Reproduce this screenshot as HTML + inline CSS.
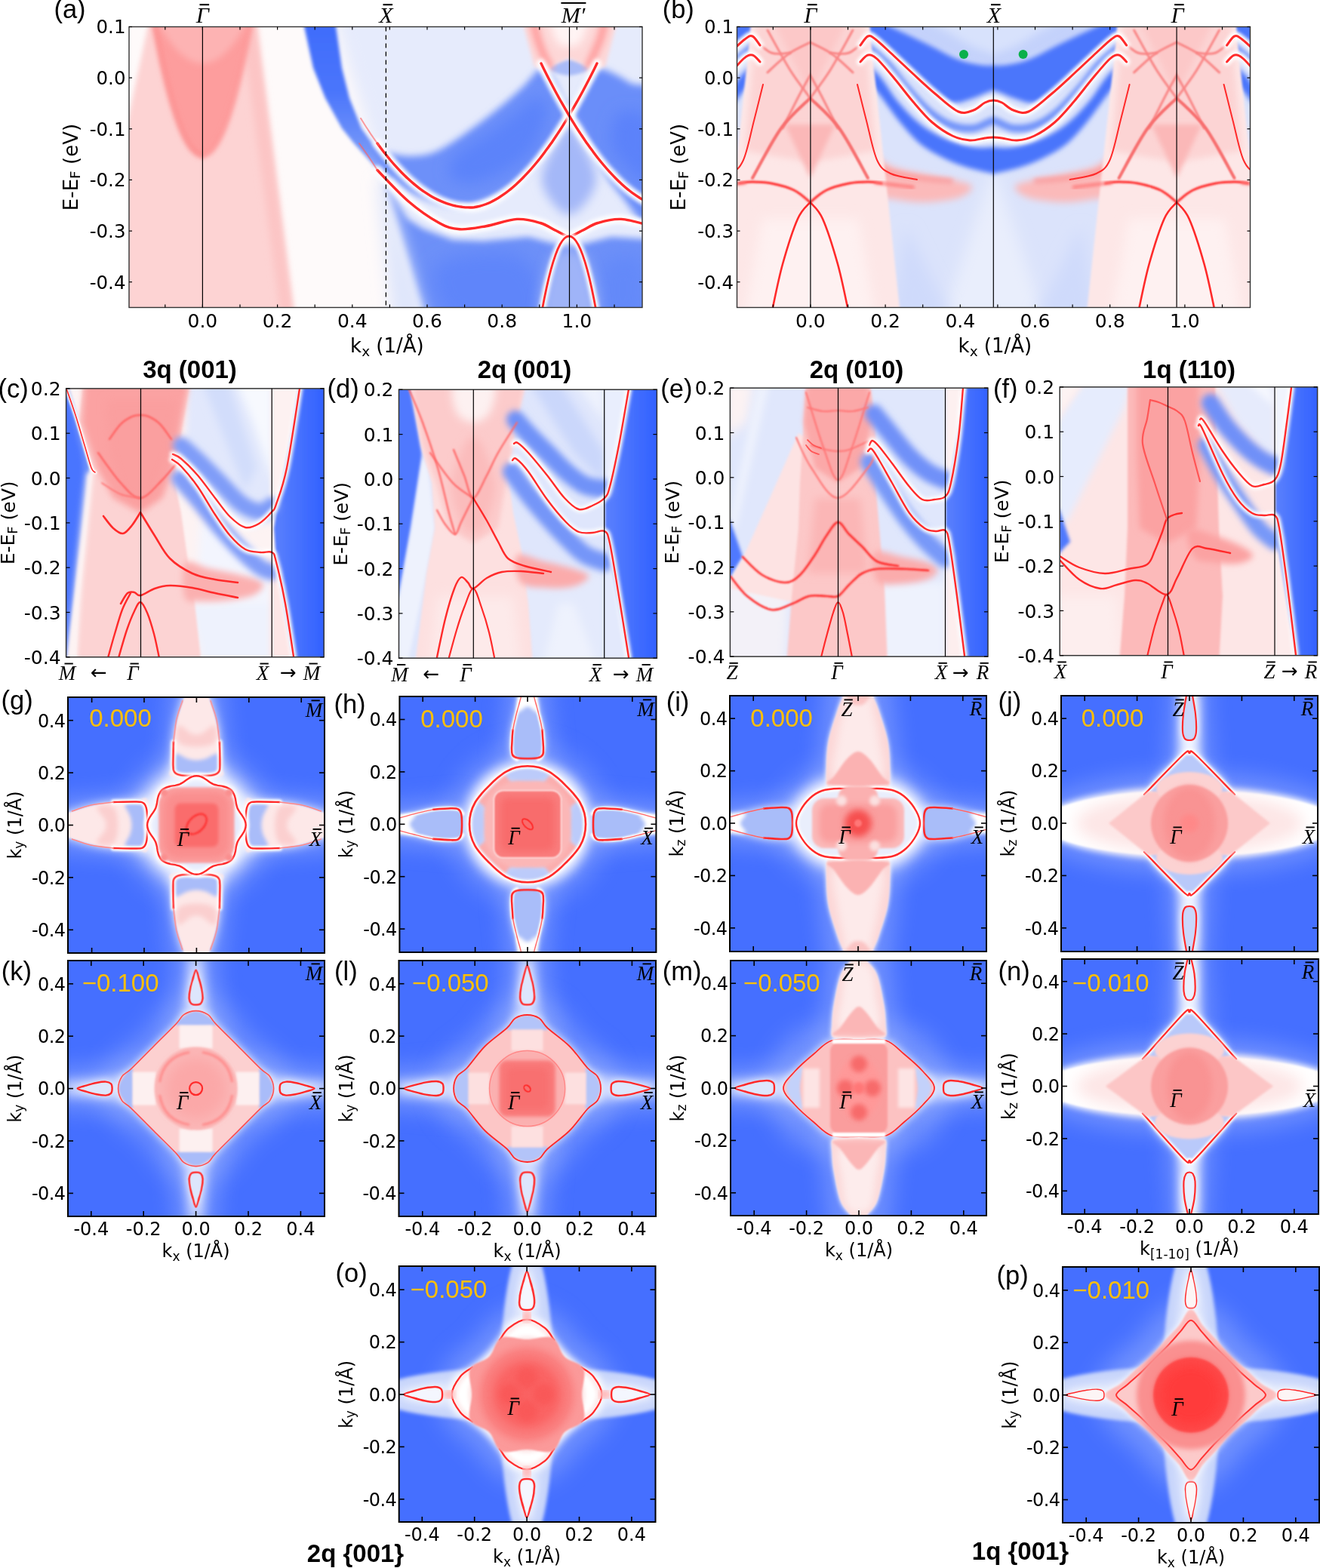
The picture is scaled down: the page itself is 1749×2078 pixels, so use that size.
<!DOCTYPE html>
<html><head><meta charset="utf-8"><title>Figure</title>
<style>html,body{margin:0;padding:0;background:#fff;}body{width:1749px;height:2078px;overflow:hidden;}svg{display:block;}</style>
</head><body>
<svg width="1749" height="2078" viewBox="0 0 1749 2078"><defs><clipPath id="c1"><rect x="171" y="35.5" width="680" height="372"/></clipPath><filter id="b0" x="-50%" y="-50%" width="200%" height="200%"><feGaussianBlur stdDeviation="10"/></filter><filter id="b1" x="-50%" y="-50%" width="200%" height="200%"><feGaussianBlur stdDeviation="3"/></filter><filter id="b2" x="-50%" y="-50%" width="200%" height="200%"><feGaussianBlur stdDeviation="5"/></filter><filter id="b3" x="-50%" y="-50%" width="200%" height="200%"><feGaussianBlur stdDeviation="2"/></filter><filter id="b4" x="-50%" y="-50%" width="200%" height="200%"><feGaussianBlur stdDeviation="4"/></filter><linearGradient id="gband" x1="0" y1="0" x2="0" y2="1" gradientUnits="objectBoundingBox"><stop offset="0" stop-color="#3e6bfb"/><stop offset="0.45" stop-color="#4a75fb"/><stop offset="0.8" stop-color="#7496f8"/><stop offset="1" stop-color="#a9bdf8"/></linearGradient><filter id="b5" x="-50%" y="-50%" width="200%" height="200%"><feGaussianBlur stdDeviation="7"/></filter><filter id="b6" x="-50%" y="-50%" width="200%" height="200%"><feGaussianBlur stdDeviation="12"/></filter><filter id="b7" x="-50%" y="-50%" width="200%" height="200%"><feGaussianBlur stdDeviation="8"/></filter><filter id="b8" x="-50%" y="-50%" width="200%" height="200%"><feGaussianBlur stdDeviation="2.5"/></filter><filter id="b9" x="-50%" y="-50%" width="200%" height="200%"><feGaussianBlur stdDeviation="6"/></filter><filter id="b10" x="-50%" y="-50%" width="200%" height="200%"><feGaussianBlur stdDeviation="0.6"/></filter><filter id="b11" x="-50%" y="-50%" width="200%" height="200%"><feGaussianBlur stdDeviation="0.5"/></filter><clipPath id="c2"><rect x="1073.5" y="35.5" width="242.8" height="372"/></clipPath><filter id="b12" x="-50%" y="-50%" width="200%" height="200%"><feGaussianBlur stdDeviation="1.5"/></filter><filter id="b13" x="-50%" y="-50%" width="200%" height="200%"><feGaussianBlur stdDeviation="1.2"/></filter><filter id="b14" x="-50%" y="-50%" width="200%" height="200%"><feGaussianBlur stdDeviation="0.8"/></filter><filter id="b15" x="-50%" y="-50%" width="200%" height="200%"><feGaussianBlur stdDeviation="2.2"/></filter><clipPath id="c3"><rect x="1316.3" y="35.5" width="242.8" height="372"/></clipPath><clipPath id="c4"><rect x="976.5" y="35.5" width="97" height="372"/></clipPath><clipPath id="c5"><rect x="1559.1" y="35.5" width="97.4" height="372"/></clipPath><clipPath id="c6"><rect x="87.6" y="514.9" width="341.6" height="355.9"/></clipPath><linearGradient id="gcr" x1="0" y1="0" x2="1" y2="0"><stop offset="0" stop-color="#5a80fd"/><stop offset="1" stop-color="#2b5cff"/></linearGradient><filter id="b16" x="-50%" y="-50%" width="200%" height="200%"><feGaussianBlur stdDeviation="0.4"/></filter><filter id="b17" x="-50%" y="-50%" width="200%" height="200%"><feGaussianBlur stdDeviation="1"/></filter><filter id="b18" x="-50%" y="-50%" width="200%" height="200%"><feGaussianBlur stdDeviation="0.7"/></filter><clipPath id="c7"><rect x="528.5" y="516.3" width="341.9" height="355.9"/></clipPath><linearGradient id="gdr" x1="0" y1="0" x2="1" y2="0"><stop offset="0" stop-color="#5a80fd"/><stop offset="1" stop-color="#2b5cff"/></linearGradient><clipPath id="c8"><rect x="967.4" y="514.2" width="341.6" height="355.9"/></clipPath><linearGradient id="ger" x1="0" y1="0" x2="1" y2="0"><stop offset="0" stop-color="#5a80fd"/><stop offset="1" stop-color="#2b5cff"/></linearGradient><clipPath id="c9"><rect x="1404.2" y="512.9" width="341.4" height="355.8"/></clipPath><linearGradient id="gfr" x1="0" y1="0" x2="1" y2="0"><stop offset="0" stop-color="#5a80fd"/><stop offset="1" stop-color="#2b5cff"/></linearGradient><clipPath id="c10"><rect x="90" y="924" width="340" height="339"/></clipPath><filter id="b19" x="-50%" y="-50%" width="200%" height="200%"><feGaussianBlur stdDeviation="16"/></filter><filter id="b20" x="-50%" y="-50%" width="200%" height="200%"><feGaussianBlur stdDeviation="14"/></filter><clipPath id="c11"><rect x="529.4" y="923" width="340" height="339"/></clipPath><filter id="b21" x="-50%" y="-50%" width="200%" height="200%"><feGaussianBlur stdDeviation="1.8"/></filter><clipPath id="c12"><rect x="967" y="922" width="340" height="339"/></clipPath><filter id="b22" x="-50%" y="-50%" width="200%" height="200%"><feGaussianBlur stdDeviation="9"/></filter><clipPath id="c13"><rect x="1406" y="922" width="340" height="339"/></clipPath><clipPath id="c14"><rect x="90" y="1273" width="340" height="339"/></clipPath><clipPath id="c15"><rect x="528.5" y="1273" width="340.5" height="339"/></clipPath><clipPath id="c16"><rect x="968" y="1273" width="339" height="338"/></clipPath><clipPath id="c17"><rect x="1407" y="1271" width="340" height="338"/></clipPath><clipPath id="c18"><rect x="528.7" y="1678" width="339.8" height="339"/></clipPath><clipPath id="c19"><rect x="1408" y="1679" width="340" height="339"/></clipPath></defs><rect width="1749" height="2078" fill="#fff"/><g clip-path="url(#c1)"><rect x="171" y="35.5" width="680" height="372" fill="#fefafa" /><path d="M470,10 C543.3,10 811.7,-60 880,10 C948.3,80 930.8,360 880,430 C829.2,500 633.3,451.7 575,430 C516.7,408.3 542.5,336.7 530,300 C517.5,263.3 515,258.3 500,210 C485,161.7 445,43.3 440,10 C435,-23.3 396.7,10 470,10 Z" fill="#e6ebfc" filter="url(#b0)" /><path d="M199,20 L337,20 L389,420 L150,420 L150,250 Z" fill="#fdd3d3" filter="url(#b1)" /><path d="M318,20 L338,20 L389,420 L372,420 Z" fill="#fcc5c5" filter="url(#b2)" /><path d="M200,7.6 L203.4,27 L206.8,45.4 L210.3,62.8 L213.7,79.1 L217.1,94.5 L220.6,108.9 L224,122.3 L227.4,134.7 L230.8,146.1 L234.2,156.6 L237.7,166 L241.1,174.4 L244.5,181.8 L247.9,188.3 L251.4,193.7 L254.8,198.2 L258.2,201.6 L261.6,204.1 L265.1,205.5 L268.5,206 L271.9,205.5 L275.4,204 L278.8,201.4 L282.2,197.9 L285.6,193.4 L289.1,187.9 L292.5,181.4 L295.9,173.9 L299.3,165.5 L302.8,156 L306.2,145.5 L309.6,134 L313,121.6 L316.4,108.1 L319.9,93.7 L323.3,78.2 L326.7,61.8 L330.1,44.3 L333.6,25.9 L337,6.5 Z" fill="#fd9d9d" filter="url(#b3)" /><path d="M203,24.6 L205.2,36.5 L207.3,47.9 L209.5,58.9 L211.7,69.5 L213.8,79.8 L216,89.6 L218.2,99 L220.3,108 L222.5,116.7 L224.7,124.9 L226.8,132.7 L229,140.2 L231.2,147.2 L233.3,153.9 L235.5,160.1 L237.7,166 L239.8,171.4 L242,176.4 L244.2,181.1 L246.3,185.4 L248.5,189.2 L250.7,192.7 L252.8,195.7 L255,198.4 L257.2,200.6 L259.3,202.5 L261.5,204 L263.7,205.1 L265.8,205.7 L268,206" fill="none" stroke="#fc8c8c" stroke-width="6" stroke-linecap="round" stroke-linejoin="round" filter="url(#b1)" /><path d="M268,206 L270.2,205.9 L272.3,205.3 L274.5,204.4 L276.7,203.1 L278.8,201.4 L281,199.3 L283.2,196.8 L285.3,193.8 L287.5,190.5 L289.7,186.8 L291.8,182.7 L294,178.2 L296.2,173.3 L298.3,168 L300.5,162.3 L302.7,156.2 L304.8,149.7 L307,142.8 L309.2,135.5 L311.3,127.8 L313.5,119.8 L315.7,111.3 L317.8,102.4 L320,93.1 L322.2,83.4 L324.3,73.3 L326.5,62.9 L328.7,52 L330.8,40.7 L333,29.1" fill="none" stroke="#fd9595" stroke-width="5" stroke-linecap="round" stroke-linejoin="round" filter="url(#b1)" /><path d="M205,21.7 L208.2,27.8 L211.3,33.6 L214.5,39 L217.7,44.2 L220.9,49 L224.1,53.5 L227.2,57.7 L230.4,61.6 L233.6,65.2 L236.8,68.5 L239.9,71.4 L243.1,74.1 L246.3,76.4 L249.4,78.4 L252.6,80.1 L255.8,81.5 L259,82.6 L262.1,83.4 L265.3,83.9 L268.5,84 L271.7,83.8 L274.9,83.4 L278,82.6 L281.2,81.5 L284.4,80 L287.6,78.3 L290.7,76.3 L293.9,73.9 L297.1,71.3 L300.2,68.3 L303.4,65 L306.6,61.4 L309.8,57.5 L312.9,53.2 L316.1,48.7 L319.3,43.8 L322.5,38.7 L325.6,33.2 L328.8,27.4 L332,21.3 Z" fill="#fdb3b3" filter="url(#b4)" /><path d="M400,20 L403,35 L415,90 L431,130 L453,170 L469,190 L487,210 L505,230 L516,242 L522,232 L515,220 L509,210 L493,190 L479,170 L463,130 L453,90 L445,35 L444,20 Z" fill="url(#gband)" filter="url(#b3)" /><path d="M490,190 C489.2,185.3 499.2,197.5 505,200 C510.8,202.5 517.8,203.8 525,205 C532.2,206.2 539.7,207.5 548,207 C556.3,206.5 565.5,205.7 575,202 C584.5,198.3 592.5,193.3 605,185 C617.5,176.7 635.8,163.2 650,152 C664.2,140.8 680.3,127 690,118 C699.7,109 703.7,102.3 708,98 C712.3,93.7 712.3,91.7 716,92 C719.7,92.3 725.2,93.7 730,100 C734.8,106.3 741,121.2 745,130 C749,138.8 761.5,136.3 754,153 C746.5,169.7 721.8,210.2 700,230 C678.2,249.8 646.3,266.7 623,272 C599.7,277.3 578.8,269.3 560,262 C541.2,254.7 521.7,240 510,228 C498.3,216 490.8,194.7 490,190 Z" fill="#6d90f9" filter="url(#b2)" /><path d="M600,210 C608.3,199.5 635,185.8 650,175 C665,164.2 679.7,152.8 690,145 C700.3,137.2 706.2,127.2 712,128 C717.8,128.8 727,137.2 725,150 C723,162.8 714.2,190 700,205 C685.8,220 656.7,234.5 640,240 C623.3,245.5 606.7,243 600,238 C593.3,233 591.7,220.5 600,210 Z" fill="#5c83fa" filter="url(#b0)" /><path d="M793,92 C798.3,89.7 803,93 810,96 C817,99 825,103.5 835,110 C845,116.5 864.2,103.3 870,135 C875.8,166.7 878.3,280 870,300 C861.7,320 833.3,270 820,255 C806.7,240 798.3,224.2 790,210 C781.7,195.8 775,180 770,170 C765,160 758.7,160 760,150 C761.3,140 772.5,119.7 778,110 C783.5,100.3 787.7,94.3 793,92 Z" fill="#6a8ef9" filter="url(#b2)" /><path d="M820,150 C828.3,145 853.3,145 860,160 C866.7,175 865,230 860,240 C855,250 838.3,228.3 830,220 C821.7,211.7 811.7,201.7 810,190 C808.3,178.3 811.7,155 820,150 Z" fill="#5b82fa" filter="url(#b0)" /><path d="M742,180 C748,167.5 750,165 754,165 C758,165 760,167.5 766,180 C772,192.5 792,222.5 790,240 C788,257.5 766,285 754,285 C742,285 720,257.5 718,240 C716,222.5 736,192.5 742,180 Z" fill="#a4b8f8" filter="url(#b5)" /><path d="M508,238 L540,290 L560,303 L600,318 L640,320 L700,314 L754,328 L810,314 L870,318 L870,430 L566,430 Z" fill="#6d90f8" filter="url(#b4)" /><path d="M500,240 L512,242 L566,430 L520,430 Z" fill="#dfe6fb" filter="url(#b0)" /><path d="M580,350 C595,336.7 667.5,328.3 690,340 C712.5,351.7 730,406.7 715,420 C700,433.3 622.5,431.7 600,420 C577.5,408.3 565,363.3 580,350 Z" fill="#5e85fa" filter="url(#b6)" /><path d="M800,350 C808.3,337.5 841.7,333.3 850,345 C858.3,356.7 858.3,407.5 850,420 C841.7,432.5 808.3,431.7 800,420 C791.7,408.3 791.7,362.5 800,350 Z" fill="#6489f9" filter="url(#b6)" /><path d="M730,345 C736,330 746,330 754,330 C762,330 772,330 778,345 C784,360 800,407.5 790,420 C780,432.5 728,432.5 718,420 C708,407.5 724,360 730,345 Z" fill="#9fb4f8" filter="url(#b7)" /><path d="M728,92 C725.3,89.2 733.7,85.2 738,83 C742.3,80.8 748.7,79 754,79 C759.3,79 765.7,80.8 770,83 C774.3,85.2 782.7,89.2 780,92 C777.3,94.8 762.7,100 754,100 C745.3,100 730.7,94.8 728,92 Z" fill="#a9bbf8" filter="url(#b3)" /><path d="M690,20 L820,20 L802,88 L786,92 L754,77 L722,92 L708,88 Z" fill="#fdd7d7" filter="url(#b8)" /><path d="M730,25 C732.7,20 746,25 754,25 C762,25 775.3,20 778,25 C780.7,30 774,48.8 770,55 C766,61.2 759.3,62 754,62 C748.7,62 742,61.2 738,55 C734,48.8 727.3,30 730,25 Z" fill="#fff4f4" filter="url(#b9)" /><path d="M706,25 C707,29.2 709.5,41.8 712,50 C714.5,58.2 718.3,67.7 721,74 C723.7,80.3 726.8,85.7 728,88" fill="none" stroke="#ff9d9d" stroke-width="10" stroke-linecap="round" stroke-linejoin="round" filter="url(#b4)" /><path d="M802,25 C801,29.2 798.7,41.8 796,50 C793.3,58.2 788.7,67.7 786,74 C783.3,80.3 781,85.7 780,88" fill="none" stroke="#ff9d9d" stroke-width="10" stroke-linecap="round" stroke-linejoin="round" filter="url(#b4)" /><path d="M500,190 C501.3,191.8 505.3,197.3 508,200.7 C510.7,204.1 513.3,207.5 516,210.7 C518.7,213.9 521.3,217 524,219.9 C526.7,222.9 529.3,225.7 532,228.5 C534.7,231.2 537.3,233.8 540,236.3 C542.7,238.8 545.3,241.1 548,243.4 C550.7,245.6 553.3,247.8 556,249.8 C558.7,251.8 561.3,253.7 564,255.4 C566.7,257.2 569.3,258.9 572,260.4 C574.7,261.9 577.3,263.3 580,264.6 C582.7,265.9 585.3,267.1 588,268.1 C590.7,269.2 593.3,270.1 596,270.9 C598.7,271.7 601.3,272.4 604,273 C606.7,273.5 609.3,274 612,274.3 C614.7,274.6 617.3,274.9 620,274.9 C622.7,275 625.3,275 628,274.7 C630.7,274.3 633.3,273.8 636,273.1 C638.7,272.4 641.3,271.5 644,270.5 C646.7,269.4 649.3,268.3 652,266.9 C654.7,265.6 657.3,264.1 660,262.5 C662.7,260.8 665.3,259.1 668,257.2 C670.7,255.3 673.3,253.2 676,251.1 C678.7,248.9 681.3,246.6 684,244.2 C686.7,241.8 689.3,239.2 692,236.5 C694.7,233.8 697.3,231 700,228.1 C702.7,225.2 705.3,222.2 708,219 C710.7,215.8 713.3,212.6 716,209.2 C718.7,205.8 721.3,202.2 724,198.6 C726.7,195 729.3,191.2 732,187.4 C734.7,183.5 737.3,179.5 740,175.5 C742.7,171.4 745.3,167.2 748,162.9 C750.7,158.6 753.3,154.2 756,149.6 C758.7,145.1 761.3,140.5 764,135.7 C766.7,131 769.3,126.1 772,121.2 C774.7,116.2 777.3,111.2 780,106 C782.7,100.8 786.2,93.8 788,90.2 C789.8,86.5 790.5,85.1 791,84.1" fill="none" stroke="#ffffff" stroke-width="12" stroke-linecap="round" stroke-linejoin="round" filter="url(#b8)" /><path d="M500,190 C501.3,191.8 505.3,197.3 508,200.7 C510.7,204.1 513.3,207.5 516,210.7 C518.7,213.9 521.3,217 524,219.9 C526.7,222.9 529.3,225.7 532,228.5 C534.7,231.2 537.3,233.8 540,236.3 C542.7,238.8 545.3,241.1 548,243.4 C550.7,245.6 553.3,247.8 556,249.8 C558.7,251.8 561.3,253.7 564,255.4 C566.7,257.2 569.3,258.9 572,260.4 C574.7,261.9 577.3,263.3 580,264.6 C582.7,265.9 585.3,267.1 588,268.1 C590.7,269.2 593.3,270.1 596,270.9 C598.7,271.7 601.3,272.4 604,273 C606.7,273.5 609.3,274 612,274.3 C614.7,274.6 617.3,274.9 620,274.9 C622.7,275 625.3,275 628,274.7 C630.7,274.3 633.3,273.8 636,273.1 C638.7,272.4 641.3,271.5 644,270.5 C646.7,269.4 649.3,268.3 652,266.9 C654.7,265.6 657.3,264.1 660,262.5 C662.7,260.8 665.3,259.1 668,257.2 C670.7,255.3 673.3,253.2 676,251.1 C678.7,248.9 681.3,246.6 684,244.2 C686.7,241.8 689.3,239.2 692,236.5 C694.7,233.8 697.3,231 700,228.1 C702.7,225.2 705.3,222.2 708,219 C710.7,215.8 713.3,212.6 716,209.2 C718.7,205.8 721.3,202.2 724,198.6 C726.7,195 729.3,191.2 732,187.4 C734.7,183.5 737.3,179.5 740,175.5 C742.7,171.4 745.3,167.2 748,162.9 C750.7,158.6 753.3,154.2 756,149.6 C758.7,145.1 761.3,140.5 764,135.7 C766.7,131 769.3,126.1 772,121.2 C774.7,116.2 777.3,111.2 780,106 C782.7,100.8 786.2,93.8 788,90.2 C789.8,86.5 790.5,85.1 791,84.1" fill="none" stroke="#ff2a2a" stroke-width="3.4" stroke-linecap="round" stroke-linejoin="round" filter="url(#b10)" /><path d="M1008,190 C1006.7,191.8 1002.7,197.3 1000,200.7 C997.3,204.1 994.7,207.5 992,210.7 C989.3,213.9 986.7,217 984,219.9 C981.3,222.9 978.7,225.7 976,228.5 C973.3,231.2 970.7,233.8 968,236.3 C965.3,238.8 962.7,241.1 960,243.4 C957.3,245.6 954.7,247.8 952,249.8 C949.3,251.8 946.7,253.7 944,255.4 C941.3,257.2 938.7,258.9 936,260.4 C933.3,261.9 930.7,263.3 928,264.6 C925.3,265.9 922.7,267.1 920,268.1 C917.3,269.2 914.7,270.1 912,270.9 C909.3,271.7 906.7,272.4 904,273 C901.3,273.5 898.7,274 896,274.3 C893.3,274.6 890.7,274.9 888,274.9 C885.3,275 882.7,275 880,274.7 C877.3,274.3 874.7,273.8 872,273.1 C869.3,272.4 866.7,271.5 864,270.5 C861.3,269.4 858.7,268.3 856,266.9 C853.3,265.6 850.7,264.1 848,262.5 C845.3,260.8 842.7,259.1 840,257.2 C837.3,255.3 834.7,253.2 832,251.1 C829.3,248.9 826.7,246.6 824,244.2 C821.3,241.8 818.7,239.2 816,236.5 C813.3,233.8 810.7,231 808,228.1 C805.3,225.2 802.7,222.2 800,219 C797.3,215.8 794.7,212.6 792,209.2 C789.3,205.8 786.7,202.2 784,198.6 C781.3,195 778.7,191.2 776,187.4 C773.3,183.5 770.7,179.5 768,175.5 C765.3,171.4 762.7,167.2 760,162.9 C757.3,158.6 754.7,154.2 752,149.6 C749.3,145.1 746.7,140.5 744,135.7 C741.3,131 738.7,126.1 736,121.2 C733.3,116.2 730.7,111.2 728,106 C725.3,100.8 721.8,93.8 720,90.2 C718.2,86.5 717.5,85.1 717,84.1" fill="none" stroke="#ffffff" stroke-width="12" stroke-linecap="round" stroke-linejoin="round" filter="url(#b8)" /><path d="M1008,190 C1006.7,191.8 1002.7,197.3 1000,200.7 C997.3,204.1 994.7,207.5 992,210.7 C989.3,213.9 986.7,217 984,219.9 C981.3,222.9 978.7,225.7 976,228.5 C973.3,231.2 970.7,233.8 968,236.3 C965.3,238.8 962.7,241.1 960,243.4 C957.3,245.6 954.7,247.8 952,249.8 C949.3,251.8 946.7,253.7 944,255.4 C941.3,257.2 938.7,258.9 936,260.4 C933.3,261.9 930.7,263.3 928,264.6 C925.3,265.9 922.7,267.1 920,268.1 C917.3,269.2 914.7,270.1 912,270.9 C909.3,271.7 906.7,272.4 904,273 C901.3,273.5 898.7,274 896,274.3 C893.3,274.6 890.7,274.9 888,274.9 C885.3,275 882.7,275 880,274.7 C877.3,274.3 874.7,273.8 872,273.1 C869.3,272.4 866.7,271.5 864,270.5 C861.3,269.4 858.7,268.3 856,266.9 C853.3,265.6 850.7,264.1 848,262.5 C845.3,260.8 842.7,259.1 840,257.2 C837.3,255.3 834.7,253.2 832,251.1 C829.3,248.9 826.7,246.6 824,244.2 C821.3,241.8 818.7,239.2 816,236.5 C813.3,233.8 810.7,231 808,228.1 C805.3,225.2 802.7,222.2 800,219 C797.3,215.8 794.7,212.6 792,209.2 C789.3,205.8 786.7,202.2 784,198.6 C781.3,195 778.7,191.2 776,187.4 C773.3,183.5 770.7,179.5 768,175.5 C765.3,171.4 762.7,167.2 760,162.9 C757.3,158.6 754.7,154.2 752,149.6 C749.3,145.1 746.7,140.5 744,135.7 C741.3,131 738.7,126.1 736,121.2 C733.3,116.2 730.7,111.2 728,106 C725.3,100.8 721.8,93.8 720,90.2 C718.2,86.5 717.5,85.1 717,84.1" fill="none" stroke="#ff2a2a" stroke-width="3.4" stroke-linecap="round" stroke-linejoin="round" filter="url(#b10)" /><path d="M478,156.9 C478.7,157.9 480.7,161.2 482,163.3 C483.3,165.4 484.7,167.5 486,169.5 C487.3,171.6 488.7,173.6 490,175.6 C491.3,177.6 492.7,179.6 494,181.5 C495.3,183.4 496.7,185.3 498,187.2 C499.3,189.1 501.3,191.8 502,192.7" fill="none" stroke="#ff6060" stroke-width="2" stroke-linecap="round" stroke-linejoin="round" filter="url(#b11)" opacity="0.6"/><path d="M500,225.5 C506.8,232.4 527.3,255 541,266.7 C554.7,278.4 570.7,289.3 582,295.5 C593.3,301.7 598.7,303.1 609,303.8 C619.3,304.5 631.3,301.9 644,299.7 C656.7,297.5 673,291.1 685,290.4 C697,289.7 707.3,292.9 716,295.5 C724.7,298.1 730.7,302.9 737,305.8 C743.3,308.7 748.3,313 754,313 C759.7,313 764.7,308.7 771,305.8 C777.3,302.9 783.3,298.1 792,295.5 C800.7,292.9 811,289.7 823,290.4 C835,291.1 857.2,298.1 864,299.7" fill="none" stroke="#ffffff" stroke-width="12" stroke-linecap="round" stroke-linejoin="round" filter="url(#b8)" /><path d="M500,225.5 C506.8,232.4 527.3,255 541,266.7 C554.7,278.4 570.7,289.3 582,295.5 C593.3,301.7 598.7,303.1 609,303.8 C619.3,304.5 631.3,301.9 644,299.7 C656.7,297.5 673,291.1 685,290.4 C697,289.7 707.3,292.9 716,295.5 C724.7,298.1 730.7,302.9 737,305.8 C743.3,308.7 748.3,313 754,313 C759.7,313 764.7,308.7 771,305.8 C777.3,302.9 783.3,298.1 792,295.5 C800.7,292.9 811,289.7 823,290.4 C835,291.1 857.2,298.1 864,299.7" fill="none" stroke="#ff2a2a" stroke-width="3.4" stroke-linecap="round" stroke-linejoin="round" filter="url(#b10)" /><path d="M476,190 C478.3,193.3 486,204.1 490,210 C494,215.9 498.3,222.9 500,225.5" fill="none" stroke="#ff6060" stroke-width="2" stroke-linecap="round" stroke-linejoin="round" filter="url(#b11)" opacity="0.6"/><path d="M712,448.4 C713,442.4 716,423.5 718,412.4 C720,401.4 722,391.3 724,382.1 C726,372.9 728,364.6 730,357.2 C732,349.8 734,343.4 736,337.9 C738,332.3 740,327.7 742,324 C744,320.4 746,317.6 748,315.8 C750,313.9 752,313 754,313 C756,313 758,313.9 760,315.8 C762,317.6 764,320.4 766,324 C768,327.7 770,332.3 772,337.9 C774,343.4 776,349.8 778,357.2 C780,364.6 782,372.9 784,382.1 C786,391.3 788,401.4 790,412.4 C792,423.5 795,442.4 796,448.4" fill="none" stroke="#ffffff" stroke-width="9" stroke-linecap="round" stroke-linejoin="round" filter="url(#b3)" /><path d="M712,448.4 C713,442.4 716,423.5 718,412.4 C720,401.4 722,391.3 724,382.1 C726,372.9 728,364.6 730,357.2 C732,349.8 734,343.4 736,337.9 C738,332.3 740,327.7 742,324 C744,320.4 746,317.6 748,315.8 C750,313.9 752,313 754,313 C756,313 758,313.9 760,315.8 C762,317.6 764,320.4 766,324 C768,327.7 770,332.3 772,337.9 C774,343.4 776,349.8 778,357.2 C780,364.6 782,372.9 784,382.1 C786,391.3 788,401.4 790,412.4 C792,423.5 795,442.4 796,448.4" fill="none" stroke="#ff2a2a" stroke-width="2.8" stroke-linecap="round" stroke-linejoin="round" filter="url(#b10)" /></g><line x1="511.4" y1="35.5" x2="511.4" y2="407.5" stroke="#000" stroke-width="1.3" stroke-dasharray="6,5"/><line x1="754.5" y1="35.5" x2="754.5" y2="407.5" stroke="#000" stroke-width="1.2" /><g clip-path="url(#c2)"><g transform=""><rect x="1040" y="20" width="300" height="400" fill="#dbe3fb" /><path d="M1316,225 L1340,240 L1340,420 L1250,420 L1290,300 Z" fill="#e9eefc" filter="url(#b0)" /><path d="M1200,300 L1260,420 L1180,420 Z" fill="#cfdafb" filter="url(#b0)" /><path d="M1150,20 C1175,17 1308.3,8.7 1340,20 C1371.7,31.3 1346.7,77.3 1340,88 C1333.3,98.7 1312.5,86.3 1300,84 C1287.5,81.7 1277.5,78.7 1265,74 C1252.5,69.3 1237.5,62 1225,56 C1212.5,50 1202.5,44 1190,38 C1177.5,32 1125,23 1150,20 Z" fill="#c4d2fb" filter="url(#b4)" /><path d="M1230,20 C1242.5,15.3 1321.7,11.3 1340,20 C1358.3,28.7 1346.7,64.3 1340,72 C1333.3,79.7 1312.5,70 1300,66 C1287.5,62 1276.7,55.7 1265,48 C1253.3,40.3 1217.5,24.7 1230,20 Z" fill="#d8e2fc" filter="url(#b9)" /><path d="M1160,28 C1166.7,28 1178.7,35 1190,40 C1201.3,45 1215,51.7 1228,58 C1241,64.3 1256,73.3 1268,78 C1280,82.7 1288,84 1300,86 C1312,88 1333.3,84.3 1340,90 C1346.7,95.7 1344,115 1340,120 C1336,125 1324.3,118.3 1316,120 C1307.7,121.7 1299,127.3 1290,130 C1281,132.7 1271.7,137.7 1262,136 C1252.3,134.3 1242.8,128 1232,120 C1221.2,112 1207.8,98 1197,88 C1186.2,78 1174.8,68 1167,60 C1159.2,52 1151.2,45.3 1150,40 C1148.8,34.7 1153.3,28 1160,28 Z" fill="#4b76fb" filter="url(#b1)" /><path d="M1150,62 C1154.2,65.7 1166.7,75.2 1175,84 C1183.3,92.8 1190.8,104.5 1200,115 C1209.2,125.5 1220,138.5 1230,147 C1240,155.5 1250,162.2 1260,166 C1270,169.8 1280.7,171 1290,170 C1299.3,169 1307.7,161.7 1316,160 C1324.3,158.3 1336,160 1340,160" fill="none" stroke="#6f92f9" stroke-width="10" stroke-linecap="round" stroke-linejoin="round" filter="url(#b1)" /><path d="M1146,86 C1148.8,85.2 1157.7,91.8 1165,100 C1172.3,108.2 1180.8,124.2 1190,135 C1199.2,145.8 1209.2,156.7 1220,165 C1230.8,173.3 1243.3,180 1255,185 C1266.7,190 1279.8,193.3 1290,195 C1300.2,196.7 1307.7,195 1316,195 C1324.3,195 1336,188.8 1340,195 C1344,201.2 1344,226.2 1340,232 C1336,237.8 1327.7,232.3 1316,230 C1304.3,227.7 1285.2,223.8 1270,218 C1254.8,212.2 1237.5,203.8 1225,195 C1212.5,186.2 1205,176.7 1195,165 C1185,153.3 1172.8,135 1165,125 C1157.2,115 1151.2,111.5 1148,105 C1144.8,98.5 1143.2,86.8 1146,86 Z" fill="#4a75fb" filter="url(#b1)" /><path d="M1150,205 C1155.8,199.3 1171.7,217.5 1185,222 C1198.3,226.5 1215.8,229 1230,232 C1244.2,235 1260.3,237.3 1270,240 C1279.7,242.7 1288,244.3 1288,248 C1288,251.7 1280.5,258.7 1270,262 C1259.5,265.3 1239.2,267.7 1225,268 C1210.8,268.3 1197.5,266 1185,264 C1172.5,262 1155.8,265.8 1150,256 C1144.2,246.2 1144.2,210.7 1150,205 Z" fill="#fbbaba" filter="url(#b2)" /><path d="M1155,215 C1159.2,217.2 1169.2,224.5 1180,228 C1190.8,231.5 1206.7,234 1220,236 C1233.3,238 1253.3,239.3 1260,240" fill="none" stroke="#fb9c9c" stroke-width="6" stroke-linecap="round" stroke-linejoin="round" filter="url(#b1)" /><path d="M997,20 L1150,20 L1152,35 L1192,408 L1194,420 L953,420 L955,408 L995,35 Z" fill="#fde7e7" filter="url(#b12)" /><path d="M1003,20 L1144,20 L1160,200 L1073.5,215 L987,200 Z" fill="#fcd4d4" filter="url(#b4)" /><path d="M1040,165 L1107,165 L1073.5,236 Z" fill="#fbb8b8" filter="url(#b1)" /><path d="M1020,20 L1127,20 L1073.5,125 Z" fill="#fcc8c8" filter="url(#b4)" /><path d="M1010,290 L1137,290 L1160,420 L987,420 Z" fill="#fef1f1" filter="url(#b7)" /><path d="M1073.5,130 C1079.9,136.7 1099.2,152.3 1112,170 C1124.8,187.7 1143.7,225 1150,236" fill="none" stroke="#f98585" stroke-width="3" stroke-linecap="round" stroke-linejoin="round" filter="url(#b13)" /><path d="M1073.5,130 C1077.9,123.8 1090.6,108 1100,93 C1109.4,78 1125,48.8 1130,40" fill="none" stroke="#f98585" stroke-width="3" stroke-linecap="round" stroke-linejoin="round" filter="url(#b13)" /><path d="M1030,40 C1037.2,50 1060.2,78.3 1073.5,100 C1086.8,121.7 1103.9,158.3 1110,170" fill="none" stroke="#f98585" stroke-width="3" stroke-linecap="round" stroke-linejoin="round" filter="url(#b13)" /><path d="M1060,50 C1066.7,53.3 1088.3,62.3 1100,70 C1111.7,77.7 1125,91.7 1130,96" fill="none" stroke="#f98585" stroke-width="3" stroke-linecap="round" stroke-linejoin="round" filter="url(#b13)" /><path d="M1100,70 C1104.2,70 1116.7,73.3 1125,70 C1133.3,66.7 1145.8,53.3 1150,50" fill="none" stroke="#f98585" stroke-width="3" stroke-linecap="round" stroke-linejoin="round" filter="url(#b13)" /><path d="M1073.5,130 C1079.9,136.7 1099.2,152.3 1112,170 C1124.8,187.7 1143.7,225 1150,236" fill="none" stroke="#f76b6b" stroke-width="3" stroke-linecap="round" stroke-linejoin="round" filter="url(#b14)" /><path d="M1073.5,268 C1077.1,265.3 1086.4,256.2 1095,252 C1103.6,247.8 1115.8,244.8 1125,243 C1134.2,241.2 1142.8,241 1150,241 C1157.2,241 1165,242.7 1168,243" fill="none" stroke="#ff2a2a" stroke-width="3" stroke-linecap="round" stroke-linejoin="round" filter="url(#b14)" /><path d="M1160,242 C1164.2,242.5 1176.7,244 1185,245 C1193.3,246 1205.8,247.5 1210,248" fill="none" stroke="#f77" stroke-width="4" stroke-linecap="round" stroke-linejoin="round" filter="url(#b3)" /><path d="M1073.5,268 C1076.2,271.7 1083.9,276.3 1090,290 C1096.1,303.7 1104.3,329.7 1110,350 C1115.7,370.3 1121.7,401.7 1124,412" fill="none" stroke="#ff2a2a" stroke-width="2.6" stroke-linecap="round" stroke-linejoin="round" filter="url(#b10)" /><path d="M1136,112 C1138,120 1143.7,143.3 1148,160 C1152.3,176.7 1156.7,200.3 1162,212 C1167.3,223.7 1171.2,225.7 1180,230 C1188.8,234.3 1209.2,236.7 1215,238" fill="none" stroke="#ff2a2a" stroke-width="2.0" stroke-linecap="round" stroke-linejoin="round" filter="url(#b11)" /><path d="M1140,60 C1141.7,58 1146.7,49.3 1150,48 C1153.3,46.7 1155,48.3 1160,52 C1165,55.7 1171.7,62.3 1180,70 C1188.3,77.7 1200,88.8 1210,98 C1220,107.2 1230,116.7 1240,125 C1250,133.3 1261.7,144.5 1270,148 C1278.3,151.5 1284.2,148 1290,146 C1295.8,144 1300.7,138.2 1305,136 C1309.3,133.8 1312.3,133 1316,133 C1319.7,133 1325.2,135.5 1327,136" fill="none" stroke="#ffffff" stroke-width="10" stroke-linecap="round" stroke-linejoin="round" filter="url(#b15)" /><path d="M1140,60 C1141.7,58 1146.7,49.3 1150,48 C1153.3,46.7 1155,48.3 1160,52 C1165,55.7 1171.7,62.3 1180,70 C1188.3,77.7 1200,88.8 1210,98 C1220,107.2 1230,116.7 1240,125 C1250,133.3 1261.7,144.5 1270,148 C1278.3,151.5 1284.2,148 1290,146 C1295.8,144 1300.7,138.2 1305,136 C1309.3,133.8 1312.3,133 1316,133 C1319.7,133 1325.2,135.5 1327,136" fill="none" stroke="#ff2a2a" stroke-width="3" stroke-linecap="round" stroke-linejoin="round" filter="url(#b10)" /><path d="M1140,82 C1141.7,80.5 1146.3,73.7 1150,73 C1153.7,72.3 1156.2,72.8 1162,78 C1167.8,83.2 1177,94.5 1185,104 C1193,113.5 1201.7,125.3 1210,135 C1218.3,144.7 1226.3,154.5 1235,162 C1243.7,169.5 1253.7,176 1262,180 C1270.3,184 1277.8,185.5 1285,186 C1292.2,186.5 1299.8,183.7 1305,183 C1310.2,182.3 1312.3,182 1316,182 C1319.7,182 1325.2,182.8 1327,183" fill="none" stroke="#ffffff" stroke-width="10" stroke-linecap="round" stroke-linejoin="round" filter="url(#b15)" /><path d="M1140,82 C1141.7,80.5 1146.3,73.7 1150,73 C1153.7,72.3 1156.2,72.8 1162,78 C1167.8,83.2 1177,94.5 1185,104 C1193,113.5 1201.7,125.3 1210,135 C1218.3,144.7 1226.3,154.5 1235,162 C1243.7,169.5 1253.7,176 1262,180 C1270.3,184 1277.8,185.5 1285,186 C1292.2,186.5 1299.8,183.7 1305,183 C1310.2,182.3 1312.3,182 1316,182 C1319.7,182 1325.2,182.8 1327,183" fill="none" stroke="#ff2a2a" stroke-width="3" stroke-linecap="round" stroke-linejoin="round" filter="url(#b10)" /></g></g><g clip-path="url(#c3)"><g transform="translate(2632.6,0) scale(-1,1)"><rect x="1040" y="20" width="300" height="400" fill="#dbe3fb" /><path d="M1316,225 L1340,240 L1340,420 L1250,420 L1290,300 Z" fill="#e9eefc" filter="url(#b0)" /><path d="M1200,300 L1260,420 L1180,420 Z" fill="#cfdafb" filter="url(#b0)" /><path d="M1150,20 C1175,17 1308.3,8.7 1340,20 C1371.7,31.3 1346.7,77.3 1340,88 C1333.3,98.7 1312.5,86.3 1300,84 C1287.5,81.7 1277.5,78.7 1265,74 C1252.5,69.3 1237.5,62 1225,56 C1212.5,50 1202.5,44 1190,38 C1177.5,32 1125,23 1150,20 Z" fill="#c4d2fb" filter="url(#b4)" /><path d="M1230,20 C1242.5,15.3 1321.7,11.3 1340,20 C1358.3,28.7 1346.7,64.3 1340,72 C1333.3,79.7 1312.5,70 1300,66 C1287.5,62 1276.7,55.7 1265,48 C1253.3,40.3 1217.5,24.7 1230,20 Z" fill="#d8e2fc" filter="url(#b9)" /><path d="M1160,28 C1166.7,28 1178.7,35 1190,40 C1201.3,45 1215,51.7 1228,58 C1241,64.3 1256,73.3 1268,78 C1280,82.7 1288,84 1300,86 C1312,88 1333.3,84.3 1340,90 C1346.7,95.7 1344,115 1340,120 C1336,125 1324.3,118.3 1316,120 C1307.7,121.7 1299,127.3 1290,130 C1281,132.7 1271.7,137.7 1262,136 C1252.3,134.3 1242.8,128 1232,120 C1221.2,112 1207.8,98 1197,88 C1186.2,78 1174.8,68 1167,60 C1159.2,52 1151.2,45.3 1150,40 C1148.8,34.7 1153.3,28 1160,28 Z" fill="#4b76fb" filter="url(#b1)" /><path d="M1150,62 C1154.2,65.7 1166.7,75.2 1175,84 C1183.3,92.8 1190.8,104.5 1200,115 C1209.2,125.5 1220,138.5 1230,147 C1240,155.5 1250,162.2 1260,166 C1270,169.8 1280.7,171 1290,170 C1299.3,169 1307.7,161.7 1316,160 C1324.3,158.3 1336,160 1340,160" fill="none" stroke="#6f92f9" stroke-width="10" stroke-linecap="round" stroke-linejoin="round" filter="url(#b1)" /><path d="M1146,86 C1148.8,85.2 1157.7,91.8 1165,100 C1172.3,108.2 1180.8,124.2 1190,135 C1199.2,145.8 1209.2,156.7 1220,165 C1230.8,173.3 1243.3,180 1255,185 C1266.7,190 1279.8,193.3 1290,195 C1300.2,196.7 1307.7,195 1316,195 C1324.3,195 1336,188.8 1340,195 C1344,201.2 1344,226.2 1340,232 C1336,237.8 1327.7,232.3 1316,230 C1304.3,227.7 1285.2,223.8 1270,218 C1254.8,212.2 1237.5,203.8 1225,195 C1212.5,186.2 1205,176.7 1195,165 C1185,153.3 1172.8,135 1165,125 C1157.2,115 1151.2,111.5 1148,105 C1144.8,98.5 1143.2,86.8 1146,86 Z" fill="#4a75fb" filter="url(#b1)" /><path d="M1150,205 C1155.8,199.3 1171.7,217.5 1185,222 C1198.3,226.5 1215.8,229 1230,232 C1244.2,235 1260.3,237.3 1270,240 C1279.7,242.7 1288,244.3 1288,248 C1288,251.7 1280.5,258.7 1270,262 C1259.5,265.3 1239.2,267.7 1225,268 C1210.8,268.3 1197.5,266 1185,264 C1172.5,262 1155.8,265.8 1150,256 C1144.2,246.2 1144.2,210.7 1150,205 Z" fill="#fbbaba" filter="url(#b2)" /><path d="M1155,215 C1159.2,217.2 1169.2,224.5 1180,228 C1190.8,231.5 1206.7,234 1220,236 C1233.3,238 1253.3,239.3 1260,240" fill="none" stroke="#fb9c9c" stroke-width="6" stroke-linecap="round" stroke-linejoin="round" filter="url(#b1)" /><path d="M997,20 L1150,20 L1152,35 L1192,408 L1194,420 L953,420 L955,408 L995,35 Z" fill="#fde7e7" filter="url(#b12)" /><path d="M1003,20 L1144,20 L1160,200 L1073.5,215 L987,200 Z" fill="#fcd4d4" filter="url(#b4)" /><path d="M1040,165 L1107,165 L1073.5,236 Z" fill="#fbb8b8" filter="url(#b1)" /><path d="M1020,20 L1127,20 L1073.5,125 Z" fill="#fcc8c8" filter="url(#b4)" /><path d="M1010,290 L1137,290 L1160,420 L987,420 Z" fill="#fef1f1" filter="url(#b7)" /><path d="M1073.5,130 C1079.9,136.7 1099.2,152.3 1112,170 C1124.8,187.7 1143.7,225 1150,236" fill="none" stroke="#f98585" stroke-width="3" stroke-linecap="round" stroke-linejoin="round" filter="url(#b13)" /><path d="M1073.5,130 C1077.9,123.8 1090.6,108 1100,93 C1109.4,78 1125,48.8 1130,40" fill="none" stroke="#f98585" stroke-width="3" stroke-linecap="round" stroke-linejoin="round" filter="url(#b13)" /><path d="M1030,40 C1037.2,50 1060.2,78.3 1073.5,100 C1086.8,121.7 1103.9,158.3 1110,170" fill="none" stroke="#f98585" stroke-width="3" stroke-linecap="round" stroke-linejoin="round" filter="url(#b13)" /><path d="M1060,50 C1066.7,53.3 1088.3,62.3 1100,70 C1111.7,77.7 1125,91.7 1130,96" fill="none" stroke="#f98585" stroke-width="3" stroke-linecap="round" stroke-linejoin="round" filter="url(#b13)" /><path d="M1100,70 C1104.2,70 1116.7,73.3 1125,70 C1133.3,66.7 1145.8,53.3 1150,50" fill="none" stroke="#f98585" stroke-width="3" stroke-linecap="round" stroke-linejoin="round" filter="url(#b13)" /><path d="M1073.5,130 C1079.9,136.7 1099.2,152.3 1112,170 C1124.8,187.7 1143.7,225 1150,236" fill="none" stroke="#f76b6b" stroke-width="3" stroke-linecap="round" stroke-linejoin="round" filter="url(#b14)" /><path d="M1073.5,268 C1077.1,265.3 1086.4,256.2 1095,252 C1103.6,247.8 1115.8,244.8 1125,243 C1134.2,241.2 1142.8,241 1150,241 C1157.2,241 1165,242.7 1168,243" fill="none" stroke="#ff2a2a" stroke-width="3" stroke-linecap="round" stroke-linejoin="round" filter="url(#b14)" /><path d="M1160,242 C1164.2,242.5 1176.7,244 1185,245 C1193.3,246 1205.8,247.5 1210,248" fill="none" stroke="#f77" stroke-width="4" stroke-linecap="round" stroke-linejoin="round" filter="url(#b3)" /><path d="M1073.5,268 C1076.2,271.7 1083.9,276.3 1090,290 C1096.1,303.7 1104.3,329.7 1110,350 C1115.7,370.3 1121.7,401.7 1124,412" fill="none" stroke="#ff2a2a" stroke-width="2.6" stroke-linecap="round" stroke-linejoin="round" filter="url(#b10)" /><path d="M1136,112 C1138,120 1143.7,143.3 1148,160 C1152.3,176.7 1156.7,200.3 1162,212 C1167.3,223.7 1171.2,225.7 1180,230 C1188.8,234.3 1209.2,236.7 1215,238" fill="none" stroke="#ff2a2a" stroke-width="2.0" stroke-linecap="round" stroke-linejoin="round" filter="url(#b11)" /><path d="M1140,60 C1141.7,58 1146.7,49.3 1150,48 C1153.3,46.7 1155,48.3 1160,52 C1165,55.7 1171.7,62.3 1180,70 C1188.3,77.7 1200,88.8 1210,98 C1220,107.2 1230,116.7 1240,125 C1250,133.3 1261.7,144.5 1270,148 C1278.3,151.5 1284.2,148 1290,146 C1295.8,144 1300.7,138.2 1305,136 C1309.3,133.8 1312.3,133 1316,133 C1319.7,133 1325.2,135.5 1327,136" fill="none" stroke="#ffffff" stroke-width="10" stroke-linecap="round" stroke-linejoin="round" filter="url(#b15)" /><path d="M1140,60 C1141.7,58 1146.7,49.3 1150,48 C1153.3,46.7 1155,48.3 1160,52 C1165,55.7 1171.7,62.3 1180,70 C1188.3,77.7 1200,88.8 1210,98 C1220,107.2 1230,116.7 1240,125 C1250,133.3 1261.7,144.5 1270,148 C1278.3,151.5 1284.2,148 1290,146 C1295.8,144 1300.7,138.2 1305,136 C1309.3,133.8 1312.3,133 1316,133 C1319.7,133 1325.2,135.5 1327,136" fill="none" stroke="#ff2a2a" stroke-width="3" stroke-linecap="round" stroke-linejoin="round" filter="url(#b10)" /><path d="M1140,82 C1141.7,80.5 1146.3,73.7 1150,73 C1153.7,72.3 1156.2,72.8 1162,78 C1167.8,83.2 1177,94.5 1185,104 C1193,113.5 1201.7,125.3 1210,135 C1218.3,144.7 1226.3,154.5 1235,162 C1243.7,169.5 1253.7,176 1262,180 C1270.3,184 1277.8,185.5 1285,186 C1292.2,186.5 1299.8,183.7 1305,183 C1310.2,182.3 1312.3,182 1316,182 C1319.7,182 1325.2,182.8 1327,183" fill="none" stroke="#ffffff" stroke-width="10" stroke-linecap="round" stroke-linejoin="round" filter="url(#b15)" /><path d="M1140,82 C1141.7,80.5 1146.3,73.7 1150,73 C1153.7,72.3 1156.2,72.8 1162,78 C1167.8,83.2 1177,94.5 1185,104 C1193,113.5 1201.7,125.3 1210,135 C1218.3,144.7 1226.3,154.5 1235,162 C1243.7,169.5 1253.7,176 1262,180 C1270.3,184 1277.8,185.5 1285,186 C1292.2,186.5 1299.8,183.7 1305,183 C1310.2,182.3 1312.3,182 1316,182 C1319.7,182 1325.2,182.8 1327,183" fill="none" stroke="#ff2a2a" stroke-width="3" stroke-linecap="round" stroke-linejoin="round" filter="url(#b10)" /></g></g><g clip-path="url(#c4)"><g transform="translate(2147.0,0) scale(-1,1)"><rect x="1040" y="20" width="300" height="400" fill="#dbe3fb" /><path d="M1316,225 L1340,240 L1340,420 L1250,420 L1290,300 Z" fill="#e9eefc" filter="url(#b0)" /><path d="M1200,300 L1260,420 L1180,420 Z" fill="#cfdafb" filter="url(#b0)" /><path d="M1150,20 C1175,17 1308.3,8.7 1340,20 C1371.7,31.3 1346.7,77.3 1340,88 C1333.3,98.7 1312.5,86.3 1300,84 C1287.5,81.7 1277.5,78.7 1265,74 C1252.5,69.3 1237.5,62 1225,56 C1212.5,50 1202.5,44 1190,38 C1177.5,32 1125,23 1150,20 Z" fill="#c4d2fb" filter="url(#b4)" /><path d="M1230,20 C1242.5,15.3 1321.7,11.3 1340,20 C1358.3,28.7 1346.7,64.3 1340,72 C1333.3,79.7 1312.5,70 1300,66 C1287.5,62 1276.7,55.7 1265,48 C1253.3,40.3 1217.5,24.7 1230,20 Z" fill="#d8e2fc" filter="url(#b9)" /><path d="M1160,28 C1166.7,28 1178.7,35 1190,40 C1201.3,45 1215,51.7 1228,58 C1241,64.3 1256,73.3 1268,78 C1280,82.7 1288,84 1300,86 C1312,88 1333.3,84.3 1340,90 C1346.7,95.7 1344,115 1340,120 C1336,125 1324.3,118.3 1316,120 C1307.7,121.7 1299,127.3 1290,130 C1281,132.7 1271.7,137.7 1262,136 C1252.3,134.3 1242.8,128 1232,120 C1221.2,112 1207.8,98 1197,88 C1186.2,78 1174.8,68 1167,60 C1159.2,52 1151.2,45.3 1150,40 C1148.8,34.7 1153.3,28 1160,28 Z" fill="#4b76fb" filter="url(#b1)" /><path d="M1150,62 C1154.2,65.7 1166.7,75.2 1175,84 C1183.3,92.8 1190.8,104.5 1200,115 C1209.2,125.5 1220,138.5 1230,147 C1240,155.5 1250,162.2 1260,166 C1270,169.8 1280.7,171 1290,170 C1299.3,169 1307.7,161.7 1316,160 C1324.3,158.3 1336,160 1340,160" fill="none" stroke="#6f92f9" stroke-width="10" stroke-linecap="round" stroke-linejoin="round" filter="url(#b1)" /><path d="M1146,86 C1148.8,85.2 1157.7,91.8 1165,100 C1172.3,108.2 1180.8,124.2 1190,135 C1199.2,145.8 1209.2,156.7 1220,165 C1230.8,173.3 1243.3,180 1255,185 C1266.7,190 1279.8,193.3 1290,195 C1300.2,196.7 1307.7,195 1316,195 C1324.3,195 1336,188.8 1340,195 C1344,201.2 1344,226.2 1340,232 C1336,237.8 1327.7,232.3 1316,230 C1304.3,227.7 1285.2,223.8 1270,218 C1254.8,212.2 1237.5,203.8 1225,195 C1212.5,186.2 1205,176.7 1195,165 C1185,153.3 1172.8,135 1165,125 C1157.2,115 1151.2,111.5 1148,105 C1144.8,98.5 1143.2,86.8 1146,86 Z" fill="#4a75fb" filter="url(#b1)" /><path d="M1150,205 C1155.8,199.3 1171.7,217.5 1185,222 C1198.3,226.5 1215.8,229 1230,232 C1244.2,235 1260.3,237.3 1270,240 C1279.7,242.7 1288,244.3 1288,248 C1288,251.7 1280.5,258.7 1270,262 C1259.5,265.3 1239.2,267.7 1225,268 C1210.8,268.3 1197.5,266 1185,264 C1172.5,262 1155.8,265.8 1150,256 C1144.2,246.2 1144.2,210.7 1150,205 Z" fill="#fbbaba" filter="url(#b2)" /><path d="M1155,215 C1159.2,217.2 1169.2,224.5 1180,228 C1190.8,231.5 1206.7,234 1220,236 C1233.3,238 1253.3,239.3 1260,240" fill="none" stroke="#fb9c9c" stroke-width="6" stroke-linecap="round" stroke-linejoin="round" filter="url(#b1)" /><path d="M997,20 L1150,20 L1152,35 L1192,408 L1194,420 L953,420 L955,408 L995,35 Z" fill="#fde7e7" filter="url(#b12)" /><path d="M1003,20 L1144,20 L1160,200 L1073.5,215 L987,200 Z" fill="#fcd4d4" filter="url(#b4)" /><path d="M1040,165 L1107,165 L1073.5,236 Z" fill="#fbb8b8" filter="url(#b1)" /><path d="M1020,20 L1127,20 L1073.5,125 Z" fill="#fcc8c8" filter="url(#b4)" /><path d="M1010,290 L1137,290 L1160,420 L987,420 Z" fill="#fef1f1" filter="url(#b7)" /><path d="M1073.5,130 C1079.9,136.7 1099.2,152.3 1112,170 C1124.8,187.7 1143.7,225 1150,236" fill="none" stroke="#f98585" stroke-width="3" stroke-linecap="round" stroke-linejoin="round" filter="url(#b13)" /><path d="M1073.5,130 C1077.9,123.8 1090.6,108 1100,93 C1109.4,78 1125,48.8 1130,40" fill="none" stroke="#f98585" stroke-width="3" stroke-linecap="round" stroke-linejoin="round" filter="url(#b13)" /><path d="M1030,40 C1037.2,50 1060.2,78.3 1073.5,100 C1086.8,121.7 1103.9,158.3 1110,170" fill="none" stroke="#f98585" stroke-width="3" stroke-linecap="round" stroke-linejoin="round" filter="url(#b13)" /><path d="M1060,50 C1066.7,53.3 1088.3,62.3 1100,70 C1111.7,77.7 1125,91.7 1130,96" fill="none" stroke="#f98585" stroke-width="3" stroke-linecap="round" stroke-linejoin="round" filter="url(#b13)" /><path d="M1100,70 C1104.2,70 1116.7,73.3 1125,70 C1133.3,66.7 1145.8,53.3 1150,50" fill="none" stroke="#f98585" stroke-width="3" stroke-linecap="round" stroke-linejoin="round" filter="url(#b13)" /><path d="M1073.5,130 C1079.9,136.7 1099.2,152.3 1112,170 C1124.8,187.7 1143.7,225 1150,236" fill="none" stroke="#f76b6b" stroke-width="3" stroke-linecap="round" stroke-linejoin="round" filter="url(#b14)" /><path d="M1073.5,268 C1077.1,265.3 1086.4,256.2 1095,252 C1103.6,247.8 1115.8,244.8 1125,243 C1134.2,241.2 1142.8,241 1150,241 C1157.2,241 1165,242.7 1168,243" fill="none" stroke="#ff2a2a" stroke-width="3" stroke-linecap="round" stroke-linejoin="round" filter="url(#b14)" /><path d="M1160,242 C1164.2,242.5 1176.7,244 1185,245 C1193.3,246 1205.8,247.5 1210,248" fill="none" stroke="#f77" stroke-width="4" stroke-linecap="round" stroke-linejoin="round" filter="url(#b3)" /><path d="M1073.5,268 C1076.2,271.7 1083.9,276.3 1090,290 C1096.1,303.7 1104.3,329.7 1110,350 C1115.7,370.3 1121.7,401.7 1124,412" fill="none" stroke="#ff2a2a" stroke-width="2.6" stroke-linecap="round" stroke-linejoin="round" filter="url(#b10)" /><path d="M1136,112 C1138,120 1143.7,143.3 1148,160 C1152.3,176.7 1156.7,200.3 1162,212 C1167.3,223.7 1171.2,225.7 1180,230 C1188.8,234.3 1209.2,236.7 1215,238" fill="none" stroke="#ff2a2a" stroke-width="2.0" stroke-linecap="round" stroke-linejoin="round" filter="url(#b11)" /><path d="M1140,60 C1141.7,58 1146.7,49.3 1150,48 C1153.3,46.7 1155,48.3 1160,52 C1165,55.7 1171.7,62.3 1180,70 C1188.3,77.7 1200,88.8 1210,98 C1220,107.2 1230,116.7 1240,125 C1250,133.3 1261.7,144.5 1270,148 C1278.3,151.5 1284.2,148 1290,146 C1295.8,144 1300.7,138.2 1305,136 C1309.3,133.8 1312.3,133 1316,133 C1319.7,133 1325.2,135.5 1327,136" fill="none" stroke="#ffffff" stroke-width="10" stroke-linecap="round" stroke-linejoin="round" filter="url(#b15)" /><path d="M1140,60 C1141.7,58 1146.7,49.3 1150,48 C1153.3,46.7 1155,48.3 1160,52 C1165,55.7 1171.7,62.3 1180,70 C1188.3,77.7 1200,88.8 1210,98 C1220,107.2 1230,116.7 1240,125 C1250,133.3 1261.7,144.5 1270,148 C1278.3,151.5 1284.2,148 1290,146 C1295.8,144 1300.7,138.2 1305,136 C1309.3,133.8 1312.3,133 1316,133 C1319.7,133 1325.2,135.5 1327,136" fill="none" stroke="#ff2a2a" stroke-width="3" stroke-linecap="round" stroke-linejoin="round" filter="url(#b10)" /><path d="M1140,82 C1141.7,80.5 1146.3,73.7 1150,73 C1153.7,72.3 1156.2,72.8 1162,78 C1167.8,83.2 1177,94.5 1185,104 C1193,113.5 1201.7,125.3 1210,135 C1218.3,144.7 1226.3,154.5 1235,162 C1243.7,169.5 1253.7,176 1262,180 C1270.3,184 1277.8,185.5 1285,186 C1292.2,186.5 1299.8,183.7 1305,183 C1310.2,182.3 1312.3,182 1316,182 C1319.7,182 1325.2,182.8 1327,183" fill="none" stroke="#ffffff" stroke-width="10" stroke-linecap="round" stroke-linejoin="round" filter="url(#b15)" /><path d="M1140,82 C1141.7,80.5 1146.3,73.7 1150,73 C1153.7,72.3 1156.2,72.8 1162,78 C1167.8,83.2 1177,94.5 1185,104 C1193,113.5 1201.7,125.3 1210,135 C1218.3,144.7 1226.3,154.5 1235,162 C1243.7,169.5 1253.7,176 1262,180 C1270.3,184 1277.8,185.5 1285,186 C1292.2,186.5 1299.8,183.7 1305,183 C1310.2,182.3 1312.3,182 1316,182 C1319.7,182 1325.2,182.8 1327,183" fill="none" stroke="#ff2a2a" stroke-width="3" stroke-linecap="round" stroke-linejoin="round" filter="url(#b10)" /></g></g><g clip-path="url(#c5)"><g transform="translate(485.5999999999999,0)"><rect x="1040" y="20" width="300" height="400" fill="#dbe3fb" /><path d="M1316,225 L1340,240 L1340,420 L1250,420 L1290,300 Z" fill="#e9eefc" filter="url(#b0)" /><path d="M1200,300 L1260,420 L1180,420 Z" fill="#cfdafb" filter="url(#b0)" /><path d="M1150,20 C1175,17 1308.3,8.7 1340,20 C1371.7,31.3 1346.7,77.3 1340,88 C1333.3,98.7 1312.5,86.3 1300,84 C1287.5,81.7 1277.5,78.7 1265,74 C1252.5,69.3 1237.5,62 1225,56 C1212.5,50 1202.5,44 1190,38 C1177.5,32 1125,23 1150,20 Z" fill="#c4d2fb" filter="url(#b4)" /><path d="M1230,20 C1242.5,15.3 1321.7,11.3 1340,20 C1358.3,28.7 1346.7,64.3 1340,72 C1333.3,79.7 1312.5,70 1300,66 C1287.5,62 1276.7,55.7 1265,48 C1253.3,40.3 1217.5,24.7 1230,20 Z" fill="#d8e2fc" filter="url(#b9)" /><path d="M1160,28 C1166.7,28 1178.7,35 1190,40 C1201.3,45 1215,51.7 1228,58 C1241,64.3 1256,73.3 1268,78 C1280,82.7 1288,84 1300,86 C1312,88 1333.3,84.3 1340,90 C1346.7,95.7 1344,115 1340,120 C1336,125 1324.3,118.3 1316,120 C1307.7,121.7 1299,127.3 1290,130 C1281,132.7 1271.7,137.7 1262,136 C1252.3,134.3 1242.8,128 1232,120 C1221.2,112 1207.8,98 1197,88 C1186.2,78 1174.8,68 1167,60 C1159.2,52 1151.2,45.3 1150,40 C1148.8,34.7 1153.3,28 1160,28 Z" fill="#4b76fb" filter="url(#b1)" /><path d="M1150,62 C1154.2,65.7 1166.7,75.2 1175,84 C1183.3,92.8 1190.8,104.5 1200,115 C1209.2,125.5 1220,138.5 1230,147 C1240,155.5 1250,162.2 1260,166 C1270,169.8 1280.7,171 1290,170 C1299.3,169 1307.7,161.7 1316,160 C1324.3,158.3 1336,160 1340,160" fill="none" stroke="#6f92f9" stroke-width="10" stroke-linecap="round" stroke-linejoin="round" filter="url(#b1)" /><path d="M1146,86 C1148.8,85.2 1157.7,91.8 1165,100 C1172.3,108.2 1180.8,124.2 1190,135 C1199.2,145.8 1209.2,156.7 1220,165 C1230.8,173.3 1243.3,180 1255,185 C1266.7,190 1279.8,193.3 1290,195 C1300.2,196.7 1307.7,195 1316,195 C1324.3,195 1336,188.8 1340,195 C1344,201.2 1344,226.2 1340,232 C1336,237.8 1327.7,232.3 1316,230 C1304.3,227.7 1285.2,223.8 1270,218 C1254.8,212.2 1237.5,203.8 1225,195 C1212.5,186.2 1205,176.7 1195,165 C1185,153.3 1172.8,135 1165,125 C1157.2,115 1151.2,111.5 1148,105 C1144.8,98.5 1143.2,86.8 1146,86 Z" fill="#4a75fb" filter="url(#b1)" /><path d="M1150,205 C1155.8,199.3 1171.7,217.5 1185,222 C1198.3,226.5 1215.8,229 1230,232 C1244.2,235 1260.3,237.3 1270,240 C1279.7,242.7 1288,244.3 1288,248 C1288,251.7 1280.5,258.7 1270,262 C1259.5,265.3 1239.2,267.7 1225,268 C1210.8,268.3 1197.5,266 1185,264 C1172.5,262 1155.8,265.8 1150,256 C1144.2,246.2 1144.2,210.7 1150,205 Z" fill="#fbbaba" filter="url(#b2)" /><path d="M1155,215 C1159.2,217.2 1169.2,224.5 1180,228 C1190.8,231.5 1206.7,234 1220,236 C1233.3,238 1253.3,239.3 1260,240" fill="none" stroke="#fb9c9c" stroke-width="6" stroke-linecap="round" stroke-linejoin="round" filter="url(#b1)" /><path d="M997,20 L1150,20 L1152,35 L1192,408 L1194,420 L953,420 L955,408 L995,35 Z" fill="#fde7e7" filter="url(#b12)" /><path d="M1003,20 L1144,20 L1160,200 L1073.5,215 L987,200 Z" fill="#fcd4d4" filter="url(#b4)" /><path d="M1040,165 L1107,165 L1073.5,236 Z" fill="#fbb8b8" filter="url(#b1)" /><path d="M1020,20 L1127,20 L1073.5,125 Z" fill="#fcc8c8" filter="url(#b4)" /><path d="M1010,290 L1137,290 L1160,420 L987,420 Z" fill="#fef1f1" filter="url(#b7)" /><path d="M1073.5,130 C1079.9,136.7 1099.2,152.3 1112,170 C1124.8,187.7 1143.7,225 1150,236" fill="none" stroke="#f98585" stroke-width="3" stroke-linecap="round" stroke-linejoin="round" filter="url(#b13)" /><path d="M1073.5,130 C1077.9,123.8 1090.6,108 1100,93 C1109.4,78 1125,48.8 1130,40" fill="none" stroke="#f98585" stroke-width="3" stroke-linecap="round" stroke-linejoin="round" filter="url(#b13)" /><path d="M1030,40 C1037.2,50 1060.2,78.3 1073.5,100 C1086.8,121.7 1103.9,158.3 1110,170" fill="none" stroke="#f98585" stroke-width="3" stroke-linecap="round" stroke-linejoin="round" filter="url(#b13)" /><path d="M1060,50 C1066.7,53.3 1088.3,62.3 1100,70 C1111.7,77.7 1125,91.7 1130,96" fill="none" stroke="#f98585" stroke-width="3" stroke-linecap="round" stroke-linejoin="round" filter="url(#b13)" /><path d="M1100,70 C1104.2,70 1116.7,73.3 1125,70 C1133.3,66.7 1145.8,53.3 1150,50" fill="none" stroke="#f98585" stroke-width="3" stroke-linecap="round" stroke-linejoin="round" filter="url(#b13)" /><path d="M1073.5,130 C1079.9,136.7 1099.2,152.3 1112,170 C1124.8,187.7 1143.7,225 1150,236" fill="none" stroke="#f76b6b" stroke-width="3" stroke-linecap="round" stroke-linejoin="round" filter="url(#b14)" /><path d="M1073.5,268 C1077.1,265.3 1086.4,256.2 1095,252 C1103.6,247.8 1115.8,244.8 1125,243 C1134.2,241.2 1142.8,241 1150,241 C1157.2,241 1165,242.7 1168,243" fill="none" stroke="#ff2a2a" stroke-width="3" stroke-linecap="round" stroke-linejoin="round" filter="url(#b14)" /><path d="M1160,242 C1164.2,242.5 1176.7,244 1185,245 C1193.3,246 1205.8,247.5 1210,248" fill="none" stroke="#f77" stroke-width="4" stroke-linecap="round" stroke-linejoin="round" filter="url(#b3)" /><path d="M1073.5,268 C1076.2,271.7 1083.9,276.3 1090,290 C1096.1,303.7 1104.3,329.7 1110,350 C1115.7,370.3 1121.7,401.7 1124,412" fill="none" stroke="#ff2a2a" stroke-width="2.6" stroke-linecap="round" stroke-linejoin="round" filter="url(#b10)" /><path d="M1136,112 C1138,120 1143.7,143.3 1148,160 C1152.3,176.7 1156.7,200.3 1162,212 C1167.3,223.7 1171.2,225.7 1180,230 C1188.8,234.3 1209.2,236.7 1215,238" fill="none" stroke="#ff2a2a" stroke-width="2.0" stroke-linecap="round" stroke-linejoin="round" filter="url(#b11)" /><path d="M1140,60 C1141.7,58 1146.7,49.3 1150,48 C1153.3,46.7 1155,48.3 1160,52 C1165,55.7 1171.7,62.3 1180,70 C1188.3,77.7 1200,88.8 1210,98 C1220,107.2 1230,116.7 1240,125 C1250,133.3 1261.7,144.5 1270,148 C1278.3,151.5 1284.2,148 1290,146 C1295.8,144 1300.7,138.2 1305,136 C1309.3,133.8 1312.3,133 1316,133 C1319.7,133 1325.2,135.5 1327,136" fill="none" stroke="#ffffff" stroke-width="10" stroke-linecap="round" stroke-linejoin="round" filter="url(#b15)" /><path d="M1140,60 C1141.7,58 1146.7,49.3 1150,48 C1153.3,46.7 1155,48.3 1160,52 C1165,55.7 1171.7,62.3 1180,70 C1188.3,77.7 1200,88.8 1210,98 C1220,107.2 1230,116.7 1240,125 C1250,133.3 1261.7,144.5 1270,148 C1278.3,151.5 1284.2,148 1290,146 C1295.8,144 1300.7,138.2 1305,136 C1309.3,133.8 1312.3,133 1316,133 C1319.7,133 1325.2,135.5 1327,136" fill="none" stroke="#ff2a2a" stroke-width="3" stroke-linecap="round" stroke-linejoin="round" filter="url(#b10)" /><path d="M1140,82 C1141.7,80.5 1146.3,73.7 1150,73 C1153.7,72.3 1156.2,72.8 1162,78 C1167.8,83.2 1177,94.5 1185,104 C1193,113.5 1201.7,125.3 1210,135 C1218.3,144.7 1226.3,154.5 1235,162 C1243.7,169.5 1253.7,176 1262,180 C1270.3,184 1277.8,185.5 1285,186 C1292.2,186.5 1299.8,183.7 1305,183 C1310.2,182.3 1312.3,182 1316,182 C1319.7,182 1325.2,182.8 1327,183" fill="none" stroke="#ffffff" stroke-width="10" stroke-linecap="round" stroke-linejoin="round" filter="url(#b15)" /><path d="M1140,82 C1141.7,80.5 1146.3,73.7 1150,73 C1153.7,72.3 1156.2,72.8 1162,78 C1167.8,83.2 1177,94.5 1185,104 C1193,113.5 1201.7,125.3 1210,135 C1218.3,144.7 1226.3,154.5 1235,162 C1243.7,169.5 1253.7,176 1262,180 C1270.3,184 1277.8,185.5 1285,186 C1292.2,186.5 1299.8,183.7 1305,183 C1310.2,182.3 1312.3,182 1316,182 C1319.7,182 1325.2,182.8 1327,183" fill="none" stroke="#ff2a2a" stroke-width="3" stroke-linecap="round" stroke-linejoin="round" filter="url(#b10)" /></g></g><circle cx="1277" cy="72" r="6" fill="#0bb04a"/><circle cx="1355.6" cy="72" r="6" fill="#0bb04a"/><line x1="1316.3" y1="35.5" x2="1316.3" y2="407.5" stroke="#000" stroke-width="1.2" /><line x1="1559.1" y1="35.5" x2="1559.1" y2="407.5" stroke="#000" stroke-width="1.2" /><g clip-path="url(#c6)"><rect x="87.6" y="514.9" width="341.6" height="355.9" fill="#fdf3f3" /><path d="M250,500 L365,500 L365,690 L330,700 L290,670 L245,620 Z" fill="#e2e8fc" filter="url(#b4)" /><path d="M310,500 L362,500 L362,640 L335,560 Z" fill="#f7f9fe" filter="url(#b9)" /><path d="M265,500 L300,500 L340,620 L325,650 Z" fill="#d2ddfb" filter="url(#b9)" /><path d="M250,800 L362,790 L362,880 L268,880 Z" fill="#eef2fd" filter="url(#b9)" /><path d="M265,690 L330,720 L362,760 L362,800 L260,800 Z" fill="#f3f5fe" filter="url(#b9)" /><path d="M358,500 L400,500 L365,680 L358,690 Z" fill="#fdf1f1" filter="url(#b3)" /><path d="M358,735 L368,740 L392,880 L358,880 Z" fill="#fde6e6" filter="url(#b1)" /><path d="M397,500 L440,500 L440,880 L389,880 L366,742 L363,700 L368,668 L385,580 Z" fill="url(#gcr)" filter="url(#b12)" /><path d="M80,505 L90,515 L104,560 L119,618 L116,650 L110,700 L100,780 L92,840 L88,875 L80,880 Z" fill="#6a8efb" filter="url(#b3)" /><path d="M80,505 C81.3,450 84.7,509.2 88,520 C91.3,530.8 96.3,554.2 100,570 C103.7,585.8 109,600 110,615 C111,630 108,639.2 106,660 C104,680.8 100.7,715 98,740 C95.3,765 93,791.7 90,810 C87,828.3 81.7,900.8 80,850 C78.3,799.2 78.7,560 80,505 Z" fill="#4a74ff" filter="url(#b1)" /><path d="M111,505 L252,505 L246,540 L235,600 L232,640 L240,680 L250,750 L258,800 L267,880 L100,880 L104,800 L114,700 L120,640 L123,622 L104,565 Z" fill="#fcd3d3" filter="url(#b12)" /><path d="M112,505 L251,505 L240,560 L230,620 L215,660 L186,680 L150,660 L128,620 L108,560 Z" fill="#fba2a2" filter="url(#b4)" /><path d="M140,530 L235,530 L225,600 L205,650 L186,670 L160,650 L145,600 Z" fill="#fa9f9f" filter="url(#b9)" /><path d="M119,630 C117.8,641.7 114.5,675 112,700 C109.5,725 106.5,750 104,780 C101.5,810 98.2,863.3 97,880" fill="none" stroke="#fdf3f3" stroke-width="9" stroke-linecap="round" stroke-linejoin="round" filter="url(#b1)" /><path d="M245,746 C250,739.5 264.2,750.7 275,753 C285.8,755.3 299.2,757.5 310,760 C320.8,762.5 333.5,765.3 340,768 C346.5,770.7 349.8,772.5 349,776 C348.2,779.5 343.2,785.7 335,789 C326.8,792.3 311.7,794.7 300,796 C288.3,797.3 274.2,797.7 265,797 C255.8,796.3 248.3,800.5 245,792 C241.7,783.5 240,752.5 245,746 Z" fill="#fbb0b0" filter="url(#b4)" /><path d="M240,590 C243.7,593.3 253.7,602 262,610 C270.3,618 280.3,628.3 290,638 C299.7,647.7 310.8,661.3 320,668 C329.2,674.7 338.3,677.7 345,678 C351.7,678.3 357.5,671.3 360,670" fill="none" stroke="#7f9cf8" stroke-width="22" stroke-linecap="round" stroke-linejoin="round" filter="url(#b4)" /><path d="M238,634 C242,638.7 253.3,651.5 262,662 C270.7,672.5 280.3,685.7 290,697 C299.7,708.3 310.8,720.8 320,730 C329.2,739.2 338.3,747.3 345,752 C351.7,756.7 357.5,757 360,758" fill="none" stroke="#819df8" stroke-width="22" stroke-linecap="round" stroke-linejoin="round" filter="url(#b4)" /><path d="M88,515 C90,520.8 96,537.5 100,550 C104,562.5 108.5,578.3 112,590 C115.5,601.7 118.7,614 121,620 C123.3,626 125.2,625 126,626" fill="none" stroke="#ffffff" stroke-width="5" stroke-linecap="round" stroke-linejoin="round" filter="url(#b13)" /><path d="M88,515 C90,520.8 96,537.5 100,550 C104,562.5 108.5,578.3 112,590 C115.5,601.7 118.7,614 121,620 C123.3,626 125.2,625 126,626" fill="none" stroke="#ff2a2a" stroke-width="1.6" stroke-linecap="round" stroke-linejoin="round" filter="url(#b16)" /><path d="M145,582 C147.5,578.7 155,567 160,562 C165,557 170.7,554 175,552 C179.3,550 182.3,550 186,550 C189.7,550 192.7,550 197,552 C201.3,554 207,557 212,562 C217,567 224.5,578.7 227,582" fill="none" stroke="#f66" stroke-width="2.5" stroke-linecap="round" stroke-linejoin="round" filter="url(#b17)" /><path d="M130,600 C135,606.7 150.7,630 160,640 C169.3,650 176.8,660.7 186,660 C195.2,659.3 206,645 215,636 C224,627 235.8,611 240,606" fill="none" stroke="#f66" stroke-width="2.5" stroke-linecap="round" stroke-linejoin="round" filter="url(#b17)" /><path d="M135,640 C139.2,642.5 151.5,651.7 160,655 C168.5,658.3 181.7,659.2 186,660" fill="none" stroke="#f77" stroke-width="2" stroke-linecap="round" stroke-linejoin="round" filter="url(#b17)" /><path d="M137,684 C139.2,686.7 145.7,696.2 150,700 C154.3,703.8 158.8,707.7 163,707 C167.2,706.3 171.2,700.7 175,696 C178.8,691.3 184.2,681.8 186,679" fill="none" stroke="#ff2a2a" stroke-width="2.6" stroke-linecap="round" stroke-linejoin="round" filter="url(#b18)" /><path d="M186,679 C189.2,684.2 198.5,699.8 205,710 C211.5,720.2 216.7,731.7 225,740 C233.3,748.3 245,755.3 255,760 C265,764.7 275,766 285,768 C295,770 310,771.3 315,772" fill="none" stroke="#ff2a2a" stroke-width="2.6" stroke-linecap="round" stroke-linejoin="round" filter="url(#b18)" /><path d="M160,800 C161.5,797.7 166,788.5 169,786 C172,783.5 175.2,784.5 178,785 C180.8,785.5 181.5,789.8 186,789 C190.5,788.2 198.5,782.2 205,780 C211.5,777.8 216.7,776.2 225,776 C233.3,775.8 245,777.3 255,779 C265,780.7 275,783.8 285,786 C295,788.2 310,791 315,792" fill="none" stroke="#ff2a2a" stroke-width="2.6" stroke-linecap="round" stroke-linejoin="round" filter="url(#b18)" /><path d="M143,872 C144.5,866.7 148.8,850.7 152,840 C155.2,829.3 158.5,817 162,808 C165.5,799 171.2,789.7 173,786" fill="none" stroke="#ff2a2a" stroke-width="2.4" stroke-linecap="round" stroke-linejoin="round" filter="url(#b10)" /><path d="M157,872 C158.8,865.8 164.5,845.3 168,835 C171.5,824.7 175,816.2 178,810 C181,803.8 183.2,797.7 186,798 C188.8,798.3 192,805 195,812 C198,819 201.3,830 204,840 C206.7,850 209.8,866.7 211,872" fill="none" stroke="#ff2a2a" stroke-width="2.4" stroke-linecap="round" stroke-linejoin="round" filter="url(#b10)" /><path d="M229,602 C230.8,603 234.5,603.3 240,608 C245.5,612.7 254.5,621.3 262,630 C269.5,638.7 277.8,650.8 285,660 C292.2,669.2 298.3,678.5 305,685 C311.7,691.5 318.7,697.5 325,699 C331.3,700.5 337.1,697.5 343,694 C348.9,690.5 356.6,682.3 360.4,678 C364.2,673.7 362.7,677.7 366,668 C369.3,658.3 374.8,645.5 380,620 C385.2,594.5 394.2,532.5 397,515" fill="none" stroke="#ffffff" stroke-width="8" stroke-linecap="round" stroke-linejoin="round" filter="url(#b3)" /><path d="M229,602 C230.8,603 234.5,603.3 240,608 C245.5,612.7 254.5,621.3 262,630 C269.5,638.7 277.8,650.8 285,660 C292.2,669.2 298.3,678.5 305,685 C311.7,691.5 318.7,697.5 325,699 C331.3,700.5 337.1,697.5 343,694 C348.9,690.5 356.6,682.3 360.4,678 C364.2,673.7 362.7,677.7 366,668 C369.3,658.3 374.8,645.5 380,620 C385.2,594.5 394.2,532.5 397,515" fill="none" stroke="#ff2a2a" stroke-width="2.4" stroke-linecap="round" stroke-linejoin="round" filter="url(#b10)" /><path d="M228,609 C230,610.5 234.3,612 240,618 C245.7,624 254.5,634.3 262,645 C269.5,655.7 277.8,671.2 285,682 C292.2,692.8 298.3,702.3 305,710 C311.7,717.7 318.3,724.3 325,728 C331.7,731.7 339.1,731.3 345,732 C350.9,732.7 356.9,729.8 360.4,732 C363.9,734.2 363.1,733.7 366,745 C368.9,756.3 374.2,779.2 378,800 C381.8,820.8 387.2,858.3 389,870" fill="none" stroke="#ffffff" stroke-width="8" stroke-linecap="round" stroke-linejoin="round" filter="url(#b3)" /><path d="M228,609 C230,610.5 234.3,612 240,618 C245.7,624 254.5,634.3 262,645 C269.5,655.7 277.8,671.2 285,682 C292.2,692.8 298.3,702.3 305,710 C311.7,717.7 318.3,724.3 325,728 C331.7,731.7 339.1,731.3 345,732 C350.9,732.7 356.9,729.8 360.4,732 C363.9,734.2 363.1,733.7 366,745 C368.9,756.3 374.2,779.2 378,800 C381.8,820.8 387.2,858.3 389,870" fill="none" stroke="#ff2a2a" stroke-width="2.4" stroke-linecap="round" stroke-linejoin="round" filter="url(#b10)" /></g><g clip-path="url(#c7)"><rect x="528.5" y="516.3" width="341.9" height="355.9" fill="#dfe6fc" /><path d="M690,760 L801,760 L801,880 L705,880 Z" fill="#e4eafc" filter="url(#b9)" /><path d="M740,800 L760,800 L790,880 L720,880 Z" fill="#eef2fd" filter="url(#b9)" /><path d="M700,505 L740,505 L801,600 L801,640 L760,600 Z" fill="#cad7fb" filter="url(#b9)" /><path d="M760,505 L800,505 L801,560 Z" fill="#eef2fd" filter="url(#b9)" /><path d="M801,505 L837,505 L806,650 L801,660 Z" fill="#e9eefd" filter="url(#b3)" /><path d="M801,710 L806,712 L834,880 L801,880 Z" fill="#e3e9fc" filter="url(#b1)" /><path d="M837,506.3 L880.4,506.3 L880.4,882.2 L834,882.2 L804,718 L802,710 L802,660 L806,650 Z" fill="url(#gdr)" filter="url(#b12)" /><path d="M520,505 L542,505 L552,560 L560,606 L545,700 L529,790 L520,800 Z" fill="#4f78fe" filter="url(#b3)" /><path d="M560,600 L567,620 L576,700 L565,760 L540,880 L529,880 L529,790 L545,700 Z" fill="#eef2fd" filter="url(#b3)" /><path d="M542,505 L697,505 L684,560 L673,626 L680,680 L691,730 L700,800 L706,880 L550,880 L565,760 L576,700 L572,640 L560,600 Z" fill="#fde0e0" filter="url(#b12)" /><path d="M545,505 L696,505 L684,560 L672,630 L660,700 L627,720 L594,700 L578,640 L560,590 Z" fill="#fccbcb" filter="url(#b1)" /><path d="M603,505 C611.2,498.3 645.2,498.3 653,505 C660.8,511.7 654.3,535.8 650,545 C645.7,554.2 634.7,560 627,560 C619.3,560 608,554.2 604,545 C600,535.8 594.8,511.7 603,505 Z" fill="#fdf1f1" filter="url(#b9)" /><path d="M598,640 C600.2,619.7 617.3,578 627,578 C636.7,578 653.8,619.7 656,640 C658.2,660.3 644.8,689.2 640,700 C635.2,710.8 631.3,705 627,705 C622.7,705 618.8,710.8 614,700 C609.2,689.2 595.8,660.3 598,640 Z" fill="#fbbcbc" filter="url(#b9)" /><path d="M580,790 L680,790 L690,880 L570,880 Z" fill="#fdeaea" filter="url(#b7)" /><path d="M685,736 C690,731.3 707.5,741 720,744 C732.5,747 750,750.7 760,754 C770,757.3 780,760.2 780,764 C780,767.8 769.2,774.5 760,777 C750.8,779.5 736.7,779.8 725,779 C713.3,778.2 696.7,779.2 690,772 C683.3,764.8 680,740.7 685,736 Z" fill="#fbabab" filter="url(#b4)" /><path d="M683,556 C685.8,559.2 693,567.7 700,575 C707,582.3 716.7,591.7 725,600 C733.3,608.3 741.7,617.8 750,625 C758.3,632.2 766.5,639.2 775,643 C783.5,646.8 796.7,647.2 801,648" fill="none" stroke="#7092f8" stroke-width="24" stroke-linecap="round" stroke-linejoin="round" filter="url(#b4)" /><path d="M678,625 C681.7,630 692.2,645 700,655 C707.8,665 716.7,675.5 725,685 C733.3,694.5 741.7,703.7 750,712 C758.3,720.3 766.5,729.5 775,735 C783.5,740.5 796.7,743.3 801,745" fill="none" stroke="#7495f8" stroke-width="24" stroke-linecap="round" stroke-linejoin="round" filter="url(#b4)" /><path d="M542,516 C545,523.3 553.7,542.7 560,560 C566.3,577.3 574.2,600 580,620 C585.8,640 591.2,665.3 595,680 C598.8,694.7 601.7,703.3 603,708" fill="none" stroke="#f66" stroke-width="2.2" stroke-linecap="round" stroke-linejoin="round" filter="url(#b14)" /><path d="M579,676 C580.8,679.2 586,689.7 590,695 C594,700.3 599.5,708.5 603,708 C606.5,707.5 607,700 611,692 C615,684 624.3,665.3 627,660" fill="none" stroke="#f66" stroke-width="2.2" stroke-linecap="round" stroke-linejoin="round" filter="url(#b14)" /><path d="M601,596 C603.3,601.7 610.7,619.3 615,630 C619.3,640.7 622,660 627,660 C632,660 639.5,640 645,630 C650.5,620 653.3,611.7 660,600 C666.7,588.3 680.8,566.7 685,560" fill="none" stroke="#f66" stroke-width="2.2" stroke-linecap="round" stroke-linejoin="round" filter="url(#b14)" /><path d="M570,600 C575,606.7 590.5,630 600,640 C609.5,650 622.5,656.7 627,660" fill="none" stroke="#f66" stroke-width="2.2" stroke-linecap="round" stroke-linejoin="round" filter="url(#b14)" /><path d="M627,660 C630,665 639.5,680.3 645,690 C650.5,699.7 655.3,709.7 660,718 C664.7,726.3 667.2,734.7 673,740 C678.8,745.3 685.5,747 695,750 C704.5,753 724.2,756.7 730,758" fill="none" stroke="#ff2a2a" stroke-width="2.4" stroke-linecap="round" stroke-linejoin="round" filter="url(#b18)" /><path d="M579,871 C580.8,862.5 586.2,835.2 590,820 C593.8,804.8 598.5,789.2 602,780 C605.5,770.8 608,766.3 611,765 C614,763.7 617.3,769.5 620,772 C622.7,774.5 622.8,781 627,780 C631.2,779 638.7,769.7 645,766 C651.3,762.3 657.5,759.5 665,758 C672.5,756.5 680.8,756.7 690,757 C699.2,757.3 715,759.5 720,760" fill="none" stroke="#ff2a2a" stroke-width="2.4" stroke-linecap="round" stroke-linejoin="round" filter="url(#b18)" /><path d="M595,871 C596.7,865 601.7,846 605,835 C608.3,824 611.3,814.2 615,805 C618.7,795.8 623.2,780 627,780 C630.8,780 634.5,795.3 638,805 C641.5,814.7 645.2,827 648,838 C650.8,849 653.8,865.5 655,871" fill="none" stroke="#ff2a2a" stroke-width="2.2" stroke-linecap="round" stroke-linejoin="round" filter="url(#b10)" /><path d="M681,588 C681.8,587.8 682.8,585 686,587 C689.2,589 693.5,592.8 700,600 C706.5,607.2 717,620 725,630 C733,640 741,652.5 748,660 C755,667.5 760.8,673.3 767,675 C773.2,676.7 779.3,672.5 785,670 C790.7,667.5 797.2,664.2 801,660 C804.8,655.8 804.8,656.7 808,645 C811.2,633.3 815.8,611.5 820,590 C824.2,568.5 830.8,528.3 833,516" fill="none" stroke="#ffffff" stroke-width="8" stroke-linecap="round" stroke-linejoin="round" filter="url(#b3)" /><path d="M681,588 C681.8,587.8 682.8,585 686,587 C689.2,589 693.5,592.8 700,600 C706.5,607.2 717,620 725,630 C733,640 741,652.5 748,660 C755,667.5 760.8,673.3 767,675 C773.2,676.7 779.3,672.5 785,670 C790.7,667.5 797.2,664.2 801,660 C804.8,655.8 804.8,656.7 808,645 C811.2,633.3 815.8,611.5 820,590 C824.2,568.5 830.8,528.3 833,516" fill="none" stroke="#ff2a2a" stroke-width="2.4" stroke-linecap="round" stroke-linejoin="round" filter="url(#b10)" /><path d="M679,610 C679.8,609.7 680.5,605.5 684,608 C687.5,610.5 693.2,616 700,625 C706.8,634 716.7,650.8 725,662 C733.3,673.2 743,684.8 750,692 C757,699.2 761.2,702.7 767,705 C772.8,707.3 779.3,706.2 785,706 C790.7,705.8 797.2,701.7 801,704 C804.8,706.3 804.8,705.7 808,720 C811.2,734.3 815.8,764.8 820,790 C824.2,815.2 830.8,857.5 833,871" fill="none" stroke="#ffffff" stroke-width="8" stroke-linecap="round" stroke-linejoin="round" filter="url(#b3)" /><path d="M679,610 C679.8,609.7 680.5,605.5 684,608 C687.5,610.5 693.2,616 700,625 C706.8,634 716.7,650.8 725,662 C733.3,673.2 743,684.8 750,692 C757,699.2 761.2,702.7 767,705 C772.8,707.3 779.3,706.2 785,706 C790.7,705.8 797.2,701.7 801,704 C804.8,706.3 804.8,705.7 808,720 C811.2,734.3 815.8,764.8 820,790 C824.2,815.2 830.8,857.5 833,871" fill="none" stroke="#ff2a2a" stroke-width="2.4" stroke-linecap="round" stroke-linejoin="round" filter="url(#b10)" /></g><g clip-path="url(#c8)"><rect x="967.4" y="514.2" width="341.6" height="355.9" fill="#e0e7fc" /><path d="M960,505 L1000,505 L990,560 L960,580 Z" fill="#fdf3f3" filter="url(#b7)" /><path d="M1005,505 L1020,505 L975,700 L965,700 Z" fill="#eef2fd" filter="url(#b2)" /><path d="M1150,770 L1253,770 L1253,880 L1165,880 Z" fill="#eef2fd" filter="url(#b9)" /><path d="M960,770 L1045,770 L1040,880 L960,880 Z" fill="#f3f1f8" filter="url(#b9)" /><path d="M1253,505 L1281,505 L1258,645 L1253,650 Z" fill="#fdf0f0" filter="url(#b3)" /><path d="M1253,708 L1258,712 L1280,880 L1253,880 Z" fill="#fdeeee" filter="url(#b1)" /><path d="M1281,504.2 L1319,504.2 L1319,880.1 L1280,880.1 L1255.4,716 L1253.4,708 L1253.4,652 L1257.4,642 Z" fill="url(#ger)" filter="url(#b12)" /><path d="M960,680 L968,692 L978,720 L984,738 L975,752 L968,764 L960,770 Z" fill="#5079fe" filter="url(#b3)" /><path d="M1058,574 L1068,580 L1075,650 L1070,740 L1060,800 L968,780 L968,768 L985,738 L1020,660 Z" fill="#fde3e3" filter="url(#b12)" /><path d="M1068,505 L1152,505 L1160,560 L1160,640 L1165,700 L1172,780 L1176,880 L1042,880 L1050,780 L1058,700 L1060,640 L1065,560 Z" fill="#fcc8c8" filter="url(#b12)" /><path d="M1070,505 L1150,505 L1155,560 L1140,620 L1110,640 L1080,620 L1065,560 Z" fill="#fba8a8" filter="url(#b1)" /><path d="M1080,660 L1140,660 L1150,760 L1070,760 Z" fill="#fbb6b6" filter="url(#b9)" /><path d="M1158,732 C1163.5,726.7 1183,735.7 1195,738 C1207,740.3 1222.2,743 1230,746 C1237.8,749 1242.3,752.3 1242,756 C1241.7,759.7 1236.7,765 1228,768 C1219.3,771 1201,773.7 1190,774 C1179,774.3 1167.3,777 1162,770 C1156.7,763 1152.5,737.3 1158,732 Z" fill="#fbacac" filter="url(#b4)" /><path d="M1158,548 C1161.7,552.5 1172.2,565.5 1180,575 C1187.8,584.5 1196.7,596.5 1205,605 C1213.3,613.5 1222.2,620.8 1230,626 C1237.8,631.2 1248.3,634.3 1252,636" fill="none" stroke="#6f90f8" stroke-width="24" stroke-linecap="round" stroke-linejoin="round" filter="url(#b4)" /><path d="M1152,612 C1155.8,618 1167,635.8 1175,648 C1183,660.2 1191.7,673.8 1200,685 C1208.3,696.2 1216.3,705.8 1225,715 C1233.7,724.2 1247.5,735.8 1252,740" fill="none" stroke="#7798f8" stroke-width="24" stroke-linecap="round" stroke-linejoin="round" filter="url(#b4)" /><path d="M1070,540 C1073.3,540.8 1083.3,544.3 1090,545 C1096.7,545.7 1103.7,544 1110.4,544 C1117.1,544 1123.4,545.7 1130,545 C1136.6,544.3 1146.7,540.8 1150,540" fill="none" stroke="#f77" stroke-width="2.2" stroke-linecap="round" stroke-linejoin="round" filter="url(#b14)" /><path d="M1075,590 C1078.3,591 1089.1,594.7 1095,596 C1100.9,597.3 1105.4,598 1110.4,598 C1115.4,598 1118.4,598.2 1125,596 C1131.6,593.8 1145.8,586.8 1150,585" fill="none" stroke="#f77" stroke-width="2.2" stroke-linecap="round" stroke-linejoin="round" filter="url(#b14)" /><path d="M1068,520 C1071.7,531.7 1082.9,570.7 1090,590 C1097.1,609.3 1103.7,636 1110.4,636 C1117.1,636 1123.1,609.3 1130,590 C1136.9,570.7 1148.3,531.7 1152,520" fill="none" stroke="#f77" stroke-width="2.2" stroke-linecap="round" stroke-linejoin="round" filter="url(#b14)" /><path d="M1055,580 C1058.3,586.7 1065.8,606.7 1075,620 C1084.2,633.3 1097.5,660 1110,660 C1122.5,660 1141.7,630 1150,620 C1158.3,610 1158.3,603.3 1160,600" fill="none" stroke="#f77" stroke-width="2.2" stroke-linecap="round" stroke-linejoin="round" filter="url(#b14)" /><path d="M1068,590 C1069.2,591.3 1072.2,596 1075,598 C1077.8,600 1083.3,601.3 1085,602" fill="none" stroke="#f55" stroke-width="1.8" stroke-linecap="round" stroke-linejoin="round" filter="url(#b11)" /><path d="M1070,583 C1071.3,584.2 1075,588.2 1078,590 C1081,591.8 1086.3,593.3 1088,594" fill="none" stroke="#f55" stroke-width="1.8" stroke-linecap="round" stroke-linejoin="round" filter="url(#b11)" /><path d="M968,764 C971.7,768.3 981,782.7 990,790 C999,797.3 1012,806.3 1022,808 C1032,809.7 1041.7,803 1050,800 C1058.3,797 1064.5,791.7 1072,790 C1079.5,788.3 1088.6,790 1095,790 C1101.4,790 1105.4,792.5 1110.4,790 C1115.4,787.5 1119.7,780 1125,775 C1130.3,770 1135.8,763.5 1142,760 C1148.2,756.5 1152.3,755 1162,754 C1171.7,753 1188.7,753.7 1200,754 C1211.3,754.3 1225,755.7 1230,756" fill="none" stroke="#ff2a2a" stroke-width="2.6" stroke-linecap="round" stroke-linejoin="round" filter="url(#b14)" /><path d="M984,738 C988.3,742 1000.7,756.3 1010,762 C1019.3,767.7 1031.7,772 1040,772 C1048.3,772 1053.3,768.2 1060,762 C1066.7,755.8 1074.2,743.7 1080,735 C1085.8,726.3 1089.9,717.2 1095,710 C1100.1,702.8 1105.4,692.3 1110.4,692 C1115.4,691.7 1119.7,702.7 1125,708 C1130.3,713.3 1135.8,718 1142,724 C1148.2,730 1154,739.7 1162,744 C1170,748.3 1185.3,749 1190,750" fill="none" stroke="#ff2a2a" stroke-width="2.6" stroke-linecap="round" stroke-linejoin="round" filter="url(#b14)" /><path d="M1088,871 C1089.3,865.8 1093.3,849.8 1096,840 C1098.7,830.2 1101.6,819 1104,812 C1106.4,805 1108.2,798 1110.4,798 C1112.6,798 1114.9,805 1117,812 C1119.1,819 1121,830.2 1123,840 C1125,849.8 1128,865.8 1129,871" fill="none" stroke="#ff2a2a" stroke-width="2.2" stroke-linecap="round" stroke-linejoin="round" filter="url(#b10)" /><path d="M1152,590 C1152.7,589 1153.8,583.7 1156,584 C1158.2,584.3 1160.7,587 1165,592 C1169.3,597 1175.3,605.2 1182,614 C1188.7,622.8 1198.3,637 1205,645 C1211.7,653 1216.5,659.2 1222,662 C1227.5,664.8 1232.9,662.7 1238,662 C1243.1,661.3 1248.7,661.7 1252.4,658 C1256.1,654.3 1257.1,653 1260,640 C1262.9,627 1267.3,601 1270,580 C1272.7,559 1275,525 1276,514" fill="none" stroke="#ffffff" stroke-width="8" stroke-linecap="round" stroke-linejoin="round" filter="url(#b3)" /><path d="M1152,590 C1152.7,589 1153.8,583.7 1156,584 C1158.2,584.3 1160.7,587 1165,592 C1169.3,597 1175.3,605.2 1182,614 C1188.7,622.8 1198.3,637 1205,645 C1211.7,653 1216.5,659.2 1222,662 C1227.5,664.8 1232.9,662.7 1238,662 C1243.1,661.3 1248.7,661.7 1252.4,658 C1256.1,654.3 1257.1,653 1260,640 C1262.9,627 1267.3,601 1270,580 C1272.7,559 1275,525 1276,514" fill="none" stroke="#ff2a2a" stroke-width="2.4" stroke-linecap="round" stroke-linejoin="round" filter="url(#b10)" /><path d="M1150,598 C1150.8,597.5 1152.5,593 1155,595 C1157.5,597 1160.5,602.5 1165,610 C1169.5,617.5 1175.3,628.3 1182,640 C1188.7,651.7 1197.8,670 1205,680 C1212.2,690 1219.2,696 1225,700 C1230.8,704 1235.4,703.5 1240,704 C1244.6,704.5 1249.4,700.3 1252.4,703 C1255.4,705.7 1255.4,705.5 1258,720 C1260.6,734.5 1264.7,765.2 1268,790 C1271.3,814.8 1276.3,855.8 1278,869" fill="none" stroke="#ffffff" stroke-width="8" stroke-linecap="round" stroke-linejoin="round" filter="url(#b3)" /><path d="M1150,598 C1150.8,597.5 1152.5,593 1155,595 C1157.5,597 1160.5,602.5 1165,610 C1169.5,617.5 1175.3,628.3 1182,640 C1188.7,651.7 1197.8,670 1205,680 C1212.2,690 1219.2,696 1225,700 C1230.8,704 1235.4,703.5 1240,704 C1244.6,704.5 1249.4,700.3 1252.4,703 C1255.4,705.7 1255.4,705.5 1258,720 C1260.6,734.5 1264.7,765.2 1268,790 C1271.3,814.8 1276.3,855.8 1278,869" fill="none" stroke="#ff2a2a" stroke-width="2.4" stroke-linecap="round" stroke-linejoin="round" filter="url(#b10)" /></g><g clip-path="url(#c9)"><rect x="1404.2" y="512.9" width="341.4" height="355.8" fill="#fde6e6" /><path d="M1436,505 L1500,505 L1490,540 L1450,620 L1415,690 L1398,700 L1398,560 Z" fill="#e6ecfd" filter="url(#b2)" /><path d="M1398,505 L1436,505 L1398,560 Z" fill="#fdf3f3" filter="url(#b2)" /><path d="M1610,505 L1690,505 L1690,615 L1640,560 Z" fill="#e6ebfc" filter="url(#b2)" /><path d="M1650,505 L1680,505 L1690,540 Z" fill="#f6f8fe" filter="url(#b2)" /><path d="M1689,505 L1714,505 L1692,630 L1689,636 Z" fill="#f1f4fd" filter="url(#b3)" /><path d="M1689,708 L1694,712 L1718,880 L1689,880 Z" fill="#fdecec" filter="url(#b1)" /><path d="M1714,502.9 L1755.6,502.9 L1755.6,878.7 L1718,878.7 L1692,716 L1690,708 L1690,636 L1694,626 Z" fill="url(#gfr)" filter="url(#b12)" /><path d="M1396,668 L1404,676 L1412,700 L1418,718 L1410,726 L1404,733 L1396,740 Z" fill="#5079fe" filter="url(#b3)" /><path d="M1398,790 L1480,790 L1485,880 L1398,880 Z" fill="#fdeeee" filter="url(#b7)" /><path d="M1494,505 L1610,505 L1612,600 L1615,700 L1620,790 L1615,880 L1483,880 L1490,790 L1494,700 Z" fill="#fcbaba" filter="url(#b12)" /><path d="M1506,505 L1588,505 L1590,600 L1585,700 L1546,720 L1510,700 L1506,600 Z" fill="#fba2a2" filter="url(#b4)" /><path d="M1574,702 C1578.7,697.3 1598.2,706.3 1610,710 C1621.8,713.7 1636.7,719.5 1645,724 C1653.3,728.5 1660.8,733.2 1660,737 C1659.2,740.8 1649.2,745.7 1640,747 C1630.8,748.3 1614.7,746.5 1605,745 C1595.3,743.5 1587.2,745.2 1582,738 C1576.8,730.8 1569.3,706.7 1574,702 Z" fill="#fba2a2" filter="url(#b4)" /><path d="M1604,534 C1607.5,539.2 1617.3,555.3 1625,565 C1632.7,574.7 1642.5,584.8 1650,592 C1657.5,599.2 1663.5,603.7 1670,608 C1676.5,612.3 1685.8,616.3 1689,618" fill="none" stroke="#6f90f8" stroke-width="24" stroke-linecap="round" stroke-linejoin="round" filter="url(#b4)" /><path d="M1598,590 C1601.7,596.7 1612.2,617 1620,630 C1627.8,643 1637,656.3 1645,668 C1653,679.7 1660.7,691.7 1668,700 C1675.3,708.3 1685.5,715 1689,718" fill="none" stroke="#7798f8" stroke-width="22" stroke-linecap="round" stroke-linejoin="round" filter="url(#b4)" /><path d="M1404,737 C1408.3,739.5 1420,748.2 1430,752 C1440,755.8 1453.2,759.7 1464,760 C1474.8,760.3 1485.7,756 1495,754 C1504.3,752 1514.2,752 1520,748 C1525.8,744 1526.7,737.2 1530,730 C1533.3,722.8 1537.3,712 1540,705 C1542.7,698 1543.3,691.8 1546,688 C1548.7,684.2 1552.7,683.3 1556,682 C1559.3,680.7 1564.3,680.3 1566,680" fill="none" stroke="#ff2a2a" stroke-width="2.4" stroke-linecap="round" stroke-linejoin="round" filter="url(#b18)" /><path d="M1404,742 C1408.3,746.3 1421,761.7 1430,768 C1439,774.3 1449.7,778.8 1458,780 C1466.3,781.2 1472.3,776.8 1480,775 C1487.7,773.2 1497.3,769.3 1504,769 C1510.7,768.7 1513,769.8 1520,773 C1527,776.2 1539.3,789.3 1546,788 C1552.7,786.7 1554.3,775.2 1560,765 C1565.7,754.8 1573.3,733.3 1580,727 C1586.7,720.7 1591.7,726 1600,727 C1608.3,728 1625,732 1630,733" fill="none" stroke="#ff2a2a" stroke-width="2.4" stroke-linecap="round" stroke-linejoin="round" filter="url(#b18)" /><path d="M1520,870 C1521.7,863.3 1526.7,841.7 1530,830 C1533.3,818.3 1537.3,807 1540,800 C1542.7,793 1543.8,787.2 1546,788 C1548.2,788.8 1550.3,797.2 1553,805 C1555.7,812.8 1559.3,824.2 1562,835 C1564.7,845.8 1567.8,864.2 1569,870" fill="none" stroke="#ff2a2a" stroke-width="2.2" stroke-linecap="round" stroke-linejoin="round" filter="url(#b10)" /><path d="M1546,688 C1543.3,680 1535.3,656.7 1530,640 C1524.7,623.3 1515.7,602.2 1514,588 C1512.3,573.8 1518.3,564.7 1520,555 C1521.7,545.3 1523.3,534.2 1524,530" fill="none" stroke="#f55" stroke-width="2.2" stroke-linecap="round" stroke-linejoin="round" filter="url(#b18)" /><path d="M1524,530 C1525.8,530.5 1531.3,531.7 1535,533 C1538.7,534.3 1541.8,536 1546,538 C1550.2,540 1556,541.7 1560,545 C1564,548.3 1566.7,548.8 1570,558 C1573.3,567.2 1576.7,586.7 1580,600 C1583.3,613.3 1588.3,631.7 1590,638" fill="none" stroke="#f55" stroke-width="2.2" stroke-linecap="round" stroke-linejoin="round" filter="url(#b18)" /><path d="M1590,556 C1590.8,556.3 1590,551 1595,558 C1600,565 1612.5,586.8 1620,598 C1627.5,609.2 1633.5,617.3 1640,625 C1646.5,632.7 1653.2,641.2 1659,644 C1664.8,646.8 1670,643.3 1675,642 C1680,640.7 1685.3,640.5 1689,636 C1692.7,631.5 1694.3,627.7 1697,615 C1699.7,602.3 1702.7,576.8 1705,560 C1707.3,543.2 1710,521.7 1711,514" fill="none" stroke="#ffffff" stroke-width="8" stroke-linecap="round" stroke-linejoin="round" filter="url(#b3)" /><path d="M1590,556 C1590.8,556.3 1590,551 1595,558 C1600,565 1612.5,586.8 1620,598 C1627.5,609.2 1633.5,617.3 1640,625 C1646.5,632.7 1653.2,641.2 1659,644 C1664.8,646.8 1670,643.3 1675,642 C1680,640.7 1685.3,640.5 1689,636 C1692.7,631.5 1694.3,627.7 1697,615 C1699.7,602.3 1702.7,576.8 1705,560 C1707.3,543.2 1710,521.7 1711,514" fill="none" stroke="#ff2a2a" stroke-width="2.4" stroke-linecap="round" stroke-linejoin="round" filter="url(#b10)" /><path d="M1588,564 C1588.8,564.7 1587.7,557.3 1593,568 C1598.3,578.7 1612.2,612.3 1620,628 C1627.8,643.7 1633.5,653.3 1640,662 C1646.5,670.7 1653.2,676.5 1659,680 C1664.8,683.5 1670,682.5 1675,683 C1680,683.5 1685.7,680.2 1689,683 C1692.3,685.8 1692.3,685.5 1695,700 C1697.7,714.5 1701.3,742 1705,770 C1708.7,798 1715,851.7 1717,868" fill="none" stroke="#ffffff" stroke-width="8" stroke-linecap="round" stroke-linejoin="round" filter="url(#b3)" /><path d="M1588,564 C1588.8,564.7 1587.7,557.3 1593,568 C1598.3,578.7 1612.2,612.3 1620,628 C1627.8,643.7 1633.5,653.3 1640,662 C1646.5,670.7 1653.2,676.5 1659,680 C1664.8,683.5 1670,682.5 1675,683 C1680,683.5 1685.7,680.2 1689,683 C1692.3,685.8 1692.3,685.5 1695,700 C1697.7,714.5 1701.3,742 1705,770 C1708.7,798 1715,851.7 1717,868" fill="none" stroke="#ff2a2a" stroke-width="2.4" stroke-linecap="round" stroke-linejoin="round" filter="url(#b10)" /></g><g clip-path="url(#c10)"><rect x="90" y="924" width="340" height="339" fill="#456fff" /><g transform="translate(260.4,1093.5)"><circle cx="0" cy="0" r="100" fill="#94adfd"  filter="url(#b19)" opacity="0.5"/><g transform="rotate(0)"><path d="M60,-48 L200,-33.6 L200,33.6 L60,48 Z" fill="#94adfd" filter="url(#b20)" opacity="0.5"/></g><g transform="rotate(90)"><path d="M60,-48 L200,-33.6 L200,33.6 L60,48 Z" fill="#94adfd" filter="url(#b20)" opacity="0.5"/></g><g transform="rotate(180)"><path d="M60,-48 L200,-33.6 L200,33.6 L60,48 Z" fill="#94adfd" filter="url(#b20)" opacity="0.5"/></g><g transform="rotate(270)"><path d="M60,-48 L200,-33.6 L200,33.6 L60,48 Z" fill="#94adfd" filter="url(#b20)" opacity="0.5"/></g><circle cx="0" cy="0" r="78" fill="#fff"  filter="url(#b6)" /><circle cx="0" cy="0" r="70" fill="#e4eafc"  filter="url(#b4)" /><g transform="rotate(0)"><path d="M64,-31 C66.7,-41.5 74,-32 80,-32 C86,-32 91.7,-31.8 100,-31 C108.3,-30.2 120.8,-29.2 130,-27.5 C139.2,-25.8 147.5,-23.2 155,-21 C162.5,-18.8 168.8,-16.7 175,-14 C181.2,-11.3 188.5,-7.3 192,-5 C195.5,-2.7 195.3,-0.8 196,0 C196.7,0.8 196.7,-0.8 196,0 C195.3,0.8 195.5,2.7 192,5 C188.5,7.3 181.2,11.3 175,14 C168.8,16.7 162.5,18.8 155,21 C147.5,23.2 139.2,25.8 130,27.5 C120.8,29.2 108.3,30.2 100,31 C91.7,31.8 86,32 80,32 C74,32 66.7,41.5 64,31 C61.3,20.5 61.3,-20.5 64,-31 Z" fill="#fff" filter="url(#b5)" /><path d="M64,-31 C66.7,-41.5 74,-32 80,-32 C86,-32 91.7,-31.8 100,-31 C108.3,-30.2 120.8,-29.2 130,-27.5 C139.2,-25.8 147.5,-23.2 155,-21 C162.5,-18.8 168.8,-16.7 175,-14 C181.2,-11.3 188.5,-7.3 192,-5 C195.5,-2.7 195.3,-0.8 196,0 C196.7,0.8 196.7,-0.8 196,0 C195.3,0.8 195.5,2.7 192,5 C188.5,7.3 181.2,11.3 175,14 C168.8,16.7 162.5,18.8 155,21 C147.5,23.2 139.2,25.8 130,27.5 C120.8,29.2 108.3,30.2 100,31 C91.7,31.8 86,32 80,32 C74,32 66.7,41.5 64,31 C61.3,20.5 61.3,-20.5 64,-31 Z" fill="#fde8e8" filter="url(#b17)" /><path d="M69,-29 C73.2,-38.7 90.8,-31.8 94,-29 C97.2,-26.2 89.3,-16.8 88,-12 C86.7,-7.2 86,-4 86,0 C86,4 86.7,7.2 88,12 C89.3,16.8 97.2,26.2 94,29 C90.8,31.8 73.2,38.7 69,29 C64.8,19.3 64.8,-19.3 69,-29 Z" fill="#a9bcf9" filter="url(#b8)" /><path d="M110,-24 C114.7,-28 130,-26.7 132,-24 C134,-21.3 124,-12 122,-8 C120,-4 120,-2.7 120,0 C120,2.7 120,4 122,8 C124,12 134,21.3 132,24 C130,26.7 114.7,28 110,24 C105.3,20 104,8 104,0 C104,-8 105.3,-20 110,-24 Z" fill="#fbcfcf" filter="url(#b1)" /><path d="M110,-30.5 C105,-30.6 86.7,-31.2 80,-31 C73.3,-30.8 72.3,-30.8 70,-29 C67.7,-27.2 66.8,-24.8 66,-20 C65.2,-15.2 65.5,-6.7 65.5,0 C65.5,6.7 65.2,15.2 66,20 C66.8,24.8 67.7,27.2 70,29 C72.3,30.8 73.3,30.8 80,31 C86.7,31.2 105,30.6 110,30.5" fill="none" stroke="#fff" stroke-width="7" stroke-linecap="round" stroke-linejoin="round" filter="url(#b12)" /><path d="M110,-30.5 C105,-30.6 86.7,-31.2 80,-31 C73.3,-30.8 72.3,-30.8 70,-29 C67.7,-27.2 66.8,-24.8 66,-20 C65.2,-15.2 65.5,-6.7 65.5,0 C65.5,6.7 65.2,15.2 66,20 C66.8,24.8 67.7,27.2 70,29 C72.3,30.8 73.3,30.8 80,31 C86.7,31.2 105,30.6 110,30.5" fill="none" stroke="#ff2a2a" stroke-width="2.4" stroke-linecap="round" stroke-linejoin="round" filter="url(#b11)" /><path d="M110,-30.5 C115,-29.8 130.8,-28.5 140,-26.5 C149.2,-24.5 160.8,-19.8 165,-18.5" fill="none" stroke="#f88" stroke-width="1.5" stroke-linecap="round" stroke-linejoin="round" filter="url(#b10)" /><path d="M110,30.5 C115,29.8 130.8,28.5 140,26.5 C149.2,24.5 160.8,19.8 165,18.5" fill="none" stroke="#f88" stroke-width="1.5" stroke-linecap="round" stroke-linejoin="round" filter="url(#b10)" /></g><g transform="rotate(90)"><path d="M64,-31 C66.7,-41.5 74,-32 80,-32 C86,-32 91.7,-31.8 100,-31 C108.3,-30.2 120.8,-29.2 130,-27.5 C139.2,-25.8 147.5,-23.2 155,-21 C162.5,-18.8 168.8,-16.7 175,-14 C181.2,-11.3 188.5,-7.3 192,-5 C195.5,-2.7 195.3,-0.8 196,0 C196.7,0.8 196.7,-0.8 196,0 C195.3,0.8 195.5,2.7 192,5 C188.5,7.3 181.2,11.3 175,14 C168.8,16.7 162.5,18.8 155,21 C147.5,23.2 139.2,25.8 130,27.5 C120.8,29.2 108.3,30.2 100,31 C91.7,31.8 86,32 80,32 C74,32 66.7,41.5 64,31 C61.3,20.5 61.3,-20.5 64,-31 Z" fill="#fff" filter="url(#b5)" /><path d="M64,-31 C66.7,-41.5 74,-32 80,-32 C86,-32 91.7,-31.8 100,-31 C108.3,-30.2 120.8,-29.2 130,-27.5 C139.2,-25.8 147.5,-23.2 155,-21 C162.5,-18.8 168.8,-16.7 175,-14 C181.2,-11.3 188.5,-7.3 192,-5 C195.5,-2.7 195.3,-0.8 196,0 C196.7,0.8 196.7,-0.8 196,0 C195.3,0.8 195.5,2.7 192,5 C188.5,7.3 181.2,11.3 175,14 C168.8,16.7 162.5,18.8 155,21 C147.5,23.2 139.2,25.8 130,27.5 C120.8,29.2 108.3,30.2 100,31 C91.7,31.8 86,32 80,32 C74,32 66.7,41.5 64,31 C61.3,20.5 61.3,-20.5 64,-31 Z" fill="#fde8e8" filter="url(#b17)" /><path d="M69,-29 C73.2,-38.7 90.8,-31.8 94,-29 C97.2,-26.2 89.3,-16.8 88,-12 C86.7,-7.2 86,-4 86,0 C86,4 86.7,7.2 88,12 C89.3,16.8 97.2,26.2 94,29 C90.8,31.8 73.2,38.7 69,29 C64.8,19.3 64.8,-19.3 69,-29 Z" fill="#a9bcf9" filter="url(#b8)" /><path d="M110,-24 C114.7,-28 130,-26.7 132,-24 C134,-21.3 124,-12 122,-8 C120,-4 120,-2.7 120,0 C120,2.7 120,4 122,8 C124,12 134,21.3 132,24 C130,26.7 114.7,28 110,24 C105.3,20 104,8 104,0 C104,-8 105.3,-20 110,-24 Z" fill="#fbcfcf" filter="url(#b1)" /><path d="M110,-30.5 C105,-30.6 86.7,-31.2 80,-31 C73.3,-30.8 72.3,-30.8 70,-29 C67.7,-27.2 66.8,-24.8 66,-20 C65.2,-15.2 65.5,-6.7 65.5,0 C65.5,6.7 65.2,15.2 66,20 C66.8,24.8 67.7,27.2 70,29 C72.3,30.8 73.3,30.8 80,31 C86.7,31.2 105,30.6 110,30.5" fill="none" stroke="#fff" stroke-width="7" stroke-linecap="round" stroke-linejoin="round" filter="url(#b12)" /><path d="M110,-30.5 C105,-30.6 86.7,-31.2 80,-31 C73.3,-30.8 72.3,-30.8 70,-29 C67.7,-27.2 66.8,-24.8 66,-20 C65.2,-15.2 65.5,-6.7 65.5,0 C65.5,6.7 65.2,15.2 66,20 C66.8,24.8 67.7,27.2 70,29 C72.3,30.8 73.3,30.8 80,31 C86.7,31.2 105,30.6 110,30.5" fill="none" stroke="#ff2a2a" stroke-width="2.4" stroke-linecap="round" stroke-linejoin="round" filter="url(#b11)" /><path d="M110,-30.5 C115,-29.8 130.8,-28.5 140,-26.5 C149.2,-24.5 160.8,-19.8 165,-18.5" fill="none" stroke="#f88" stroke-width="1.5" stroke-linecap="round" stroke-linejoin="round" filter="url(#b10)" /><path d="M110,30.5 C115,29.8 130.8,28.5 140,26.5 C149.2,24.5 160.8,19.8 165,18.5" fill="none" stroke="#f88" stroke-width="1.5" stroke-linecap="round" stroke-linejoin="round" filter="url(#b10)" /></g><g transform="rotate(180)"><path d="M64,-31 C66.7,-41.5 74,-32 80,-32 C86,-32 91.7,-31.8 100,-31 C108.3,-30.2 120.8,-29.2 130,-27.5 C139.2,-25.8 147.5,-23.2 155,-21 C162.5,-18.8 168.8,-16.7 175,-14 C181.2,-11.3 188.5,-7.3 192,-5 C195.5,-2.7 195.3,-0.8 196,0 C196.7,0.8 196.7,-0.8 196,0 C195.3,0.8 195.5,2.7 192,5 C188.5,7.3 181.2,11.3 175,14 C168.8,16.7 162.5,18.8 155,21 C147.5,23.2 139.2,25.8 130,27.5 C120.8,29.2 108.3,30.2 100,31 C91.7,31.8 86,32 80,32 C74,32 66.7,41.5 64,31 C61.3,20.5 61.3,-20.5 64,-31 Z" fill="#fff" filter="url(#b5)" /><path d="M64,-31 C66.7,-41.5 74,-32 80,-32 C86,-32 91.7,-31.8 100,-31 C108.3,-30.2 120.8,-29.2 130,-27.5 C139.2,-25.8 147.5,-23.2 155,-21 C162.5,-18.8 168.8,-16.7 175,-14 C181.2,-11.3 188.5,-7.3 192,-5 C195.5,-2.7 195.3,-0.8 196,0 C196.7,0.8 196.7,-0.8 196,0 C195.3,0.8 195.5,2.7 192,5 C188.5,7.3 181.2,11.3 175,14 C168.8,16.7 162.5,18.8 155,21 C147.5,23.2 139.2,25.8 130,27.5 C120.8,29.2 108.3,30.2 100,31 C91.7,31.8 86,32 80,32 C74,32 66.7,41.5 64,31 C61.3,20.5 61.3,-20.5 64,-31 Z" fill="#fde8e8" filter="url(#b17)" /><path d="M69,-29 C73.2,-38.7 90.8,-31.8 94,-29 C97.2,-26.2 89.3,-16.8 88,-12 C86.7,-7.2 86,-4 86,0 C86,4 86.7,7.2 88,12 C89.3,16.8 97.2,26.2 94,29 C90.8,31.8 73.2,38.7 69,29 C64.8,19.3 64.8,-19.3 69,-29 Z" fill="#a9bcf9" filter="url(#b8)" /><path d="M110,-24 C114.7,-28 130,-26.7 132,-24 C134,-21.3 124,-12 122,-8 C120,-4 120,-2.7 120,0 C120,2.7 120,4 122,8 C124,12 134,21.3 132,24 C130,26.7 114.7,28 110,24 C105.3,20 104,8 104,0 C104,-8 105.3,-20 110,-24 Z" fill="#fbcfcf" filter="url(#b1)" /><path d="M110,-30.5 C105,-30.6 86.7,-31.2 80,-31 C73.3,-30.8 72.3,-30.8 70,-29 C67.7,-27.2 66.8,-24.8 66,-20 C65.2,-15.2 65.5,-6.7 65.5,0 C65.5,6.7 65.2,15.2 66,20 C66.8,24.8 67.7,27.2 70,29 C72.3,30.8 73.3,30.8 80,31 C86.7,31.2 105,30.6 110,30.5" fill="none" stroke="#fff" stroke-width="7" stroke-linecap="round" stroke-linejoin="round" filter="url(#b12)" /><path d="M110,-30.5 C105,-30.6 86.7,-31.2 80,-31 C73.3,-30.8 72.3,-30.8 70,-29 C67.7,-27.2 66.8,-24.8 66,-20 C65.2,-15.2 65.5,-6.7 65.5,0 C65.5,6.7 65.2,15.2 66,20 C66.8,24.8 67.7,27.2 70,29 C72.3,30.8 73.3,30.8 80,31 C86.7,31.2 105,30.6 110,30.5" fill="none" stroke="#ff2a2a" stroke-width="2.4" stroke-linecap="round" stroke-linejoin="round" filter="url(#b11)" /><path d="M110,-30.5 C115,-29.8 130.8,-28.5 140,-26.5 C149.2,-24.5 160.8,-19.8 165,-18.5" fill="none" stroke="#f88" stroke-width="1.5" stroke-linecap="round" stroke-linejoin="round" filter="url(#b10)" /><path d="M110,30.5 C115,29.8 130.8,28.5 140,26.5 C149.2,24.5 160.8,19.8 165,18.5" fill="none" stroke="#f88" stroke-width="1.5" stroke-linecap="round" stroke-linejoin="round" filter="url(#b10)" /></g><g transform="rotate(270)"><path d="M64,-31 C66.7,-41.5 74,-32 80,-32 C86,-32 91.7,-31.8 100,-31 C108.3,-30.2 120.8,-29.2 130,-27.5 C139.2,-25.8 147.5,-23.2 155,-21 C162.5,-18.8 168.8,-16.7 175,-14 C181.2,-11.3 188.5,-7.3 192,-5 C195.5,-2.7 195.3,-0.8 196,0 C196.7,0.8 196.7,-0.8 196,0 C195.3,0.8 195.5,2.7 192,5 C188.5,7.3 181.2,11.3 175,14 C168.8,16.7 162.5,18.8 155,21 C147.5,23.2 139.2,25.8 130,27.5 C120.8,29.2 108.3,30.2 100,31 C91.7,31.8 86,32 80,32 C74,32 66.7,41.5 64,31 C61.3,20.5 61.3,-20.5 64,-31 Z" fill="#fff" filter="url(#b5)" /><path d="M64,-31 C66.7,-41.5 74,-32 80,-32 C86,-32 91.7,-31.8 100,-31 C108.3,-30.2 120.8,-29.2 130,-27.5 C139.2,-25.8 147.5,-23.2 155,-21 C162.5,-18.8 168.8,-16.7 175,-14 C181.2,-11.3 188.5,-7.3 192,-5 C195.5,-2.7 195.3,-0.8 196,0 C196.7,0.8 196.7,-0.8 196,0 C195.3,0.8 195.5,2.7 192,5 C188.5,7.3 181.2,11.3 175,14 C168.8,16.7 162.5,18.8 155,21 C147.5,23.2 139.2,25.8 130,27.5 C120.8,29.2 108.3,30.2 100,31 C91.7,31.8 86,32 80,32 C74,32 66.7,41.5 64,31 C61.3,20.5 61.3,-20.5 64,-31 Z" fill="#fde8e8" filter="url(#b17)" /><path d="M69,-29 C73.2,-38.7 90.8,-31.8 94,-29 C97.2,-26.2 89.3,-16.8 88,-12 C86.7,-7.2 86,-4 86,0 C86,4 86.7,7.2 88,12 C89.3,16.8 97.2,26.2 94,29 C90.8,31.8 73.2,38.7 69,29 C64.8,19.3 64.8,-19.3 69,-29 Z" fill="#a9bcf9" filter="url(#b8)" /><path d="M110,-24 C114.7,-28 130,-26.7 132,-24 C134,-21.3 124,-12 122,-8 C120,-4 120,-2.7 120,0 C120,2.7 120,4 122,8 C124,12 134,21.3 132,24 C130,26.7 114.7,28 110,24 C105.3,20 104,8 104,0 C104,-8 105.3,-20 110,-24 Z" fill="#fbcfcf" filter="url(#b1)" /><path d="M110,-30.5 C105,-30.6 86.7,-31.2 80,-31 C73.3,-30.8 72.3,-30.8 70,-29 C67.7,-27.2 66.8,-24.8 66,-20 C65.2,-15.2 65.5,-6.7 65.5,0 C65.5,6.7 65.2,15.2 66,20 C66.8,24.8 67.7,27.2 70,29 C72.3,30.8 73.3,30.8 80,31 C86.7,31.2 105,30.6 110,30.5" fill="none" stroke="#fff" stroke-width="7" stroke-linecap="round" stroke-linejoin="round" filter="url(#b12)" /><path d="M110,-30.5 C105,-30.6 86.7,-31.2 80,-31 C73.3,-30.8 72.3,-30.8 70,-29 C67.7,-27.2 66.8,-24.8 66,-20 C65.2,-15.2 65.5,-6.7 65.5,0 C65.5,6.7 65.2,15.2 66,20 C66.8,24.8 67.7,27.2 70,29 C72.3,30.8 73.3,30.8 80,31 C86.7,31.2 105,30.6 110,30.5" fill="none" stroke="#ff2a2a" stroke-width="2.4" stroke-linecap="round" stroke-linejoin="round" filter="url(#b11)" /><path d="M110,-30.5 C115,-29.8 130.8,-28.5 140,-26.5 C149.2,-24.5 160.8,-19.8 165,-18.5" fill="none" stroke="#f88" stroke-width="1.5" stroke-linecap="round" stroke-linejoin="round" filter="url(#b10)" /><path d="M110,30.5 C115,29.8 130.8,28.5 140,26.5 C149.2,24.5 160.8,19.8 165,18.5" fill="none" stroke="#f88" stroke-width="1.5" stroke-linecap="round" stroke-linejoin="round" filter="url(#b10)" /></g><path d="M65.3,0 C65.3,2.1 64.8,4.3 64,6.3 C63.3,8.3 62,10.3 60.8,12.1 C59.7,13.9 58.2,15.6 57.1,17.3 C56,19 55,20.7 54.2,22.5 C53.5,24.3 53.1,26.1 52.6,28.1 C52.2,30.1 52,32.3 51.6,34.4 C51.1,36.6 50.6,38.9 49.7,40.8 C48.8,42.8 47.7,44.7 46.2,46.2 C44.7,47.7 42.8,48.8 40.8,49.7 C38.9,50.6 36.6,51.1 34.4,51.6 C32.3,52 30.1,52.2 28.1,52.6 C26.1,53.1 24.3,53.5 22.5,54.2 C20.7,55 19,56 17.3,57.1 C15.6,58.2 13.9,59.7 12.1,60.8 C10.3,62 8.3,63.3 6.3,64 C4.3,64.8 2.1,65.3 0,65.3 C-2.1,65.3 -4.3,64.8 -6.3,64 C-8.3,63.3 -10.3,62 -12.1,60.8 C-13.9,59.7 -15.6,58.2 -17.3,57.1 C-19,56 -20.7,55 -22.5,54.2 C-24.3,53.5 -26.1,53.1 -28.1,52.6 C-30.1,52.2 -32.3,52 -34.4,51.6 C-36.6,51.1 -38.9,50.6 -40.8,49.7 C-42.8,48.8 -44.7,47.7 -46.2,46.2 C-47.7,44.7 -48.8,42.8 -49.7,40.8 C-50.6,38.9 -51.1,36.6 -51.6,34.4 C-52,32.3 -52.2,30.1 -52.6,28.1 C-53.1,26.1 -53.5,24.3 -54.2,22.5 C-55,20.7 -56,19 -57.1,17.3 C-58.2,15.6 -59.7,13.9 -60.8,12.1 C-62,10.3 -63.3,8.3 -64,6.3 C-64.8,4.3 -65.3,2.1 -65.3,0 C-65.3,-2.1 -64.8,-4.3 -64,-6.3 C-63.3,-8.3 -62,-10.3 -60.8,-12.1 C-59.7,-13.9 -58.2,-15.6 -57.1,-17.3 C-56,-19 -55,-20.7 -54.2,-22.5 C-53.5,-24.3 -53.1,-26.1 -52.6,-28.1 C-52.2,-30.1 -52,-32.3 -51.6,-34.4 C-51.1,-36.6 -50.6,-38.9 -49.7,-40.8 C-48.8,-42.8 -47.7,-44.7 -46.2,-46.2 C-44.7,-47.7 -42.8,-48.8 -40.8,-49.7 C-38.9,-50.6 -36.6,-51.1 -34.4,-51.6 C-32.3,-52 -30.1,-52.2 -28.1,-52.6 C-26.1,-53.1 -24.3,-53.5 -22.5,-54.2 C-20.7,-55 -19,-56 -17.3,-57.1 C-15.6,-58.2 -13.9,-59.7 -12.1,-60.8 C-10.3,-62 -8.3,-63.3 -6.3,-64 C-4.3,-64.8 -2.1,-65.3 -0,-65.3 C2.1,-65.3 4.3,-64.8 6.3,-64 C8.3,-63.3 10.3,-62 12.1,-60.8 C13.9,-59.7 15.6,-58.2 17.3,-57.1 C19,-56 20.7,-55 22.5,-54.2 C24.3,-53.5 26.1,-53.1 28.1,-52.6 C30.1,-52.2 32.3,-52 34.4,-51.6 C36.6,-51.1 38.9,-50.6 40.8,-49.7 C42.8,-48.8 44.7,-47.7 46.2,-46.2 C47.7,-44.7 48.8,-42.8 49.7,-40.8 C50.6,-38.9 51.1,-36.6 51.6,-34.4 C52,-32.3 52.2,-30.1 52.6,-28.1 C53.1,-26.1 53.5,-24.3 54.2,-22.5 C55,-20.7 56,-19 57.1,-17.3 C58.2,-15.6 59.7,-13.9 60.8,-12.1 C62,-10.3 63.3,-8.3 64,-6.3 C64.8,-4.3 65.3,-2.1 65.3,0 Z" fill="none" stroke="#fff" stroke-width="8" filter="url(#b3)"/><path d="M65.3,0 C65.3,2.1 64.8,4.3 64,6.3 C63.3,8.3 62,10.3 60.8,12.1 C59.7,13.9 58.2,15.6 57.1,17.3 C56,19 55,20.7 54.2,22.5 C53.5,24.3 53.1,26.1 52.6,28.1 C52.2,30.1 52,32.3 51.6,34.4 C51.1,36.6 50.6,38.9 49.7,40.8 C48.8,42.8 47.7,44.7 46.2,46.2 C44.7,47.7 42.8,48.8 40.8,49.7 C38.9,50.6 36.6,51.1 34.4,51.6 C32.3,52 30.1,52.2 28.1,52.6 C26.1,53.1 24.3,53.5 22.5,54.2 C20.7,55 19,56 17.3,57.1 C15.6,58.2 13.9,59.7 12.1,60.8 C10.3,62 8.3,63.3 6.3,64 C4.3,64.8 2.1,65.3 0,65.3 C-2.1,65.3 -4.3,64.8 -6.3,64 C-8.3,63.3 -10.3,62 -12.1,60.8 C-13.9,59.7 -15.6,58.2 -17.3,57.1 C-19,56 -20.7,55 -22.5,54.2 C-24.3,53.5 -26.1,53.1 -28.1,52.6 C-30.1,52.2 -32.3,52 -34.4,51.6 C-36.6,51.1 -38.9,50.6 -40.8,49.7 C-42.8,48.8 -44.7,47.7 -46.2,46.2 C-47.7,44.7 -48.8,42.8 -49.7,40.8 C-50.6,38.9 -51.1,36.6 -51.6,34.4 C-52,32.3 -52.2,30.1 -52.6,28.1 C-53.1,26.1 -53.5,24.3 -54.2,22.5 C-55,20.7 -56,19 -57.1,17.3 C-58.2,15.6 -59.7,13.9 -60.8,12.1 C-62,10.3 -63.3,8.3 -64,6.3 C-64.8,4.3 -65.3,2.1 -65.3,0 C-65.3,-2.1 -64.8,-4.3 -64,-6.3 C-63.3,-8.3 -62,-10.3 -60.8,-12.1 C-59.7,-13.9 -58.2,-15.6 -57.1,-17.3 C-56,-19 -55,-20.7 -54.2,-22.5 C-53.5,-24.3 -53.1,-26.1 -52.6,-28.1 C-52.2,-30.1 -52,-32.3 -51.6,-34.4 C-51.1,-36.6 -50.6,-38.9 -49.7,-40.8 C-48.8,-42.8 -47.7,-44.7 -46.2,-46.2 C-44.7,-47.7 -42.8,-48.8 -40.8,-49.7 C-38.9,-50.6 -36.6,-51.1 -34.4,-51.6 C-32.3,-52 -30.1,-52.2 -28.1,-52.6 C-26.1,-53.1 -24.3,-53.5 -22.5,-54.2 C-20.7,-55 -19,-56 -17.3,-57.1 C-15.6,-58.2 -13.9,-59.7 -12.1,-60.8 C-10.3,-62 -8.3,-63.3 -6.3,-64 C-4.3,-64.8 -2.1,-65.3 -0,-65.3 C2.1,-65.3 4.3,-64.8 6.3,-64 C8.3,-63.3 10.3,-62 12.1,-60.8 C13.9,-59.7 15.6,-58.2 17.3,-57.1 C19,-56 20.7,-55 22.5,-54.2 C24.3,-53.5 26.1,-53.1 28.1,-52.6 C30.1,-52.2 32.3,-52 34.4,-51.6 C36.6,-51.1 38.9,-50.6 40.8,-49.7 C42.8,-48.8 44.7,-47.7 46.2,-46.2 C47.7,-44.7 48.8,-42.8 49.7,-40.8 C50.6,-38.9 51.1,-36.6 51.6,-34.4 C52,-32.3 52.2,-30.1 52.6,-28.1 C53.1,-26.1 53.5,-24.3 54.2,-22.5 C55,-20.7 56,-19 57.1,-17.3 C58.2,-15.6 59.7,-13.9 60.8,-12.1 C62,-10.3 63.3,-8.3 64,-6.3 C64.8,-4.3 65.3,-2.1 65.3,0 Z" fill="none" stroke="#ff2a2a" stroke-width="2.4" filter="url(#b11)"/><rect x="-50" y="-50" width="100" height="100" rx="24" fill="#fb9f9f"  filter="url(#b12)" /><rect x="-44" y="-44" width="88" height="88" rx="20" fill="#fa8e8e"  filter="url(#b4)" /><circle cx="43" cy="43" r="5" fill="#fa8f8f"  filter="url(#b12)" /><circle cx="-43" cy="43" r="5" fill="#fa8f8f"  filter="url(#b12)" /><circle cx="43" cy="-43" r="5" fill="#fa8f8f"  filter="url(#b12)" /><circle cx="-43" cy="-43" r="5" fill="#fa8f8f"  filter="url(#b12)" /><rect x="-29" y="-29" width="58" height="58" rx="8" fill="#fa6c6c"  filter="url(#b3)" /><ellipse cx="1" cy="-1" rx="16" ry="10" transform="rotate(-45)" fill="none" stroke="#ff2a2a" stroke-width="2" filter="url(#b14)"/></g></g><g clip-path="url(#c11)"><rect x="529.4" y="923" width="340" height="339" fill="#456fff" /><g transform="translate(699,1092.3)"><circle cx="0" cy="0" r="105" fill="#94adfd"  filter="url(#b19)" opacity="0.5"/><g transform="rotate(0)"><path d="M80,-38 L200,-26.6 L200,26.6 L80,38 Z" fill="#94adfd" filter="url(#b20)" opacity="0.5"/></g><g transform="rotate(90)"><path d="M80,-38 L200,-26.6 L200,26.6 L80,38 Z" fill="#94adfd" filter="url(#b20)" opacity="0.5"/></g><g transform="rotate(180)"><path d="M80,-38 L200,-26.6 L200,26.6 L80,38 Z" fill="#94adfd" filter="url(#b20)" opacity="0.5"/></g><g transform="rotate(270)"><path d="M80,-38 L200,-26.6 L200,26.6 L80,38 Z" fill="#94adfd" filter="url(#b20)" opacity="0.5"/></g><circle cx="0" cy="0" r="84" fill="#fff"  filter="url(#b7)" /><g transform="rotate(0)"><path d="M86,-14 C86.7,-19.5 87.3,-17.8 90,-19 C92.7,-20.2 96.7,-20.8 102,-21 C107.3,-21.2 115.5,-20.8 122,-20 C128.5,-19.2 134.7,-17.5 141,-16 C147.3,-14.5 154.8,-12.2 160,-11 C165.2,-9.8 167.7,-9.7 172,-8.5 C176.3,-7.3 183,-5.4 186,-4 C189,-2.6 189.3,-0.7 190,0 C190.7,0.7 190.7,-0.7 190,0 C189.3,0.7 189,2.6 186,4 C183,5.4 176.3,7.3 172,8.5 C167.7,9.7 165.2,9.8 160,11 C154.8,12.2 147.3,14.5 141,16 C134.7,17.5 128.5,19.2 122,20 C115.5,20.8 107.3,21.2 102,21 C96.7,20.8 92.7,20.2 90,19 C87.3,17.8 86.7,19.5 86,14 C85.3,8.5 85.3,-8.5 86,-14 Z" fill="#fff" filter="url(#b9)" /><path d="M86,-14 C86.7,-19.5 87.3,-17.8 90,-19 C92.7,-20.2 96.7,-20.8 102,-21 C107.3,-21.2 115.5,-20.8 122,-20 C128.5,-19.2 134.7,-17.5 141,-16 C147.3,-14.5 154.8,-12.2 160,-11 C165.2,-9.8 167.7,-9.7 172,-8.5 C176.3,-7.3 183,-5.4 186,-4 C189,-2.6 189.3,-0.7 190,0 C190.7,0.7 190.7,-0.7 190,0 C189.3,0.7 189,2.6 186,4 C183,5.4 176.3,7.3 172,8.5 C167.7,9.7 165.2,9.8 160,11 C154.8,12.2 147.3,14.5 141,16 C134.7,17.5 128.5,19.2 122,20 C115.5,20.8 107.3,21.2 102,21 C96.7,20.8 92.7,20.2 90,19 C87.3,17.8 86.7,19.5 86,14 C85.3,8.5 85.3,-8.5 86,-14 Z" fill="#a9bdf9" filter="url(#b17)" /><path d="M150,-14 C155.7,-15.3 183.3,-11.7 190,-8 C196.7,-4.3 196.7,4.3 190,8 C183.3,11.7 155.7,15.3 150,14 C144.3,12.7 156,4.7 156,0 C156,-4.7 144.3,-12.7 150,-14 Z" fill="#fff" filter="url(#b8)" /><path d="M86,-14 C86.7,-14.8 87.3,-17.8 90,-19 C92.7,-20.2 96.7,-20.8 102,-21 C107.3,-21.2 115.5,-20.8 122,-20 C128.5,-19.2 134.7,-17.5 141,-16 C147.3,-14.5 154.8,-12.2 160,-11 C165.2,-9.8 167.7,-9.7 172,-8.5 C176.3,-7.3 183,-5.4 186,-4 C189,-2.6 189.3,-0.7 190,0 C190.7,0.7 190.7,-0.7 190,0 C189.3,0.7 189,2.6 186,4 C183,5.4 176.3,7.3 172,8.5 C167.7,9.7 165.2,9.8 160,11 C154.8,12.2 147.3,14.5 141,16 C134.7,17.5 128.5,19.2 122,20 C115.5,20.8 107.3,21.2 102,21 C96.7,20.8 92.7,20.2 90,19 C87.3,17.8 86.7,14.8 86,14" fill="none" stroke="#fff" stroke-width="5" stroke-linecap="round" stroke-linejoin="round" filter="url(#b13)" /><path d="M125,-19.5 C121.2,-19.8 107.5,-20.9 102,-21 C96.5,-21.1 94.3,-21.2 92,-20 C89.7,-18.8 88.8,-17.3 88,-14 C87.2,-10.7 87,-4.7 87,0 C87,4.7 87.2,10.7 88,14 C88.8,17.3 89.7,18.8 92,20 C94.3,21.2 96.5,21.1 102,21 C107.5,20.9 121.2,19.8 125,19.5" fill="none" stroke="#ff2a2a" stroke-width="2.6" stroke-linecap="round" stroke-linejoin="round" filter="url(#b11)" /><path d="M125,-19.5 C127.7,-18.9 135.2,-17.4 141,-16 C146.8,-14.6 152.5,-13 160,-11 C167.5,-9 181.7,-5.2 186,-4" fill="none" stroke="#f66" stroke-width="1.3" stroke-linecap="round" stroke-linejoin="round" filter="url(#b16)" /><path d="M125,19.5 C127.7,18.9 135.2,17.4 141,16 C146.8,14.6 152.5,13 160,11 C167.5,9 181.7,5.2 186,4" fill="none" stroke="#f66" stroke-width="1.3" stroke-linecap="round" stroke-linejoin="round" filter="url(#b16)" /></g><g transform="rotate(90)"><path d="M86,-14 C86.7,-19.5 87.3,-17.8 90,-19 C92.7,-20.2 96.7,-20.8 102,-21 C107.3,-21.2 115.5,-20.8 122,-20 C128.5,-19.2 134.7,-17.5 141,-16 C147.3,-14.5 154.8,-12.2 160,-11 C165.2,-9.8 167.7,-9.7 172,-8.5 C176.3,-7.3 183,-5.4 186,-4 C189,-2.6 189.3,-0.7 190,0 C190.7,0.7 190.7,-0.7 190,0 C189.3,0.7 189,2.6 186,4 C183,5.4 176.3,7.3 172,8.5 C167.7,9.7 165.2,9.8 160,11 C154.8,12.2 147.3,14.5 141,16 C134.7,17.5 128.5,19.2 122,20 C115.5,20.8 107.3,21.2 102,21 C96.7,20.8 92.7,20.2 90,19 C87.3,17.8 86.7,19.5 86,14 C85.3,8.5 85.3,-8.5 86,-14 Z" fill="#fff" filter="url(#b9)" /><path d="M86,-14 C86.7,-19.5 87.3,-17.8 90,-19 C92.7,-20.2 96.7,-20.8 102,-21 C107.3,-21.2 115.5,-20.8 122,-20 C128.5,-19.2 134.7,-17.5 141,-16 C147.3,-14.5 154.8,-12.2 160,-11 C165.2,-9.8 167.7,-9.7 172,-8.5 C176.3,-7.3 183,-5.4 186,-4 C189,-2.6 189.3,-0.7 190,0 C190.7,0.7 190.7,-0.7 190,0 C189.3,0.7 189,2.6 186,4 C183,5.4 176.3,7.3 172,8.5 C167.7,9.7 165.2,9.8 160,11 C154.8,12.2 147.3,14.5 141,16 C134.7,17.5 128.5,19.2 122,20 C115.5,20.8 107.3,21.2 102,21 C96.7,20.8 92.7,20.2 90,19 C87.3,17.8 86.7,19.5 86,14 C85.3,8.5 85.3,-8.5 86,-14 Z" fill="#a9bdf9" filter="url(#b17)" /><path d="M150,-14 C155.7,-15.3 183.3,-11.7 190,-8 C196.7,-4.3 196.7,4.3 190,8 C183.3,11.7 155.7,15.3 150,14 C144.3,12.7 156,4.7 156,0 C156,-4.7 144.3,-12.7 150,-14 Z" fill="#fff" filter="url(#b8)" /><path d="M86,-14 C86.7,-14.8 87.3,-17.8 90,-19 C92.7,-20.2 96.7,-20.8 102,-21 C107.3,-21.2 115.5,-20.8 122,-20 C128.5,-19.2 134.7,-17.5 141,-16 C147.3,-14.5 154.8,-12.2 160,-11 C165.2,-9.8 167.7,-9.7 172,-8.5 C176.3,-7.3 183,-5.4 186,-4 C189,-2.6 189.3,-0.7 190,0 C190.7,0.7 190.7,-0.7 190,0 C189.3,0.7 189,2.6 186,4 C183,5.4 176.3,7.3 172,8.5 C167.7,9.7 165.2,9.8 160,11 C154.8,12.2 147.3,14.5 141,16 C134.7,17.5 128.5,19.2 122,20 C115.5,20.8 107.3,21.2 102,21 C96.7,20.8 92.7,20.2 90,19 C87.3,17.8 86.7,14.8 86,14" fill="none" stroke="#fff" stroke-width="5" stroke-linecap="round" stroke-linejoin="round" filter="url(#b13)" /><path d="M125,-19.5 C121.2,-19.8 107.5,-20.9 102,-21 C96.5,-21.1 94.3,-21.2 92,-20 C89.7,-18.8 88.8,-17.3 88,-14 C87.2,-10.7 87,-4.7 87,0 C87,4.7 87.2,10.7 88,14 C88.8,17.3 89.7,18.8 92,20 C94.3,21.2 96.5,21.1 102,21 C107.5,20.9 121.2,19.8 125,19.5" fill="none" stroke="#ff2a2a" stroke-width="2.6" stroke-linecap="round" stroke-linejoin="round" filter="url(#b11)" /><path d="M125,-19.5 C127.7,-18.9 135.2,-17.4 141,-16 C146.8,-14.6 152.5,-13 160,-11 C167.5,-9 181.7,-5.2 186,-4" fill="none" stroke="#f66" stroke-width="1.3" stroke-linecap="round" stroke-linejoin="round" filter="url(#b16)" /><path d="M125,19.5 C127.7,18.9 135.2,17.4 141,16 C146.8,14.6 152.5,13 160,11 C167.5,9 181.7,5.2 186,4" fill="none" stroke="#f66" stroke-width="1.3" stroke-linecap="round" stroke-linejoin="round" filter="url(#b16)" /></g><g transform="rotate(180)"><path d="M86,-14 C86.7,-19.5 87.3,-17.8 90,-19 C92.7,-20.2 96.7,-20.8 102,-21 C107.3,-21.2 115.5,-20.8 122,-20 C128.5,-19.2 134.7,-17.5 141,-16 C147.3,-14.5 154.8,-12.2 160,-11 C165.2,-9.8 167.7,-9.7 172,-8.5 C176.3,-7.3 183,-5.4 186,-4 C189,-2.6 189.3,-0.7 190,0 C190.7,0.7 190.7,-0.7 190,0 C189.3,0.7 189,2.6 186,4 C183,5.4 176.3,7.3 172,8.5 C167.7,9.7 165.2,9.8 160,11 C154.8,12.2 147.3,14.5 141,16 C134.7,17.5 128.5,19.2 122,20 C115.5,20.8 107.3,21.2 102,21 C96.7,20.8 92.7,20.2 90,19 C87.3,17.8 86.7,19.5 86,14 C85.3,8.5 85.3,-8.5 86,-14 Z" fill="#fff" filter="url(#b9)" /><path d="M86,-14 C86.7,-19.5 87.3,-17.8 90,-19 C92.7,-20.2 96.7,-20.8 102,-21 C107.3,-21.2 115.5,-20.8 122,-20 C128.5,-19.2 134.7,-17.5 141,-16 C147.3,-14.5 154.8,-12.2 160,-11 C165.2,-9.8 167.7,-9.7 172,-8.5 C176.3,-7.3 183,-5.4 186,-4 C189,-2.6 189.3,-0.7 190,0 C190.7,0.7 190.7,-0.7 190,0 C189.3,0.7 189,2.6 186,4 C183,5.4 176.3,7.3 172,8.5 C167.7,9.7 165.2,9.8 160,11 C154.8,12.2 147.3,14.5 141,16 C134.7,17.5 128.5,19.2 122,20 C115.5,20.8 107.3,21.2 102,21 C96.7,20.8 92.7,20.2 90,19 C87.3,17.8 86.7,19.5 86,14 C85.3,8.5 85.3,-8.5 86,-14 Z" fill="#a9bdf9" filter="url(#b17)" /><path d="M150,-14 C155.7,-15.3 183.3,-11.7 190,-8 C196.7,-4.3 196.7,4.3 190,8 C183.3,11.7 155.7,15.3 150,14 C144.3,12.7 156,4.7 156,0 C156,-4.7 144.3,-12.7 150,-14 Z" fill="#fff" filter="url(#b8)" /><path d="M86,-14 C86.7,-14.8 87.3,-17.8 90,-19 C92.7,-20.2 96.7,-20.8 102,-21 C107.3,-21.2 115.5,-20.8 122,-20 C128.5,-19.2 134.7,-17.5 141,-16 C147.3,-14.5 154.8,-12.2 160,-11 C165.2,-9.8 167.7,-9.7 172,-8.5 C176.3,-7.3 183,-5.4 186,-4 C189,-2.6 189.3,-0.7 190,0 C190.7,0.7 190.7,-0.7 190,0 C189.3,0.7 189,2.6 186,4 C183,5.4 176.3,7.3 172,8.5 C167.7,9.7 165.2,9.8 160,11 C154.8,12.2 147.3,14.5 141,16 C134.7,17.5 128.5,19.2 122,20 C115.5,20.8 107.3,21.2 102,21 C96.7,20.8 92.7,20.2 90,19 C87.3,17.8 86.7,14.8 86,14" fill="none" stroke="#fff" stroke-width="5" stroke-linecap="round" stroke-linejoin="round" filter="url(#b13)" /><path d="M125,-19.5 C121.2,-19.8 107.5,-20.9 102,-21 C96.5,-21.1 94.3,-21.2 92,-20 C89.7,-18.8 88.8,-17.3 88,-14 C87.2,-10.7 87,-4.7 87,0 C87,4.7 87.2,10.7 88,14 C88.8,17.3 89.7,18.8 92,20 C94.3,21.2 96.5,21.1 102,21 C107.5,20.9 121.2,19.8 125,19.5" fill="none" stroke="#ff2a2a" stroke-width="2.6" stroke-linecap="round" stroke-linejoin="round" filter="url(#b11)" /><path d="M125,-19.5 C127.7,-18.9 135.2,-17.4 141,-16 C146.8,-14.6 152.5,-13 160,-11 C167.5,-9 181.7,-5.2 186,-4" fill="none" stroke="#f66" stroke-width="1.3" stroke-linecap="round" stroke-linejoin="round" filter="url(#b16)" /><path d="M125,19.5 C127.7,18.9 135.2,17.4 141,16 C146.8,14.6 152.5,13 160,11 C167.5,9 181.7,5.2 186,4" fill="none" stroke="#f66" stroke-width="1.3" stroke-linecap="round" stroke-linejoin="round" filter="url(#b16)" /></g><g transform="rotate(270)"><path d="M86,-14 C86.7,-19.5 87.3,-17.8 90,-19 C92.7,-20.2 96.7,-20.8 102,-21 C107.3,-21.2 115.5,-20.8 122,-20 C128.5,-19.2 134.7,-17.5 141,-16 C147.3,-14.5 154.8,-12.2 160,-11 C165.2,-9.8 167.7,-9.7 172,-8.5 C176.3,-7.3 183,-5.4 186,-4 C189,-2.6 189.3,-0.7 190,0 C190.7,0.7 190.7,-0.7 190,0 C189.3,0.7 189,2.6 186,4 C183,5.4 176.3,7.3 172,8.5 C167.7,9.7 165.2,9.8 160,11 C154.8,12.2 147.3,14.5 141,16 C134.7,17.5 128.5,19.2 122,20 C115.5,20.8 107.3,21.2 102,21 C96.7,20.8 92.7,20.2 90,19 C87.3,17.8 86.7,19.5 86,14 C85.3,8.5 85.3,-8.5 86,-14 Z" fill="#fff" filter="url(#b9)" /><path d="M86,-14 C86.7,-19.5 87.3,-17.8 90,-19 C92.7,-20.2 96.7,-20.8 102,-21 C107.3,-21.2 115.5,-20.8 122,-20 C128.5,-19.2 134.7,-17.5 141,-16 C147.3,-14.5 154.8,-12.2 160,-11 C165.2,-9.8 167.7,-9.7 172,-8.5 C176.3,-7.3 183,-5.4 186,-4 C189,-2.6 189.3,-0.7 190,0 C190.7,0.7 190.7,-0.7 190,0 C189.3,0.7 189,2.6 186,4 C183,5.4 176.3,7.3 172,8.5 C167.7,9.7 165.2,9.8 160,11 C154.8,12.2 147.3,14.5 141,16 C134.7,17.5 128.5,19.2 122,20 C115.5,20.8 107.3,21.2 102,21 C96.7,20.8 92.7,20.2 90,19 C87.3,17.8 86.7,19.5 86,14 C85.3,8.5 85.3,-8.5 86,-14 Z" fill="#a9bdf9" filter="url(#b17)" /><path d="M150,-14 C155.7,-15.3 183.3,-11.7 190,-8 C196.7,-4.3 196.7,4.3 190,8 C183.3,11.7 155.7,15.3 150,14 C144.3,12.7 156,4.7 156,0 C156,-4.7 144.3,-12.7 150,-14 Z" fill="#fff" filter="url(#b8)" /><path d="M86,-14 C86.7,-14.8 87.3,-17.8 90,-19 C92.7,-20.2 96.7,-20.8 102,-21 C107.3,-21.2 115.5,-20.8 122,-20 C128.5,-19.2 134.7,-17.5 141,-16 C147.3,-14.5 154.8,-12.2 160,-11 C165.2,-9.8 167.7,-9.7 172,-8.5 C176.3,-7.3 183,-5.4 186,-4 C189,-2.6 189.3,-0.7 190,0 C190.7,0.7 190.7,-0.7 190,0 C189.3,0.7 189,2.6 186,4 C183,5.4 176.3,7.3 172,8.5 C167.7,9.7 165.2,9.8 160,11 C154.8,12.2 147.3,14.5 141,16 C134.7,17.5 128.5,19.2 122,20 C115.5,20.8 107.3,21.2 102,21 C96.7,20.8 92.7,20.2 90,19 C87.3,17.8 86.7,14.8 86,14" fill="none" stroke="#fff" stroke-width="5" stroke-linecap="round" stroke-linejoin="round" filter="url(#b13)" /><path d="M125,-19.5 C121.2,-19.8 107.5,-20.9 102,-21 C96.5,-21.1 94.3,-21.2 92,-20 C89.7,-18.8 88.8,-17.3 88,-14 C87.2,-10.7 87,-4.7 87,0 C87,4.7 87.2,10.7 88,14 C88.8,17.3 89.7,18.8 92,20 C94.3,21.2 96.5,21.1 102,21 C107.5,20.9 121.2,19.8 125,19.5" fill="none" stroke="#ff2a2a" stroke-width="2.6" stroke-linecap="round" stroke-linejoin="round" filter="url(#b11)" /><path d="M125,-19.5 C127.7,-18.9 135.2,-17.4 141,-16 C146.8,-14.6 152.5,-13 160,-11 C167.5,-9 181.7,-5.2 186,-4" fill="none" stroke="#f66" stroke-width="1.3" stroke-linecap="round" stroke-linejoin="round" filter="url(#b16)" /><path d="M125,19.5 C127.7,18.9 135.2,17.4 141,16 C146.8,14.6 152.5,13 160,11 C167.5,9 181.7,5.2 186,4" fill="none" stroke="#f66" stroke-width="1.3" stroke-linecap="round" stroke-linejoin="round" filter="url(#b16)" /></g><path d="M77,0 C77,5 76.5,10.2 75.2,15 C74,19.8 71.9,24.5 69.5,28.8 C67.1,33.1 63.8,36.9 60.7,40.6 C57.6,44.3 54.3,47.6 50.9,50.9 C47.6,54.3 44.3,57.6 40.6,60.7 C36.9,63.8 33.1,67.1 28.8,69.5 C24.5,71.9 19.8,74 15,75.2 C10.2,76.5 5,77 0,77 C-5,77 -10.2,76.5 -15,75.2 C-19.8,74 -24.5,71.9 -28.8,69.5 C-33.1,67.1 -36.9,63.8 -40.6,60.7 C-44.3,57.6 -47.6,54.3 -50.9,50.9 C-54.3,47.6 -57.6,44.3 -60.7,40.6 C-63.8,36.9 -67.1,33.1 -69.5,28.8 C-71.9,24.5 -74,19.8 -75.2,15 C-76.5,10.2 -77,5 -77,0 C-77,-5 -76.5,-10.2 -75.2,-15 C-74,-19.8 -71.9,-24.5 -69.5,-28.8 C-67.1,-33.1 -63.8,-36.9 -60.7,-40.6 C-57.6,-44.3 -54.3,-47.6 -50.9,-50.9 C-47.6,-54.3 -44.3,-57.6 -40.6,-60.7 C-36.9,-63.8 -33.1,-67.1 -28.8,-69.5 C-24.5,-71.9 -19.8,-74 -15,-75.2 C-10.2,-76.5 -5,-77 -0,-77 C5,-77 10.2,-76.5 15,-75.2 C19.8,-74 24.5,-71.9 28.8,-69.5 C33.1,-67.1 36.9,-63.8 40.6,-60.7 C44.3,-57.6 47.6,-54.3 50.9,-50.9 C54.3,-47.6 57.6,-44.3 60.7,-40.6 C63.8,-36.9 67.1,-33.1 69.5,-28.8 C71.9,-24.5 74,-19.8 75.2,-15 C76.5,-10.2 77,-5 77,0 Z" fill="#fff" filter="url(#b3)" /><path d="M76,0 C76,4.9 75.5,10 74.3,14.8 C73,19.5 71,24.2 68.6,28.4 C66.2,32.6 63,36.4 59.9,40 C56.9,43.7 53.5,46.9 50.2,50.2 C46.9,53.5 43.7,56.9 40,59.9 C36.4,63 32.6,66.2 28.4,68.6 C24.2,71 19.5,73 14.8,74.3 C10,75.5 4.9,76 0,76 C-4.9,76 -10,75.5 -14.8,74.3 C-19.5,73 -24.2,71 -28.4,68.6 C-32.6,66.2 -36.4,63 -40,59.9 C-43.7,56.9 -46.9,53.5 -50.2,50.2 C-53.5,46.9 -56.9,43.7 -59.9,40 C-63,36.4 -66.2,32.6 -68.6,28.4 C-71,24.2 -73,19.5 -74.3,14.8 C-75.5,10 -76,4.9 -76,0 C-76,-4.9 -75.5,-10 -74.3,-14.8 C-73,-19.5 -71,-24.2 -68.6,-28.4 C-66.2,-32.6 -63,-36.4 -59.9,-40 C-56.9,-43.7 -53.5,-46.9 -50.2,-50.2 C-46.9,-53.5 -43.7,-56.9 -40,-59.9 C-36.4,-63 -32.6,-66.2 -28.4,-68.6 C-24.2,-71 -19.5,-73 -14.8,-74.3 C-10,-75.5 -4.9,-76 -0,-76 C4.9,-76 10,-75.5 14.8,-74.3 C19.5,-73 24.2,-71 28.4,-68.6 C32.6,-66.2 36.4,-63 40,-59.9 C43.7,-56.9 46.9,-53.5 50.2,-50.2 C53.5,-46.9 56.9,-43.7 59.9,-40 C63,-36.4 66.2,-32.6 68.6,-28.4 C71,-24.2 73,-19.5 74.3,-14.8 C75.5,-10 76,-4.9 76,0 Z" fill="#c3d1fa" filter="url(#b3)" /><g transform="rotate(45)"><path d="M44,-22 L70,-26 L70,26 L44,22 Z" fill="#fbaeae" filter="url(#b3)"/></g><g transform="rotate(135)"><path d="M44,-22 L70,-26 L70,26 L44,22 Z" fill="#fbaeae" filter="url(#b3)"/></g><g transform="rotate(225)"><path d="M44,-22 L70,-26 L70,26 L44,22 Z" fill="#fbaeae" filter="url(#b3)"/></g><g transform="rotate(315)"><path d="M44,-22 L70,-26 L70,26 L44,22 Z" fill="#fbaeae" filter="url(#b3)"/></g><path d="M60,0 C60,3.9 59.6,7.9 59,11.7 C58.3,15.6 57.4,19.5 56.1,23.2 C54.8,27 53.2,30.8 51.2,34.2 C49.2,37.6 46.7,41 43.8,43.8 C41,46.7 37.6,49.2 34.2,51.2 C30.8,53.2 27,54.8 23.2,56.1 C19.5,57.4 15.6,58.3 11.7,59 C7.9,59.6 3.9,60 0,60 C-3.9,60 -7.9,59.6 -11.7,59 C-15.6,58.3 -19.5,57.4 -23.2,56.1 C-27,54.8 -30.8,53.2 -34.2,51.2 C-37.6,49.2 -41,46.7 -43.8,43.8 C-46.7,41 -49.2,37.6 -51.2,34.2 C-53.2,30.8 -54.8,27 -56.1,23.2 C-57.4,19.5 -58.3,15.6 -59,11.7 C-59.6,7.9 -60,3.9 -60,0 C-60,-3.9 -59.6,-7.9 -59,-11.7 C-58.3,-15.6 -57.4,-19.5 -56.1,-23.2 C-54.8,-27 -53.2,-30.8 -51.2,-34.2 C-49.2,-37.6 -46.7,-41 -43.8,-43.8 C-41,-46.7 -37.6,-49.2 -34.2,-51.2 C-30.8,-53.2 -27,-54.8 -23.2,-56.1 C-19.5,-57.4 -15.6,-58.3 -11.7,-59 C-7.9,-59.6 -3.9,-60 -0,-60 C3.9,-60 7.9,-59.6 11.7,-59 C15.6,-58.3 19.5,-57.4 23.2,-56.1 C27,-54.8 30.8,-53.2 34.2,-51.2 C37.6,-49.2 41,-46.7 43.8,-43.8 C46.7,-41 49.2,-37.6 51.2,-34.2 C53.2,-30.8 54.8,-27 56.1,-23.2 C57.4,-19.5 58.3,-15.6 59,-11.7 C59.6,-7.9 60,-3.9 60,0 Z" fill="#fbb7b7" filter="url(#b3)" /><g transform="rotate(0)"><ellipse cx="66" cy="0" rx="8" ry="27" fill="#bccbfa" filter="url(#b3)"/></g><g transform="rotate(90)"><ellipse cx="66" cy="0" rx="8" ry="27" fill="#bccbfa" filter="url(#b3)"/></g><g transform="rotate(180)"><ellipse cx="66" cy="0" rx="8" ry="27" fill="#bccbfa" filter="url(#b3)"/></g><g transform="rotate(270)"><ellipse cx="66" cy="0" rx="8" ry="27" fill="#bccbfa" filter="url(#b3)"/></g><path d="M77,0 C76.7,2.5 76.5,10.2 75.2,15 C74,19.8 71.9,24.5 69.5,28.8 C67.1,33.1 63.8,36.9 60.7,40.6 C57.6,44.3 54.3,47.6 50.9,50.9 C47.6,54.3 44.3,57.6 40.6,60.7 C36.9,63.8 33.1,67.1 28.8,69.5 C24.5,71.9 19.8,74 15,75.2 C10.2,76.5 5,77 0,77 C-5,77 -10.2,76.5 -15,75.2 C-19.8,74 -24.5,71.9 -28.8,69.5 C-33.1,67.1 -36.9,63.8 -40.6,60.7 C-44.3,57.6 -47.6,54.3 -50.9,50.9 C-54.3,47.6 -57.6,44.3 -60.7,40.6 C-63.8,36.9 -67.1,33.1 -69.5,28.8 C-71.9,24.5 -74,19.8 -75.2,15 C-76.5,10.2 -77,5 -77,0 C-77,-5 -76.5,-10.2 -75.2,-15 C-74,-19.8 -71.9,-24.5 -69.5,-28.8 C-67.1,-33.1 -63.8,-36.9 -60.7,-40.6 C-57.6,-44.3 -54.3,-47.6 -50.9,-50.9 C-47.6,-54.3 -44.3,-57.6 -40.6,-60.7 C-36.9,-63.8 -33.1,-67.1 -28.8,-69.5 C-24.5,-71.9 -19.8,-74 -15,-75.2 C-10.2,-76.5 -5,-77 -0,-77 C5,-77 10.2,-76.5 15,-75.2 C19.8,-74 24.5,-71.9 28.8,-69.5 C33.1,-67.1 36.9,-63.8 40.6,-60.7 C44.3,-57.6 47.6,-54.3 50.9,-50.9 C54.3,-47.6 57.6,-44.3 60.7,-40.6 C63.8,-36.9 67.1,-33.1 69.5,-28.8 C71.9,-24.5 74.3,-17.3 75.2,-15" fill="none" stroke="#ff2a2a" stroke-width="2.6" stroke-linecap="round" stroke-linejoin="round" filter="url(#b11)" /><path d="M77,0 C77,5 76.5,10.2 75.2,15 C74,19.8 71.9,24.5 69.5,28.8 C67.1,33.1 63.8,36.9 60.7,40.6 C57.6,44.3 54.3,47.6 50.9,50.9 C47.6,54.3 44.3,57.6 40.6,60.7 C36.9,63.8 33.1,67.1 28.8,69.5 C24.5,71.9 19.8,74 15,75.2 C10.2,76.5 5,77 0,77 C-5,77 -10.2,76.5 -15,75.2 C-19.8,74 -24.5,71.9 -28.8,69.5 C-33.1,67.1 -36.9,63.8 -40.6,60.7 C-44.3,57.6 -47.6,54.3 -50.9,50.9 C-54.3,47.6 -57.6,44.3 -60.7,40.6 C-63.8,36.9 -67.1,33.1 -69.5,28.8 C-71.9,24.5 -74,19.8 -75.2,15 C-76.5,10.2 -77,5 -77,0 C-77,-5 -76.5,-10.2 -75.2,-15 C-74,-19.8 -71.9,-24.5 -69.5,-28.8 C-67.1,-33.1 -63.8,-36.9 -60.7,-40.6 C-57.6,-44.3 -54.3,-47.6 -50.9,-50.9 C-47.6,-54.3 -44.3,-57.6 -40.6,-60.7 C-36.9,-63.8 -33.1,-67.1 -28.8,-69.5 C-24.5,-71.9 -19.8,-74 -15,-75.2 C-10.2,-76.5 -5,-77 -0,-77 C5,-77 10.2,-76.5 15,-75.2 C19.8,-74 24.5,-71.9 28.8,-69.5 C33.1,-67.1 36.9,-63.8 40.6,-60.7 C44.3,-57.6 47.6,-54.3 50.9,-50.9 C54.3,-47.6 57.6,-44.3 60.7,-40.6 C63.8,-36.9 67.1,-33.1 69.5,-28.8 C71.9,-24.5 74,-19.8 75.2,-15 C76.5,-10.2 77,-5 77,0 Z" fill="none" stroke="#fff" stroke-width="7" filter="url(#b21)" opacity="0.9"/><path d="M77,0 C77,5 76.5,10.2 75.2,15 C74,19.8 71.9,24.5 69.5,28.8 C67.1,33.1 63.8,36.9 60.7,40.6 C57.6,44.3 54.3,47.6 50.9,50.9 C47.6,54.3 44.3,57.6 40.6,60.7 C36.9,63.8 33.1,67.1 28.8,69.5 C24.5,71.9 19.8,74 15,75.2 C10.2,76.5 5,77 0,77 C-5,77 -10.2,76.5 -15,75.2 C-19.8,74 -24.5,71.9 -28.8,69.5 C-33.1,67.1 -36.9,63.8 -40.6,60.7 C-44.3,57.6 -47.6,54.3 -50.9,50.9 C-54.3,47.6 -57.6,44.3 -60.7,40.6 C-63.8,36.9 -67.1,33.1 -69.5,28.8 C-71.9,24.5 -74,19.8 -75.2,15 C-76.5,10.2 -77,5 -77,0 C-77,-5 -76.5,-10.2 -75.2,-15 C-74,-19.8 -71.9,-24.5 -69.5,-28.8 C-67.1,-33.1 -63.8,-36.9 -60.7,-40.6 C-57.6,-44.3 -54.3,-47.6 -50.9,-50.9 C-47.6,-54.3 -44.3,-57.6 -40.6,-60.7 C-36.9,-63.8 -33.1,-67.1 -28.8,-69.5 C-24.5,-71.9 -19.8,-74 -15,-75.2 C-10.2,-76.5 -5,-77 -0,-77 C5,-77 10.2,-76.5 15,-75.2 C19.8,-74 24.5,-71.9 28.8,-69.5 C33.1,-67.1 36.9,-63.8 40.6,-60.7 C44.3,-57.6 47.6,-54.3 50.9,-50.9 C54.3,-47.6 57.6,-44.3 60.7,-40.6 C63.8,-36.9 67.1,-33.1 69.5,-28.8 C71.9,-24.5 74,-19.8 75.2,-15 C76.5,-10.2 77,-5 77,0 Z" fill="none" stroke="#ff2a2a" stroke-width="2.6" filter="url(#b11)"/><rect x="-45" y="-45" width="90" height="90" rx="13" fill="#fff"  filter="url(#b17)" /><rect x="-44" y="-44" width="88" height="88" rx="12" fill="#f97d7d"  filter="url(#b13)" /><rect x="-36" y="-36" width="72" height="72" rx="10" fill="#f86c6c"  filter="url(#b2)" /><ellipse cx="0" cy="0" rx="9" ry="4.5" transform="rotate(45)" fill="none" stroke="#ff2a2a" stroke-width="2" filter="url(#b11)"/></g></g><g clip-path="url(#c12)"><rect x="967" y="922" width="340" height="339" fill="#456fff" /><g transform="translate(1137,1091)"><path d="M-115,0 C-115,-23.3 -89.2,-58.3 -60,-70 C-30.8,-81.7 30.8,-81.7 60,-70 C89.2,-58.3 115,-23.3 115,0 C115,23.3 89.2,58.3 60,70 C30.8,81.7 -30.8,81.7 -60,70 C-89.2,58.3 -115,23.3 -115,0 Z" fill="#94adfd" filter="url(#b19)" opacity="0.55"/><g transform="rotate(0)"><path d="M80,-38 L200,-26.6 L200,26.6 L80,38 Z" fill="#94adfd" filter="url(#b20)" opacity="0.5"/></g><g transform="rotate(180)"><path d="M80,-38 L200,-26.6 L200,26.6 L80,38 Z" fill="#94adfd" filter="url(#b20)" opacity="0.5"/></g><g transform="rotate(90)"><path d="M40,-60 L200,-42 L200,42 L40,60 Z" fill="#94adfd" filter="url(#b20)" opacity="0.5"/></g><g transform="rotate(270)"><path d="M40,-60 L200,-42 L200,42 L40,60 Z" fill="#94adfd" filter="url(#b20)" opacity="0.5"/></g><path d="M-95,0 C-95,-18.3 -74.2,-45.8 -50,-55 C-25.8,-64.2 25.8,-64.2 50,-55 C74.2,-45.8 95,-18.3 95,0 C95,18.3 74.2,45.8 50,55 C25.8,64.2 -25.8,64.2 -50,55 C-74.2,45.8 -95,18.3 -95,0 Z" fill="#fff" filter="url(#b22)" /><g transform="rotate(0)"><path d="M86,-14 C86.7,-19.5 87.3,-17.8 90,-19 C92.7,-20.2 96.7,-20.8 102,-21 C107.3,-21.2 115.5,-20.8 122,-20 C128.5,-19.2 134.7,-17.5 141,-16 C147.3,-14.5 154.8,-12.2 160,-11 C165.2,-9.8 167.7,-9.7 172,-8.5 C176.3,-7.3 183,-5.4 186,-4 C189,-2.6 189.3,-0.7 190,0 C190.7,0.7 190.7,-0.7 190,0 C189.3,0.7 189,2.6 186,4 C183,5.4 176.3,7.3 172,8.5 C167.7,9.7 165.2,9.8 160,11 C154.8,12.2 147.3,14.5 141,16 C134.7,17.5 128.5,19.2 122,20 C115.5,20.8 107.3,21.2 102,21 C96.7,20.8 92.7,20.2 90,19 C87.3,17.8 86.7,19.5 86,14 C85.3,8.5 85.3,-8.5 86,-14 Z" fill="#fff" filter="url(#b9)" /><path d="M86,-14 C86.7,-19.5 87.3,-17.8 90,-19 C92.7,-20.2 96.7,-20.8 102,-21 C107.3,-21.2 115.5,-20.8 122,-20 C128.5,-19.2 134.7,-17.5 141,-16 C147.3,-14.5 154.8,-12.2 160,-11 C165.2,-9.8 167.7,-9.7 172,-8.5 C176.3,-7.3 183,-5.4 186,-4 C189,-2.6 189.3,-0.7 190,0 C190.7,0.7 190.7,-0.7 190,0 C189.3,0.7 189,2.6 186,4 C183,5.4 176.3,7.3 172,8.5 C167.7,9.7 165.2,9.8 160,11 C154.8,12.2 147.3,14.5 141,16 C134.7,17.5 128.5,19.2 122,20 C115.5,20.8 107.3,21.2 102,21 C96.7,20.8 92.7,20.2 90,19 C87.3,17.8 86.7,19.5 86,14 C85.3,8.5 85.3,-8.5 86,-14 Z" fill="#a9bdf9" filter="url(#b17)" /><path d="M150,-14 C155.7,-15.3 183.3,-11.7 190,-8 C196.7,-4.3 196.7,4.3 190,8 C183.3,11.7 155.7,15.3 150,14 C144.3,12.7 156,4.7 156,0 C156,-4.7 144.3,-12.7 150,-14 Z" fill="#fff" filter="url(#b8)" /><path d="M125,-19.5 C121.2,-19.8 107.5,-20.9 102,-21 C96.5,-21.1 94.3,-21.2 92,-20 C89.7,-18.8 88.8,-17.3 88,-14 C87.2,-10.7 87,-4.7 87,0 C87,4.7 87.2,10.7 88,14 C88.8,17.3 89.7,18.8 92,20 C94.3,21.2 96.5,21.1 102,21 C107.5,20.9 121.2,19.8 125,19.5" fill="none" stroke="#ff2a2a" stroke-width="2.6" stroke-linecap="round" stroke-linejoin="round" filter="url(#b11)" /><path d="M125,-19.5 C127.7,-18.9 135.2,-17.4 141,-16 C146.8,-14.6 152.5,-13 160,-11 C167.5,-9 181.7,-5.2 186,-4" fill="none" stroke="#f66" stroke-width="1.3" stroke-linecap="round" stroke-linejoin="round" filter="url(#b16)" /><path d="M125,19.5 C127.7,18.9 135.2,17.4 141,16 C146.8,14.6 152.5,13 160,11 C167.5,9 181.7,5.2 186,4" fill="none" stroke="#f66" stroke-width="1.3" stroke-linecap="round" stroke-linejoin="round" filter="url(#b16)" /></g><g transform="rotate(180)"><path d="M86,-14 C86.7,-19.5 87.3,-17.8 90,-19 C92.7,-20.2 96.7,-20.8 102,-21 C107.3,-21.2 115.5,-20.8 122,-20 C128.5,-19.2 134.7,-17.5 141,-16 C147.3,-14.5 154.8,-12.2 160,-11 C165.2,-9.8 167.7,-9.7 172,-8.5 C176.3,-7.3 183,-5.4 186,-4 C189,-2.6 189.3,-0.7 190,0 C190.7,0.7 190.7,-0.7 190,0 C189.3,0.7 189,2.6 186,4 C183,5.4 176.3,7.3 172,8.5 C167.7,9.7 165.2,9.8 160,11 C154.8,12.2 147.3,14.5 141,16 C134.7,17.5 128.5,19.2 122,20 C115.5,20.8 107.3,21.2 102,21 C96.7,20.8 92.7,20.2 90,19 C87.3,17.8 86.7,19.5 86,14 C85.3,8.5 85.3,-8.5 86,-14 Z" fill="#fff" filter="url(#b9)" /><path d="M86,-14 C86.7,-19.5 87.3,-17.8 90,-19 C92.7,-20.2 96.7,-20.8 102,-21 C107.3,-21.2 115.5,-20.8 122,-20 C128.5,-19.2 134.7,-17.5 141,-16 C147.3,-14.5 154.8,-12.2 160,-11 C165.2,-9.8 167.7,-9.7 172,-8.5 C176.3,-7.3 183,-5.4 186,-4 C189,-2.6 189.3,-0.7 190,0 C190.7,0.7 190.7,-0.7 190,0 C189.3,0.7 189,2.6 186,4 C183,5.4 176.3,7.3 172,8.5 C167.7,9.7 165.2,9.8 160,11 C154.8,12.2 147.3,14.5 141,16 C134.7,17.5 128.5,19.2 122,20 C115.5,20.8 107.3,21.2 102,21 C96.7,20.8 92.7,20.2 90,19 C87.3,17.8 86.7,19.5 86,14 C85.3,8.5 85.3,-8.5 86,-14 Z" fill="#a9bdf9" filter="url(#b17)" /><path d="M150,-14 C155.7,-15.3 183.3,-11.7 190,-8 C196.7,-4.3 196.7,4.3 190,8 C183.3,11.7 155.7,15.3 150,14 C144.3,12.7 156,4.7 156,0 C156,-4.7 144.3,-12.7 150,-14 Z" fill="#fff" filter="url(#b8)" /><path d="M125,-19.5 C121.2,-19.8 107.5,-20.9 102,-21 C96.5,-21.1 94.3,-21.2 92,-20 C89.7,-18.8 88.8,-17.3 88,-14 C87.2,-10.7 87,-4.7 87,0 C87,4.7 87.2,10.7 88,14 C88.8,17.3 89.7,18.8 92,20 C94.3,21.2 96.5,21.1 102,21 C107.5,20.9 121.2,19.8 125,19.5" fill="none" stroke="#ff2a2a" stroke-width="2.6" stroke-linecap="round" stroke-linejoin="round" filter="url(#b11)" /><path d="M125,-19.5 C127.7,-18.9 135.2,-17.4 141,-16 C146.8,-14.6 152.5,-13 160,-11 C167.5,-9 181.7,-5.2 186,-4" fill="none" stroke="#f66" stroke-width="1.3" stroke-linecap="round" stroke-linejoin="round" filter="url(#b16)" /><path d="M125,19.5 C127.7,18.9 135.2,17.4 141,16 C146.8,14.6 152.5,13 160,11 C167.5,9 181.7,5.2 186,4" fill="none" stroke="#f66" stroke-width="1.3" stroke-linecap="round" stroke-linejoin="round" filter="url(#b16)" /></g><g transform="rotate(0)"><path d="M-41,-50 C-43,-54.7 -42.3,-65 -42,-75 C-41.7,-85 -41.5,-97.5 -39,-110 C-36.5,-122.5 -30.3,-140.2 -27,-150 C-23.7,-159.8 -21,-164 -19,-169 C-17,-174 -20.7,-178.2 -15,-180 C-9.3,-181.8 9.3,-181.8 15,-180 C20.7,-178.2 17,-174 19,-169 C21,-164 23.7,-159.8 27,-150 C30.3,-140.2 36.5,-122.5 39,-110 C41.5,-97.5 41.7,-85 42,-75 C42.3,-65 43,-54.7 41,-50 C39,-45.3 36.8,-47.7 30,-47 C23.2,-46.3 10,-46 0,-46 C-10,-46 -23.2,-46.3 -30,-47 C-36.8,-47.7 -39,-45.3 -41,-50 Z" fill="#fff" filter="url(#b1)" /><path d="M-41,-50 C-43,-54.7 -42.3,-65 -42,-75 C-41.7,-85 -41.5,-97.5 -39,-110 C-36.5,-122.5 -30.3,-140.2 -27,-150 C-23.7,-159.8 -21,-164 -19,-169 C-17,-174 -20.7,-178.2 -15,-180 C-9.3,-181.8 9.3,-181.8 15,-180 C20.7,-178.2 17,-174 19,-169 C21,-164 23.7,-159.8 27,-150 C30.3,-140.2 36.5,-122.5 39,-110 C41.5,-97.5 41.7,-85 42,-75 C42.3,-65 43,-54.7 41,-50 C39,-45.3 36.8,-47.7 30,-47 C23.2,-46.3 10,-46 0,-46 C-10,-46 -23.2,-46.3 -30,-47 C-36.8,-47.7 -39,-45.3 -41,-50 Z" fill="#fcd6d6" filter="url(#b17)" /><path d="M-30,-60 C-39.7,-68.3 -29.7,-95 -28,-110 C-26.3,-125 -22.3,-139.2 -20,-150 C-17.7,-160.8 -19.7,-170.8 -14,-175 C-8.3,-179.2 8.3,-179.2 14,-175 C19.7,-170.8 17.7,-160.8 20,-150 C22.3,-139.2 26.3,-125 28,-110 C29.7,-95 39.7,-68.3 30,-60 C20.3,-51.7 -20.3,-51.7 -30,-60 Z" fill="#fdeaea" filter="url(#b9)" /><path d="M-40,-52 C-45.3,-54.2 -36.2,-56.5 -32,-62 C-27.8,-67.5 -20.3,-79.5 -15,-85 C-9.7,-90.5 -5,-95 0,-95 C5,-95 9.7,-90.5 15,-85 C20.3,-79.5 27.8,-67.5 32,-62 C36.2,-56.5 45.3,-54.2 40,-52 C34.7,-49.8 13.3,-49 0,-49 C-13.3,-49 -34.7,-49.8 -40,-52 Z" fill="#fbb2b2" filter="url(#b12)" /><path d="M-16,-175 C-11.7,-177.5 11.7,-177.5 16,-175 C20.3,-172.5 12.7,-163.2 10,-160 C7.3,-156.8 3.3,-156 0,-156 C-3.3,-156 -7.3,-156.8 -10,-160 C-12.7,-163.2 -20.3,-172.5 -16,-175 Z" fill="#fbc4c4" filter="url(#b3)" /></g><g transform="rotate(180)"><path d="M-41,-50 C-43,-54.7 -42.3,-65 -42,-75 C-41.7,-85 -41.5,-97.5 -39,-110 C-36.5,-122.5 -30.3,-140.2 -27,-150 C-23.7,-159.8 -21,-164 -19,-169 C-17,-174 -20.7,-178.2 -15,-180 C-9.3,-181.8 9.3,-181.8 15,-180 C20.7,-178.2 17,-174 19,-169 C21,-164 23.7,-159.8 27,-150 C30.3,-140.2 36.5,-122.5 39,-110 C41.5,-97.5 41.7,-85 42,-75 C42.3,-65 43,-54.7 41,-50 C39,-45.3 36.8,-47.7 30,-47 C23.2,-46.3 10,-46 0,-46 C-10,-46 -23.2,-46.3 -30,-47 C-36.8,-47.7 -39,-45.3 -41,-50 Z" fill="#fff" filter="url(#b1)" /><path d="M-41,-50 C-43,-54.7 -42.3,-65 -42,-75 C-41.7,-85 -41.5,-97.5 -39,-110 C-36.5,-122.5 -30.3,-140.2 -27,-150 C-23.7,-159.8 -21,-164 -19,-169 C-17,-174 -20.7,-178.2 -15,-180 C-9.3,-181.8 9.3,-181.8 15,-180 C20.7,-178.2 17,-174 19,-169 C21,-164 23.7,-159.8 27,-150 C30.3,-140.2 36.5,-122.5 39,-110 C41.5,-97.5 41.7,-85 42,-75 C42.3,-65 43,-54.7 41,-50 C39,-45.3 36.8,-47.7 30,-47 C23.2,-46.3 10,-46 0,-46 C-10,-46 -23.2,-46.3 -30,-47 C-36.8,-47.7 -39,-45.3 -41,-50 Z" fill="#fcd6d6" filter="url(#b17)" /><path d="M-30,-60 C-39.7,-68.3 -29.7,-95 -28,-110 C-26.3,-125 -22.3,-139.2 -20,-150 C-17.7,-160.8 -19.7,-170.8 -14,-175 C-8.3,-179.2 8.3,-179.2 14,-175 C19.7,-170.8 17.7,-160.8 20,-150 C22.3,-139.2 26.3,-125 28,-110 C29.7,-95 39.7,-68.3 30,-60 C20.3,-51.7 -20.3,-51.7 -30,-60 Z" fill="#fdeaea" filter="url(#b9)" /><path d="M-40,-52 C-45.3,-54.2 -36.2,-56.5 -32,-62 C-27.8,-67.5 -20.3,-79.5 -15,-85 C-9.7,-90.5 -5,-95 0,-95 C5,-95 9.7,-90.5 15,-85 C20.3,-79.5 27.8,-67.5 32,-62 C36.2,-56.5 45.3,-54.2 40,-52 C34.7,-49.8 13.3,-49 0,-49 C-13.3,-49 -34.7,-49.8 -40,-52 Z" fill="#fbb2b2" filter="url(#b12)" /><path d="M-16,-175 C-11.7,-177.5 11.7,-177.5 16,-175 C20.3,-172.5 12.7,-163.2 10,-160 C7.3,-156.8 3.3,-156 0,-156 C-3.3,-156 -7.3,-156.8 -10,-160 C-12.7,-163.2 -20.3,-172.5 -16,-175 Z" fill="#fbc4c4" filter="url(#b3)" /></g><path d="M-82,0 C-82,-5.3 -80,-10.5 -77,-16 C-74,-21.5 -68.8,-28.5 -64,-33 C-59.2,-37.5 -54.5,-40.8 -48,-43 C-41.5,-45.2 -33,-45.8 -25,-46 C-17,-46.2 -8.3,-44 0,-44 C8.3,-44 17,-46.2 25,-46 C33,-45.8 41.5,-45.2 48,-43 C54.5,-40.8 59.2,-37.5 64,-33 C68.8,-28.5 74,-21.5 77,-16 C80,-10.5 82,-5.3 82,0 C82,5.3 80,10.5 77,16 C74,21.5 68.8,28.5 64,33 C59.2,37.5 54.5,40.8 48,43 C41.5,45.2 33,45.8 25,46 C17,46.2 8.3,44 0,44 C-8.3,44 -17,46.2 -25,46 C-33,45.8 -41.5,45.2 -48,43 C-54.5,40.8 -59.2,37.5 -64,33 C-68.8,28.5 -74,21.5 -77,16 C-80,10.5 -82,5.3 -82,0 Z" fill="#e9eefc" filter="url(#b17)" /><path d="M-82,0 C-82,-5.3 -80,-10.5 -77,-16 C-74,-21.5 -68.8,-28.5 -64,-33 C-59.2,-37.5 -54.5,-40.8 -48,-43 C-41.5,-45.2 -33,-45.8 -25,-46 C-17,-46.2 -8.3,-44 0,-44 C8.3,-44 17,-46.2 25,-46 C33,-45.8 41.5,-45.2 48,-43 C54.5,-40.8 59.2,-37.5 64,-33 C68.8,-28.5 74,-21.5 77,-16 C80,-10.5 82,-5.3 82,0 C82,5.3 80,10.5 77,16 C74,21.5 68.8,28.5 64,33 C59.2,37.5 54.5,40.8 48,43 C41.5,45.2 33,45.8 25,46 C17,46.2 8.3,44 0,44 C-8.3,44 -17,46.2 -25,46 C-33,45.8 -41.5,45.2 -48,43 C-54.5,40.8 -59.2,37.5 -64,33 C-68.8,28.5 -74,21.5 -77,16 C-80,10.5 -82,5.3 -82,0 Z" fill="none" stroke="#fff" stroke-width="7" filter="url(#b21)"/><path d="M-82,0 C-82,-5.3 -80,-10.5 -77,-16 C-74,-21.5 -68.8,-28.5 -64,-33 C-59.2,-37.5 -54.5,-40.8 -48,-43 C-41.5,-45.2 -33,-45.8 -25,-46 C-17,-46.2 -8.3,-44 0,-44 C8.3,-44 17,-46.2 25,-46 C33,-45.8 41.5,-45.2 48,-43 C54.5,-40.8 59.2,-37.5 64,-33 C68.8,-28.5 74,-21.5 77,-16 C80,-10.5 82,-5.3 82,0 C82,5.3 80,10.5 77,16 C74,21.5 68.8,28.5 64,33 C59.2,37.5 54.5,40.8 48,43 C41.5,45.2 33,45.8 25,46 C17,46.2 8.3,44 0,44 C-8.3,44 -17,46.2 -25,46 C-33,45.8 -41.5,45.2 -48,43 C-54.5,40.8 -59.2,37.5 -64,33 C-68.8,28.5 -74,21.5 -77,16 C-80,10.5 -82,5.3 -82,0 Z" fill="none" stroke="#ff2a2a" stroke-width="2.4" filter="url(#b11)"/><rect x="-61" y="-33" width="122" height="66" rx="16" fill="#fbb9b9"  filter="url(#b12)" /><rect x="-26" y="-49" width="52" height="98" rx="14" fill="#fbb0b0"  filter="url(#b12)" /><rect x="-52" y="-26" width="104" height="52" rx="14" fill="#fa9f9f"  filter="url(#b4)" /><circle cx="22" cy="30" r="7" fill="#fbe0e0"  filter="url(#b3)" /><circle cx="-22" cy="30" r="7" fill="#fbe0e0"  filter="url(#b3)" /><circle cx="22" cy="-30" r="7" fill="#fbe0e0"  filter="url(#b3)" /><circle cx="-22" cy="-30" r="7" fill="#fbe0e0"  filter="url(#b3)" /><circle cx="0" cy="0" r="18" fill="#f65050"  filter="url(#b4)" /><circle cx="0" cy="0" r="5" fill="#f77"  filter="url(#b17)" /></g></g><g clip-path="url(#c13)"><rect x="1406" y="922" width="340" height="339" fill="#456fff" /><g transform="translate(1576,1091)"><ellipse cx="0" cy="0" rx="215" ry="68" fill="#94adfd"  filter="url(#b20)" opacity="0.5"/><g transform="rotate(90)"><path d="M40,-34 L200,-23.8 L200,23.8 L40,34 Z" fill="#94adfd" filter="url(#b20)" opacity="0.5"/></g><g transform="rotate(270)"><path d="M40,-34 L200,-23.8 L200,23.8 L40,34 Z" fill="#94adfd" filter="url(#b20)" opacity="0.5"/></g><path d="M-11,-180 C-6.8,-193.3 6.8,-193.3 11,-180 C15.2,-166.7 13.5,-146.7 14,-100 C14.5,-53.3 14.5,53.3 14,100 C13.5,146.7 15.2,166.7 11,180 C6.8,193.3 -6.8,193.3 -11,180 C-15.2,166.7 -13.5,146.7 -14,100 C-14.5,53.3 -14.5,-53.3 -14,-100 C-13.5,-146.7 -15.2,-166.7 -11,-180 Z" fill="#fff" filter="url(#b5)" opacity="0.9"/><ellipse cx="0" cy="0" rx="198" ry="47" fill="#fff"  filter="url(#b4)" /><ellipse cx="0" cy="0" rx="195" ry="43.5" fill="#fff"  filter="url(#b17)" /><ellipse cx="0" cy="0" rx="150" ry="40" fill="#fde6e6"  filter="url(#b0)" /><path d="M-50,-42 C-59.7,-50.2 -16.3,-82.5 -8,-91 C0.3,-99.5 -2.7,-93 0,-93 C2.7,-93 -0.3,-99.5 8,-91 C16.3,-82.5 59.7,-50.2 50,-42 C40.3,-33.8 -40.3,-33.8 -50,-42 Z" fill="#fff" filter="url(#b9)" /><path d="M-52,-42 C-62,-49.8 -16.7,-80.8 -8,-89 C0.7,-97.2 -2.7,-91 0,-91 C2.7,-91 -0.7,-97.2 8,-89 C16.7,-80.8 62,-49.8 52,-42 C42,-34.2 -42,-34.2 -52,-42 Z" fill="#b9c9fa" filter="url(#b12)" /><path d="M-60,-38 C-51.3,-46.8 -18,-81.8 -8,-91 C2,-100.2 -2.7,-93 0,-93 C2.7,-93 -2,-100.2 8,-91 C18,-81.8 51.3,-46.8 60,-38" fill="none" stroke="#fff" stroke-width="6" stroke-linecap="round" stroke-linejoin="round" filter="url(#b12)" /><path d="M-60,-38 C-51.3,-46.8 -18,-81.8 -8,-91 C2,-100.2 -2.7,-93 0,-93 C2.7,-93 -2,-100.2 8,-91 C18,-81.8 51.3,-46.8 60,-38" fill="none" stroke="#ff2a2a" stroke-width="2.3" stroke-linecap="round" stroke-linejoin="round" filter="url(#b11)" /><path d="M-50,42 C-59.7,50.2 -16.3,82.5 -8,91 C0.3,99.5 -2.7,93 0,93 C2.7,93 -0.3,99.5 8,91 C16.3,82.5 59.7,50.2 50,42 C40.3,33.8 -40.3,33.8 -50,42 Z" fill="#fff" filter="url(#b9)" /><path d="M-52,42 C-62,49.8 -16.7,80.8 -8,89 C0.7,97.2 -2.7,91 0,91 C2.7,91 -0.7,97.2 8,89 C16.7,80.8 62,49.8 52,42 C42,34.2 -42,34.2 -52,42 Z" fill="#b9c9fa" filter="url(#b12)" /><path d="M-60,38 C-51.3,46.8 -18,81.8 -8,91 C2,100.2 -2.7,93 0,93 C2.7,93 -2,100.2 8,91 C18,81.8 51.3,46.8 60,38" fill="none" stroke="#fff" stroke-width="6" stroke-linecap="round" stroke-linejoin="round" filter="url(#b12)" /><path d="M-60,38 C-51.3,46.8 -18,81.8 -8,91 C2,100.2 -2.7,93 0,93 C2.7,93 -2,100.2 8,91 C18,81.8 51.3,46.8 60,38" fill="none" stroke="#ff2a2a" stroke-width="2.3" stroke-linecap="round" stroke-linejoin="round" filter="url(#b11)" /><path d="M-107,0 L-55,-42 L55,-42 L107,0 L55,42 L-55,42 Z" fill="#fcc9c9" filter="url(#b12)" /><ellipse cx="0" cy="-46" rx="44" ry="22" fill="#fcd2d2"  filter="url(#b12)" /><ellipse cx="0" cy="46" rx="44" ry="22" fill="#fcd2d2"  filter="url(#b12)" /><circle cx="0" cy="0" r="51" fill="#fa9f9f"  filter="url(#b12)" /><ellipse cx="0" cy="0" rx="34" ry="48" fill="#f99393"  filter="url(#b2)" /><circle cx="0" cy="0" r="12" fill="#f88"  filter="url(#b1)" /><g transform="scale(1,1)"><path d="M-3,-175 C-4.8,-170 -7,-153.8 -8,-145 C-9,-136.2 -9.3,-127.5 -9,-122 C-8.7,-116.5 -7.5,-114 -6,-112 C-4.5,-110 -2,-110 0,-110 C2,-110 4.5,-110 6,-112 C7.5,-114 8.7,-116.5 9,-122 C9.3,-127.5 9,-136.2 8,-145 C7,-153.8 4.8,-170 3,-175 C1.2,-180 -1.2,-180 -3,-175 Z" fill="#fff" filter="url(#b2)" /><path d="M-3,-175 C-4.8,-170 -7,-153.8 -8,-145 C-9,-136.2 -9.3,-127.5 -9,-122 C-8.7,-116.5 -7.5,-114 -6,-112 C-4.5,-110 -2,-110 0,-110 C2,-110 4.5,-110 6,-112 C7.5,-114 8.7,-116.5 9,-122 C9.3,-127.5 9,-136.2 8,-145 C7,-153.8 4.8,-170 3,-175 C1.2,-180 -1.2,-180 -3,-175 Z" fill="#c9d6fb" filter="url(#b17)" /><path d="M-3,-175 C-3.8,-170 -7,-153.8 -8,-145 C-9,-136.2 -9.3,-127.5 -9,-122 C-8.7,-116.5 -7.5,-114 -6,-112 C-4.5,-110 -2,-110 0,-110 C2,-110 4.5,-110 6,-112 C7.5,-114 8.7,-116.5 9,-122 C9.3,-127.5 9,-136.2 8,-145 C7,-153.8 3.8,-170 3,-175" fill="none" stroke="#ff2a2a" stroke-width="2.2" stroke-linecap="round" stroke-linejoin="round" filter="url(#b11)" /></g><g transform="scale(1,-1)"><path d="M-3,-175 C-4.8,-170 -7,-153.8 -8,-145 C-9,-136.2 -9.3,-127.5 -9,-122 C-8.7,-116.5 -7.5,-114 -6,-112 C-4.5,-110 -2,-110 0,-110 C2,-110 4.5,-110 6,-112 C7.5,-114 8.7,-116.5 9,-122 C9.3,-127.5 9,-136.2 8,-145 C7,-153.8 4.8,-170 3,-175 C1.2,-180 -1.2,-180 -3,-175 Z" fill="#fff" filter="url(#b2)" /><path d="M-3,-175 C-4.8,-170 -7,-153.8 -8,-145 C-9,-136.2 -9.3,-127.5 -9,-122 C-8.7,-116.5 -7.5,-114 -6,-112 C-4.5,-110 -2,-110 0,-110 C2,-110 4.5,-110 6,-112 C7.5,-114 8.7,-116.5 9,-122 C9.3,-127.5 9,-136.2 8,-145 C7,-153.8 4.8,-170 3,-175 C1.2,-180 -1.2,-180 -3,-175 Z" fill="#c9d6fb" filter="url(#b17)" /><path d="M-3,-175 C-3.8,-170 -7,-153.8 -8,-145 C-9,-136.2 -9.3,-127.5 -9,-122 C-8.7,-116.5 -7.5,-114 -6,-112 C-4.5,-110 -2,-110 0,-110 C2,-110 4.5,-110 6,-112 C7.5,-114 8.7,-116.5 9,-122 C9.3,-127.5 9,-136.2 8,-145 C7,-153.8 3.8,-170 3,-175" fill="none" stroke="#ff2a2a" stroke-width="2.2" stroke-linecap="round" stroke-linejoin="round" filter="url(#b11)" /></g></g></g><g clip-path="url(#c14)"><rect x="90" y="1273" width="340" height="339" fill="#456fff" /><g transform="translate(259.6,1442.6)"><path d="M125,0 C125,-13.3 119.2,-28.3 110,-40 C100.8,-51.7 81.7,-58.3 70,-70 C58.3,-81.7 51.7,-100.8 40,-110 C28.3,-119.2 13.3,-125 0,-125 C-13.3,-125 -28.3,-119.2 -40,-110 C-51.7,-100.8 -58.3,-81.7 -70,-70 C-81.7,-58.3 -100.8,-51.7 -110,-40 C-119.2,-28.3 -125,-13.3 -125,-0 C-125,13.3 -119.2,28.3 -110,40 C-100.8,51.7 -81.7,58.3 -70,70 C-58.3,81.7 -51.7,100.8 -40,110 C-28.3,119.2 -13.3,125 -0,125 C13.3,125 28.3,119.2 40,110 C51.7,100.8 58.3,81.7 70,70 C81.7,58.3 100.8,51.7 110,40 C119.2,28.3 125,13.3 125,0 Z" fill="#94adfd" filter="url(#b19)" opacity="0.55"/><g transform="rotate(0)"><path d="M60,-38 L200,-26.6 L200,26.6 L60,38 Z" fill="#94adfd" filter="url(#b20)" opacity="0.5"/></g><g transform="rotate(90)"><path d="M60,-38 L200,-26.6 L200,26.6 L60,38 Z" fill="#94adfd" filter="url(#b20)" opacity="0.5"/></g><g transform="rotate(180)"><path d="M60,-38 L200,-26.6 L200,26.6 L60,38 Z" fill="#94adfd" filter="url(#b20)" opacity="0.5"/></g><g transform="rotate(270)"><path d="M60,-38 L200,-26.6 L200,26.6 L60,38 Z" fill="#94adfd" filter="url(#b20)" opacity="0.5"/></g><g transform="rotate(0)"><path d="M60,-20 L175,-10 L175,10 L60,20 Z" fill="#fff" filter="url(#b5)" opacity="0.6"/></g><g transform="rotate(90)"><path d="M60,-20 L175,-10 L175,10 L60,20 Z" fill="#fff" filter="url(#b5)" opacity="0.6"/></g><g transform="rotate(180)"><path d="M60,-20 L175,-10 L175,10 L60,20 Z" fill="#fff" filter="url(#b5)" opacity="0.6"/></g><g transform="rotate(270)"><path d="M60,-20 L175,-10 L175,10 L60,20 Z" fill="#fff" filter="url(#b5)" opacity="0.6"/></g><path d="M103,0 C103,5.3 100.8,11.7 98,16 C95.2,20.3 93,19.3 86,26 C79,32.7 66,46 56,56 C46,66 32.7,79 26,86 C19.3,93 20.3,95.2 16,98 C11.7,100.8 5.3,103 0,103 C-5.3,103 -11.7,100.8 -16,98 C-20.3,95.2 -19.3,93 -26,86 C-32.7,79 -46,66 -56,56 C-66,46 -79,32.7 -86,26 C-93,19.3 -95.2,20.3 -98,16 C-100.8,11.7 -103,5.3 -103,0 C-103,-5.3 -100.8,-11.7 -98,-16 C-95.2,-20.3 -93,-19.3 -86,-26 C-79,-32.7 -66,-46 -56,-56 C-46,-66 -32.7,-79 -26,-86 C-19.3,-93 -20.3,-95.2 -16,-98 C-11.7,-100.8 -5.3,-103 -0,-103 C5.3,-103 11.7,-100.8 16,-98 C20.3,-95.2 19.3,-93 26,-86 C32.7,-79 46,-66 56,-56 C66,-46 79,-32.7 86,-26 C93,-19.3 95.2,-20.3 98,-16 C100.8,-11.7 103,-5.3 103,0 Z" fill="#fff" filter="url(#b9)" /><path d="M103,0 C103,5.3 100.8,11.7 98,16 C95.2,20.3 93,19.3 86,26 C79,32.7 66,46 56,56 C46,66 32.7,79 26,86 C19.3,93 20.3,95.2 16,98 C11.7,100.8 5.3,103 0,103 C-5.3,103 -11.7,100.8 -16,98 C-20.3,95.2 -19.3,93 -26,86 C-32.7,79 -46,66 -56,56 C-66,46 -79,32.7 -86,26 C-93,19.3 -95.2,20.3 -98,16 C-100.8,11.7 -103,5.3 -103,0 C-103,-5.3 -100.8,-11.7 -98,-16 C-95.2,-20.3 -93,-19.3 -86,-26 C-79,-32.7 -66,-46 -56,-56 C-46,-66 -32.7,-79 -26,-86 C-19.3,-93 -20.3,-95.2 -16,-98 C-11.7,-100.8 -5.3,-103 -0,-103 C5.3,-103 11.7,-100.8 16,-98 C20.3,-95.2 19.3,-93 26,-86 C32.7,-79 46,-66 56,-56 C66,-46 79,-32.7 86,-26 C93,-19.3 95.2,-20.3 98,-16 C100.8,-11.7 103,-5.3 103,0 Z" fill="#fcd0d0" filter="url(#b17)" /><g transform="rotate(0)"><path d="M84,-25 C86.2,-31.5 93.9,-18.2 97,-14 C100.1,-9.8 102.5,-4.7 102.5,0 C102.5,4.7 100.1,9.8 97,14 C93.9,18.2 86.2,31.5 84,25 C81.8,18.5 81.8,-18.5 84,-25 Z" fill="#a9bcf9" filter="url(#b12)" /></g><g transform="rotate(90)"><path d="M84,-25 C86.2,-31.5 93.9,-18.2 97,-14 C100.1,-9.8 102.5,-4.7 102.5,0 C102.5,4.7 100.1,9.8 97,14 C93.9,18.2 86.2,31.5 84,25 C81.8,18.5 81.8,-18.5 84,-25 Z" fill="#a9bcf9" filter="url(#b12)" /></g><g transform="rotate(180)"><path d="M84,-25 C86.2,-31.5 93.9,-18.2 97,-14 C100.1,-9.8 102.5,-4.7 102.5,0 C102.5,4.7 100.1,9.8 97,14 C93.9,18.2 86.2,31.5 84,25 C81.8,18.5 81.8,-18.5 84,-25 Z" fill="#a9bcf9" filter="url(#b12)" /></g><g transform="rotate(270)"><path d="M84,-25 C86.2,-31.5 93.9,-18.2 97,-14 C100.1,-9.8 102.5,-4.7 102.5,0 C102.5,4.7 100.1,9.8 97,14 C93.9,18.2 86.2,31.5 84,25 C81.8,18.5 81.8,-18.5 84,-25 Z" fill="#a9bcf9" filter="url(#b12)" /></g><path d="M103,0 C103,5.3 100.8,11.7 98,16 C95.2,20.3 93,19.3 86,26 C79,32.7 66,46 56,56 C46,66 32.7,79 26,86 C19.3,93 20.3,95.2 16,98 C11.7,100.8 5.3,103 0,103 C-5.3,103 -11.7,100.8 -16,98 C-20.3,95.2 -19.3,93 -26,86 C-32.7,79 -46,66 -56,56 C-66,46 -79,32.7 -86,26 C-93,19.3 -95.2,20.3 -98,16 C-100.8,11.7 -103,5.3 -103,0 C-103,-5.3 -100.8,-11.7 -98,-16 C-95.2,-20.3 -93,-19.3 -86,-26 C-79,-32.7 -66,-46 -56,-56 C-46,-66 -32.7,-79 -26,-86 C-19.3,-93 -20.3,-95.2 -16,-98 C-11.7,-100.8 -5.3,-103 -0,-103 C5.3,-103 11.7,-100.8 16,-98 C20.3,-95.2 19.3,-93 26,-86 C32.7,-79 46,-66 56,-56 C66,-46 79,-32.7 86,-26 C93,-19.3 95.2,-20.3 98,-16 C100.8,-11.7 103,-5.3 103,0 Z" fill="none" stroke="#ff5050" stroke-width="1.6" filter="url(#b10)"/><g transform="rotate(0)"><rect x="53" y="-22" width="31" height="44" fill="#fdf0f0" filter="url(#b12)"/></g><g transform="rotate(90)"><rect x="53" y="-22" width="31" height="44" fill="#fdf0f0" filter="url(#b12)"/></g><g transform="rotate(180)"><rect x="53" y="-22" width="31" height="44" fill="#fdf0f0" filter="url(#b12)"/></g><g transform="rotate(270)"><rect x="53" y="-22" width="31" height="44" fill="#fdf0f0" filter="url(#b12)"/></g><circle cx="0" cy="0" r="55" fill="#fbb6b6"  filter="url(#b12)" /><circle cx="0" cy="0" r="40" fill="#fba8a8"  filter="url(#b7)" /><g transform="rotate(45)"><path d="M40,-28 Q60,0 40,28" fill="none" stroke="#f88" stroke-width="3" filter="url(#b12)"/></g><g transform="rotate(135)"><path d="M40,-28 Q60,0 40,28" fill="none" stroke="#f88" stroke-width="3" filter="url(#b12)"/></g><g transform="rotate(225)"><path d="M40,-28 Q60,0 40,28" fill="none" stroke="#f88" stroke-width="3" filter="url(#b12)"/></g><g transform="rotate(315)"><path d="M40,-28 Q60,0 40,28" fill="none" stroke="#f88" stroke-width="3" filter="url(#b12)"/></g><circle cx="0" cy="0" r="8.5" fill="none" stroke="#ff2a2a" stroke-width="2.2" filter="url(#b16)" /><g transform="rotate(0)"><path d="M111,0 C111,-2.1 111.1,-4.8 112.5,-6.3 C113.9,-7.8 116.1,-8.8 119.3,-9 C122.5,-9.2 127.3,-8.5 131.7,-7.6 C136.1,-6.8 141.3,-5.3 145.5,-4 C149.7,-2.8 157,-1.3 157,0 C157,1.3 149.7,2.8 145.5,4 C141.3,5.3 136.1,6.8 131.7,7.6 C127.3,8.5 122.5,9.2 119.3,9 C116.1,8.8 113.9,7.8 112.5,6.3 C111.1,4.8 111,2.1 111,0 Z" fill="#fff" filter="url(#b2)" /><path d="M111,0 C111,-2.1 111.1,-4.8 112.5,-6.3 C113.9,-7.8 116.1,-8.8 119.3,-9 C122.5,-9.2 127.3,-8.5 131.7,-7.6 C136.1,-6.8 141.3,-5.3 145.5,-4 C149.7,-2.8 157,-1.3 157,0 C157,1.3 149.7,2.8 145.5,4 C141.3,5.3 136.1,6.8 131.7,7.6 C127.3,8.5 122.5,9.2 119.3,9 C116.1,8.8 113.9,7.8 112.5,6.3 C111.1,4.8 111,2.1 111,0 Z" fill="#dde6fc" filter="url(#b14)" /><path d="M111,0 C111,-2.1 111.1,-4.8 112.5,-6.3 C113.9,-7.8 116.1,-8.8 119.3,-9 C122.5,-9.2 127.3,-8.5 131.7,-7.6 C136.1,-6.8 141.3,-5.3 145.5,-4 C149.7,-2.8 157,-1.3 157,0 C157,1.3 149.7,2.8 145.5,4 C141.3,5.3 136.1,6.8 131.7,7.6 C127.3,8.5 122.5,9.2 119.3,9 C116.1,8.8 113.9,7.8 112.5,6.3 C111.1,4.8 111,2.1 111,0 Z" fill="none" stroke="#ff2a2a" stroke-width="2.4" filter="url(#b11)"/></g><g transform="rotate(90)"><path d="M111,0 C111,-2.1 111.1,-4.8 112.5,-6.3 C113.9,-7.8 116.1,-8.8 119.3,-9 C122.5,-9.2 127.3,-8.5 131.7,-7.6 C136.1,-6.8 141.3,-5.3 145.5,-4 C149.7,-2.8 157,-1.3 157,0 C157,1.3 149.7,2.8 145.5,4 C141.3,5.3 136.1,6.8 131.7,7.6 C127.3,8.5 122.5,9.2 119.3,9 C116.1,8.8 113.9,7.8 112.5,6.3 C111.1,4.8 111,2.1 111,0 Z" fill="#fff" filter="url(#b2)" /><path d="M111,0 C111,-2.1 111.1,-4.8 112.5,-6.3 C113.9,-7.8 116.1,-8.8 119.3,-9 C122.5,-9.2 127.3,-8.5 131.7,-7.6 C136.1,-6.8 141.3,-5.3 145.5,-4 C149.7,-2.8 157,-1.3 157,0 C157,1.3 149.7,2.8 145.5,4 C141.3,5.3 136.1,6.8 131.7,7.6 C127.3,8.5 122.5,9.2 119.3,9 C116.1,8.8 113.9,7.8 112.5,6.3 C111.1,4.8 111,2.1 111,0 Z" fill="#dde6fc" filter="url(#b14)" /><path d="M111,0 C111,-2.1 111.1,-4.8 112.5,-6.3 C113.9,-7.8 116.1,-8.8 119.3,-9 C122.5,-9.2 127.3,-8.5 131.7,-7.6 C136.1,-6.8 141.3,-5.3 145.5,-4 C149.7,-2.8 157,-1.3 157,0 C157,1.3 149.7,2.8 145.5,4 C141.3,5.3 136.1,6.8 131.7,7.6 C127.3,8.5 122.5,9.2 119.3,9 C116.1,8.8 113.9,7.8 112.5,6.3 C111.1,4.8 111,2.1 111,0 Z" fill="none" stroke="#ff2a2a" stroke-width="2.4" filter="url(#b11)"/></g><g transform="rotate(180)"><path d="M111,0 C111,-2.1 111.1,-4.8 112.5,-6.3 C113.9,-7.8 116.1,-8.8 119.3,-9 C122.5,-9.2 127.3,-8.5 131.7,-7.6 C136.1,-6.8 141.3,-5.3 145.5,-4 C149.7,-2.8 157,-1.3 157,0 C157,1.3 149.7,2.8 145.5,4 C141.3,5.3 136.1,6.8 131.7,7.6 C127.3,8.5 122.5,9.2 119.3,9 C116.1,8.8 113.9,7.8 112.5,6.3 C111.1,4.8 111,2.1 111,0 Z" fill="#fff" filter="url(#b2)" /><path d="M111,0 C111,-2.1 111.1,-4.8 112.5,-6.3 C113.9,-7.8 116.1,-8.8 119.3,-9 C122.5,-9.2 127.3,-8.5 131.7,-7.6 C136.1,-6.8 141.3,-5.3 145.5,-4 C149.7,-2.8 157,-1.3 157,0 C157,1.3 149.7,2.8 145.5,4 C141.3,5.3 136.1,6.8 131.7,7.6 C127.3,8.5 122.5,9.2 119.3,9 C116.1,8.8 113.9,7.8 112.5,6.3 C111.1,4.8 111,2.1 111,0 Z" fill="#dde6fc" filter="url(#b14)" /><path d="M111,0 C111,-2.1 111.1,-4.8 112.5,-6.3 C113.9,-7.8 116.1,-8.8 119.3,-9 C122.5,-9.2 127.3,-8.5 131.7,-7.6 C136.1,-6.8 141.3,-5.3 145.5,-4 C149.7,-2.8 157,-1.3 157,0 C157,1.3 149.7,2.8 145.5,4 C141.3,5.3 136.1,6.8 131.7,7.6 C127.3,8.5 122.5,9.2 119.3,9 C116.1,8.8 113.9,7.8 112.5,6.3 C111.1,4.8 111,2.1 111,0 Z" fill="none" stroke="#ff2a2a" stroke-width="2.4" filter="url(#b11)"/></g><g transform="rotate(270)"><path d="M111,0 C111,-2.1 111.1,-4.8 112.5,-6.3 C113.9,-7.8 116.1,-8.8 119.3,-9 C122.5,-9.2 127.3,-8.5 131.7,-7.6 C136.1,-6.8 141.3,-5.3 145.5,-4 C149.7,-2.8 157,-1.3 157,0 C157,1.3 149.7,2.8 145.5,4 C141.3,5.3 136.1,6.8 131.7,7.6 C127.3,8.5 122.5,9.2 119.3,9 C116.1,8.8 113.9,7.8 112.5,6.3 C111.1,4.8 111,2.1 111,0 Z" fill="#fff" filter="url(#b2)" /><path d="M111,0 C111,-2.1 111.1,-4.8 112.5,-6.3 C113.9,-7.8 116.1,-8.8 119.3,-9 C122.5,-9.2 127.3,-8.5 131.7,-7.6 C136.1,-6.8 141.3,-5.3 145.5,-4 C149.7,-2.8 157,-1.3 157,0 C157,1.3 149.7,2.8 145.5,4 C141.3,5.3 136.1,6.8 131.7,7.6 C127.3,8.5 122.5,9.2 119.3,9 C116.1,8.8 113.9,7.8 112.5,6.3 C111.1,4.8 111,2.1 111,0 Z" fill="#dde6fc" filter="url(#b14)" /><path d="M111,0 C111,-2.1 111.1,-4.8 112.5,-6.3 C113.9,-7.8 116.1,-8.8 119.3,-9 C122.5,-9.2 127.3,-8.5 131.7,-7.6 C136.1,-6.8 141.3,-5.3 145.5,-4 C149.7,-2.8 157,-1.3 157,0 C157,1.3 149.7,2.8 145.5,4 C141.3,5.3 136.1,6.8 131.7,7.6 C127.3,8.5 122.5,9.2 119.3,9 C116.1,8.8 113.9,7.8 112.5,6.3 C111.1,4.8 111,2.1 111,0 Z" fill="none" stroke="#ff2a2a" stroke-width="2.4" filter="url(#b11)"/></g></g></g><g clip-path="url(#c15)"><rect x="528.5" y="1273" width="340.5" height="339" fill="#456fff" /><g transform="translate(698.6,1442.5)"><path d="M120,0 C120,-13.3 116.3,-28.3 108,-40 C99.7,-51.7 81.3,-58.7 70,-70 C58.7,-81.3 51.7,-99.7 40,-108 C28.3,-116.3 13.3,-120 0,-120 C-13.3,-120 -28.3,-116.3 -40,-108 C-51.7,-99.7 -58.7,-81.3 -70,-70 C-81.3,-58.7 -99.7,-51.7 -108,-40 C-116.3,-28.3 -120,-13.3 -120,-0 C-120,13.3 -116.3,28.3 -108,40 C-99.7,51.7 -81.3,58.7 -70,70 C-58.7,81.3 -51.7,99.7 -40,108 C-28.3,116.3 -13.3,120 -0,120 C13.3,120 28.3,116.3 40,108 C51.7,99.7 58.7,81.3 70,70 C81.3,58.7 99.7,51.7 108,40 C116.3,28.3 120,13.3 120,0 Z" fill="#94adfd" filter="url(#b19)" opacity="0.55"/><g transform="rotate(0)"><path d="M60,-38 L200,-26.6 L200,26.6 L60,38 Z" fill="#94adfd" filter="url(#b20)" opacity="0.5"/></g><g transform="rotate(90)"><path d="M60,-38 L200,-26.6 L200,26.6 L60,38 Z" fill="#94adfd" filter="url(#b20)" opacity="0.5"/></g><g transform="rotate(180)"><path d="M60,-38 L200,-26.6 L200,26.6 L60,38 Z" fill="#94adfd" filter="url(#b20)" opacity="0.5"/></g><g transform="rotate(270)"><path d="M60,-38 L200,-26.6 L200,26.6 L60,38 Z" fill="#94adfd" filter="url(#b20)" opacity="0.5"/></g><g transform="rotate(0)"><path d="M60,-20 L175,-10 L175,10 L60,20 Z" fill="#fff" filter="url(#b5)" opacity="0.6"/></g><g transform="rotate(90)"><path d="M60,-20 L175,-10 L175,10 L60,20 Z" fill="#fff" filter="url(#b5)" opacity="0.6"/></g><g transform="rotate(180)"><path d="M60,-20 L175,-10 L175,10 L60,20 Z" fill="#fff" filter="url(#b5)" opacity="0.6"/></g><g transform="rotate(270)"><path d="M60,-20 L175,-10 L175,10 L60,20 Z" fill="#fff" filter="url(#b5)" opacity="0.6"/></g><path d="M97.5,0 C97.5,5.3 95.9,11.5 93,16 C90.1,20.5 86.2,20.3 80,27 C73.8,33.7 64.8,47.2 56,56 C47.2,64.8 33.7,73.8 27,80 C20.3,86.2 20.5,90.1 16,93 C11.5,95.9 5.3,97.5 0,97.5 C-5.3,97.5 -11.5,95.9 -16,93 C-20.5,90.1 -20.3,86.2 -27,80 C-33.7,73.8 -47.2,64.8 -56,56 C-64.8,47.2 -73.8,33.7 -80,27 C-86.2,20.3 -90.1,20.5 -93,16 C-95.9,11.5 -97.5,5.3 -97.5,0 C-97.5,-5.3 -95.9,-11.5 -93,-16 C-90.1,-20.5 -86.2,-20.3 -80,-27 C-73.8,-33.7 -64.8,-47.2 -56,-56 C-47.2,-64.8 -33.7,-73.8 -27,-80 C-20.3,-86.2 -20.5,-90.1 -16,-93 C-11.5,-95.9 -5.3,-97.5 -0,-97.5 C5.3,-97.5 11.5,-95.9 16,-93 C20.5,-90.1 20.3,-86.2 27,-80 C33.7,-73.8 47.2,-64.8 56,-56 C64.8,-47.2 73.8,-33.7 80,-27 C86.2,-20.3 90.1,-20.5 93,-16 C95.9,-11.5 97.5,-5.3 97.5,0 Z" fill="#fff" filter="url(#b9)" /><path d="M97.5,0 C97.5,5.3 95.9,11.5 93,16 C90.1,20.5 86.2,20.3 80,27 C73.8,33.7 64.8,47.2 56,56 C47.2,64.8 33.7,73.8 27,80 C20.3,86.2 20.5,90.1 16,93 C11.5,95.9 5.3,97.5 0,97.5 C-5.3,97.5 -11.5,95.9 -16,93 C-20.5,90.1 -20.3,86.2 -27,80 C-33.7,73.8 -47.2,64.8 -56,56 C-64.8,47.2 -73.8,33.7 -80,27 C-86.2,20.3 -90.1,20.5 -93,16 C-95.9,11.5 -97.5,5.3 -97.5,0 C-97.5,-5.3 -95.9,-11.5 -93,-16 C-90.1,-20.5 -86.2,-20.3 -80,-27 C-73.8,-33.7 -64.8,-47.2 -56,-56 C-47.2,-64.8 -33.7,-73.8 -27,-80 C-20.3,-86.2 -20.5,-90.1 -16,-93 C-11.5,-95.9 -5.3,-97.5 -0,-97.5 C5.3,-97.5 11.5,-95.9 16,-93 C20.5,-90.1 20.3,-86.2 27,-80 C33.7,-73.8 47.2,-64.8 56,-56 C64.8,-47.2 73.8,-33.7 80,-27 C86.2,-20.3 90.1,-20.5 93,-16 C95.9,-11.5 97.5,-5.3 97.5,0 Z" fill="#fcc6c6" filter="url(#b17)" /><g transform="rotate(0)"><path d="M78,-27 C80.3,-34 88.8,-19.5 92,-15 C95.2,-10.5 97,-5 97,0 C97,5 95.2,10.5 92,15 C88.8,19.5 80.3,34 78,27 C75.7,20 75.7,-20 78,-27 Z" fill="#b3c4f9" filter="url(#b12)" /></g><g transform="rotate(90)"><path d="M78,-27 C80.3,-34 88.8,-19.5 92,-15 C95.2,-10.5 97,-5 97,0 C97,5 95.2,10.5 92,15 C88.8,19.5 80.3,34 78,27 C75.7,20 75.7,-20 78,-27 Z" fill="#b3c4f9" filter="url(#b12)" /></g><g transform="rotate(180)"><path d="M78,-27 C80.3,-34 88.8,-19.5 92,-15 C95.2,-10.5 97,-5 97,0 C97,5 95.2,10.5 92,15 C88.8,19.5 80.3,34 78,27 C75.7,20 75.7,-20 78,-27 Z" fill="#b3c4f9" filter="url(#b12)" /></g><g transform="rotate(270)"><path d="M78,-27 C80.3,-34 88.8,-19.5 92,-15 C95.2,-10.5 97,-5 97,0 C97,5 95.2,10.5 92,15 C88.8,19.5 80.3,34 78,27 C75.7,20 75.7,-20 78,-27 Z" fill="#b3c4f9" filter="url(#b12)" /></g><path d="M97.5,0 C97.5,5.3 95.9,11.5 93,16 C90.1,20.5 86.2,20.3 80,27 C73.8,33.7 64.8,47.2 56,56 C47.2,64.8 33.7,73.8 27,80 C20.3,86.2 20.5,90.1 16,93 C11.5,95.9 5.3,97.5 0,97.5 C-5.3,97.5 -11.5,95.9 -16,93 C-20.5,90.1 -20.3,86.2 -27,80 C-33.7,73.8 -47.2,64.8 -56,56 C-64.8,47.2 -73.8,33.7 -80,27 C-86.2,20.3 -90.1,20.5 -93,16 C-95.9,11.5 -97.5,5.3 -97.5,0 C-97.5,-5.3 -95.9,-11.5 -93,-16 C-90.1,-20.5 -86.2,-20.3 -80,-27 C-73.8,-33.7 -64.8,-47.2 -56,-56 C-47.2,-64.8 -33.7,-73.8 -27,-80 C-20.3,-86.2 -20.5,-90.1 -16,-93 C-11.5,-95.9 -5.3,-97.5 -0,-97.5 C5.3,-97.5 11.5,-95.9 16,-93 C20.5,-90.1 20.3,-86.2 27,-80 C33.7,-73.8 47.2,-64.8 56,-56 C64.8,-47.2 73.8,-33.7 80,-27 C86.2,-20.3 90.1,-20.5 93,-16 C95.9,-11.5 97.5,-5.3 97.5,0 Z" fill="none" stroke="#ff2a2a" stroke-width="1.8" filter="url(#b11)"/><g transform="rotate(0)"><rect x="50" y="-21" width="28" height="42" fill="#fde0e0" filter="url(#b12)"/></g><g transform="rotate(90)"><rect x="50" y="-21" width="28" height="42" fill="#fde0e0" filter="url(#b12)"/></g><g transform="rotate(180)"><rect x="50" y="-21" width="28" height="42" fill="#fde0e0" filter="url(#b12)"/></g><g transform="rotate(270)"><rect x="50" y="-21" width="28" height="42" fill="#fde0e0" filter="url(#b12)"/></g><circle cx="0" cy="0" r="50" fill="#fbb0b0"  filter="url(#b13)" /><circle cx="0" cy="0" r="50" fill="none" stroke="#f88" stroke-width="1.5" filter="url(#b10)" /><rect x="-37" y="-37" width="74" height="74" rx="10" fill="#f97a7a"  filter="url(#b3)" /><rect x="-28" y="-28" width="56" height="56" rx="8" fill="#f86f6f"  filter="url(#b2)" /><ellipse cx="0" cy="0" rx="5" ry="3.5" transform="rotate(45)" fill="none" stroke="#ff2a2a" stroke-width="1.8" filter="url(#b16)"/><g transform="rotate(0)"><path d="M111,0 C111,-2.2 110.9,-5.1 112.5,-6.6 C114.1,-8.2 116.7,-9.3 120.4,-9.5 C124,-9.7 129.5,-8.9 134.4,-8.1 C139.3,-7.2 145.2,-5.6 150,-4.3 C154.8,-2.9 163,-1.4 163,0 C163,1.4 154.8,2.9 150,4.3 C145.2,5.6 139.3,7.2 134.4,8.1 C129.5,8.9 124,9.7 120.4,9.5 C116.7,9.3 114.1,8.2 112.5,6.6 C110.9,5.1 111,2.2 111,0 Z" fill="#fff" filter="url(#b2)" /><path d="M111,0 C111,-2.2 110.9,-5.1 112.5,-6.6 C114.1,-8.2 116.7,-9.3 120.4,-9.5 C124,-9.7 129.5,-8.9 134.4,-8.1 C139.3,-7.2 145.2,-5.6 150,-4.3 C154.8,-2.9 163,-1.4 163,0 C163,1.4 154.8,2.9 150,4.3 C145.2,5.6 139.3,7.2 134.4,8.1 C129.5,8.9 124,9.7 120.4,9.5 C116.7,9.3 114.1,8.2 112.5,6.6 C110.9,5.1 111,2.2 111,0 Z" fill="#dde6fc" filter="url(#b14)" /><path d="M111,0 C111,-2.2 110.9,-5.1 112.5,-6.6 C114.1,-8.2 116.7,-9.3 120.4,-9.5 C124,-9.7 129.5,-8.9 134.4,-8.1 C139.3,-7.2 145.2,-5.6 150,-4.3 C154.8,-2.9 163,-1.4 163,0 C163,1.4 154.8,2.9 150,4.3 C145.2,5.6 139.3,7.2 134.4,8.1 C129.5,8.9 124,9.7 120.4,9.5 C116.7,9.3 114.1,8.2 112.5,6.6 C110.9,5.1 111,2.2 111,0 Z" fill="none" stroke="#ff2a2a" stroke-width="2.4" filter="url(#b11)"/></g><g transform="rotate(90)"><path d="M111,0 C111,-2.2 110.9,-5.1 112.5,-6.6 C114.1,-8.2 116.7,-9.3 120.4,-9.5 C124,-9.7 129.5,-8.9 134.4,-8.1 C139.3,-7.2 145.2,-5.6 150,-4.3 C154.8,-2.9 163,-1.4 163,0 C163,1.4 154.8,2.9 150,4.3 C145.2,5.6 139.3,7.2 134.4,8.1 C129.5,8.9 124,9.7 120.4,9.5 C116.7,9.3 114.1,8.2 112.5,6.6 C110.9,5.1 111,2.2 111,0 Z" fill="#fff" filter="url(#b2)" /><path d="M111,0 C111,-2.2 110.9,-5.1 112.5,-6.6 C114.1,-8.2 116.7,-9.3 120.4,-9.5 C124,-9.7 129.5,-8.9 134.4,-8.1 C139.3,-7.2 145.2,-5.6 150,-4.3 C154.8,-2.9 163,-1.4 163,0 C163,1.4 154.8,2.9 150,4.3 C145.2,5.6 139.3,7.2 134.4,8.1 C129.5,8.9 124,9.7 120.4,9.5 C116.7,9.3 114.1,8.2 112.5,6.6 C110.9,5.1 111,2.2 111,0 Z" fill="#dde6fc" filter="url(#b14)" /><path d="M111,0 C111,-2.2 110.9,-5.1 112.5,-6.6 C114.1,-8.2 116.7,-9.3 120.4,-9.5 C124,-9.7 129.5,-8.9 134.4,-8.1 C139.3,-7.2 145.2,-5.6 150,-4.3 C154.8,-2.9 163,-1.4 163,0 C163,1.4 154.8,2.9 150,4.3 C145.2,5.6 139.3,7.2 134.4,8.1 C129.5,8.9 124,9.7 120.4,9.5 C116.7,9.3 114.1,8.2 112.5,6.6 C110.9,5.1 111,2.2 111,0 Z" fill="none" stroke="#ff2a2a" stroke-width="2.4" filter="url(#b11)"/></g><g transform="rotate(180)"><path d="M111,0 C111,-2.2 110.9,-5.1 112.5,-6.6 C114.1,-8.2 116.7,-9.3 120.4,-9.5 C124,-9.7 129.5,-8.9 134.4,-8.1 C139.3,-7.2 145.2,-5.6 150,-4.3 C154.8,-2.9 163,-1.4 163,0 C163,1.4 154.8,2.9 150,4.3 C145.2,5.6 139.3,7.2 134.4,8.1 C129.5,8.9 124,9.7 120.4,9.5 C116.7,9.3 114.1,8.2 112.5,6.6 C110.9,5.1 111,2.2 111,0 Z" fill="#fff" filter="url(#b2)" /><path d="M111,0 C111,-2.2 110.9,-5.1 112.5,-6.6 C114.1,-8.2 116.7,-9.3 120.4,-9.5 C124,-9.7 129.5,-8.9 134.4,-8.1 C139.3,-7.2 145.2,-5.6 150,-4.3 C154.8,-2.9 163,-1.4 163,0 C163,1.4 154.8,2.9 150,4.3 C145.2,5.6 139.3,7.2 134.4,8.1 C129.5,8.9 124,9.7 120.4,9.5 C116.7,9.3 114.1,8.2 112.5,6.6 C110.9,5.1 111,2.2 111,0 Z" fill="#dde6fc" filter="url(#b14)" /><path d="M111,0 C111,-2.2 110.9,-5.1 112.5,-6.6 C114.1,-8.2 116.7,-9.3 120.4,-9.5 C124,-9.7 129.5,-8.9 134.4,-8.1 C139.3,-7.2 145.2,-5.6 150,-4.3 C154.8,-2.9 163,-1.4 163,0 C163,1.4 154.8,2.9 150,4.3 C145.2,5.6 139.3,7.2 134.4,8.1 C129.5,8.9 124,9.7 120.4,9.5 C116.7,9.3 114.1,8.2 112.5,6.6 C110.9,5.1 111,2.2 111,0 Z" fill="none" stroke="#ff2a2a" stroke-width="2.4" filter="url(#b11)"/></g><g transform="rotate(270)"><path d="M111,0 C111,-2.2 110.9,-5.1 112.5,-6.6 C114.1,-8.2 116.7,-9.3 120.4,-9.5 C124,-9.7 129.5,-8.9 134.4,-8.1 C139.3,-7.2 145.2,-5.6 150,-4.3 C154.8,-2.9 163,-1.4 163,0 C163,1.4 154.8,2.9 150,4.3 C145.2,5.6 139.3,7.2 134.4,8.1 C129.5,8.9 124,9.7 120.4,9.5 C116.7,9.3 114.1,8.2 112.5,6.6 C110.9,5.1 111,2.2 111,0 Z" fill="#fff" filter="url(#b2)" /><path d="M111,0 C111,-2.2 110.9,-5.1 112.5,-6.6 C114.1,-8.2 116.7,-9.3 120.4,-9.5 C124,-9.7 129.5,-8.9 134.4,-8.1 C139.3,-7.2 145.2,-5.6 150,-4.3 C154.8,-2.9 163,-1.4 163,0 C163,1.4 154.8,2.9 150,4.3 C145.2,5.6 139.3,7.2 134.4,8.1 C129.5,8.9 124,9.7 120.4,9.5 C116.7,9.3 114.1,8.2 112.5,6.6 C110.9,5.1 111,2.2 111,0 Z" fill="#dde6fc" filter="url(#b14)" /><path d="M111,0 C111,-2.2 110.9,-5.1 112.5,-6.6 C114.1,-8.2 116.7,-9.3 120.4,-9.5 C124,-9.7 129.5,-8.9 134.4,-8.1 C139.3,-7.2 145.2,-5.6 150,-4.3 C154.8,-2.9 163,-1.4 163,0 C163,1.4 154.8,2.9 150,4.3 C145.2,5.6 139.3,7.2 134.4,8.1 C129.5,8.9 124,9.7 120.4,9.5 C116.7,9.3 114.1,8.2 112.5,6.6 C110.9,5.1 111,2.2 111,0 Z" fill="none" stroke="#ff2a2a" stroke-width="2.4" filter="url(#b11)"/></g></g></g><g clip-path="url(#c16)"><rect x="968" y="1273" width="339" height="338" fill="#456fff" /><g transform="translate(1138,1442)"><path d="M-122,0 C-122,-26.7 -102,-66.7 -70,-80 C-38,-93.3 38,-93.3 70,-80 C102,-66.7 122,-26.7 122,0 C122,26.7 102,66.7 70,80 C38,93.3 -38,93.3 -70,80 C-102,66.7 -122,26.7 -122,0 Z" fill="#94adfd" filter="url(#b19)" opacity="0.55"/><g transform="rotate(90)"><path d="M40,-56 L200,-39.2 L200,39.2 L40,56 Z" fill="#94adfd" filter="url(#b20)" opacity="0.5"/></g><g transform="rotate(270)"><path d="M40,-56 L200,-39.2 L200,39.2 L40,56 Z" fill="#94adfd" filter="url(#b20)" opacity="0.5"/></g><g transform="rotate(0)"><path d="M60,-36 L200,-25.2 L200,25.2 L60,36 Z" fill="#94adfd" filter="url(#b20)" opacity="0.5"/></g><g transform="rotate(180)"><path d="M60,-36 L200,-25.2 L200,25.2 L60,36 Z" fill="#94adfd" filter="url(#b20)" opacity="0.5"/></g><g transform="rotate(0)"><path d="M60,-20 L175,-10 L175,10 L60,20 Z" fill="#fff" filter="url(#b5)" opacity="0.6"/></g><g transform="rotate(180)"><path d="M60,-20 L175,-10 L175,10 L60,20 Z" fill="#fff" filter="url(#b5)" opacity="0.6"/></g><g transform="rotate(0)"><path d="M-35,-68 C-37.6,-71.2 -35.8,-77.8 -35.5,-85 C-35.2,-92.2 -34.9,-100.2 -33,-111 C-31.1,-121.8 -27.8,-140.3 -24,-150 C-20.2,-159.7 -13.3,-164.3 -10,-169 C-6.7,-173.7 -6.3,-176.5 -4,-178 C-1.7,-179.5 1.7,-179.5 4,-178 C6.3,-176.5 6.7,-173.7 10,-169 C13.3,-164.3 20.2,-159.7 24,-150 C27.8,-140.3 31.1,-121.8 33,-111 C34.9,-100.2 35.2,-92.2 35.5,-85 C35.8,-77.8 37.6,-71.2 35,-68 C32.4,-64.8 25.8,-66.5 20,-66 C14.2,-65.5 6.7,-65 0,-65 C-6.7,-65 -14.2,-65.5 -20,-66 C-25.8,-66.5 -32.4,-64.8 -35,-68 Z" fill="#fff" filter="url(#b1)" /><path d="M-35,-68 C-37.6,-71.2 -35.8,-77.8 -35.5,-85 C-35.2,-92.2 -34.9,-100.2 -33,-111 C-31.1,-121.8 -27.8,-140.3 -24,-150 C-20.2,-159.7 -13.3,-164.3 -10,-169 C-6.7,-173.7 -6.3,-176.5 -4,-178 C-1.7,-179.5 1.7,-179.5 4,-178 C6.3,-176.5 6.7,-173.7 10,-169 C13.3,-164.3 20.2,-159.7 24,-150 C27.8,-140.3 31.1,-121.8 33,-111 C34.9,-100.2 35.2,-92.2 35.5,-85 C35.8,-77.8 37.6,-71.2 35,-68 C32.4,-64.8 25.8,-66.5 20,-66 C14.2,-65.5 6.7,-65 0,-65 C-6.7,-65 -14.2,-65.5 -20,-66 C-25.8,-66.5 -32.4,-64.8 -35,-68 Z" fill="#fcdada" filter="url(#b17)" /><path d="M-24,-80 C-31.7,-86.7 -23.7,-106.7 -22,-120 C-20.3,-133.3 -20,-153.3 -14,-160 C-8,-166.7 8,-166.7 14,-160 C20,-153.3 20.3,-133.3 22,-120 C23.7,-106.7 31.7,-86.7 24,-80 C16.3,-73.3 -16.3,-73.3 -24,-80 Z" fill="#fdecec" filter="url(#b2)" /><path d="M-34,-70 C-38.2,-72.2 -29,-75 -25,-80 C-21,-85 -14.2,-95.3 -10,-100 C-5.8,-104.7 -3.3,-108 0,-108 C3.3,-108 5.8,-104.7 10,-100 C14.2,-95.3 21,-85 25,-80 C29,-75 38.2,-72.2 34,-70 C29.8,-67.8 11.3,-67 0,-67 C-11.3,-67 -29.8,-67.8 -34,-70 Z" fill="#fbb6b6" filter="url(#b12)" /></g><g transform="rotate(180)"><path d="M-35,-68 C-37.6,-71.2 -35.8,-77.8 -35.5,-85 C-35.2,-92.2 -34.9,-100.2 -33,-111 C-31.1,-121.8 -27.8,-140.3 -24,-150 C-20.2,-159.7 -13.3,-164.3 -10,-169 C-6.7,-173.7 -6.3,-176.5 -4,-178 C-1.7,-179.5 1.7,-179.5 4,-178 C6.3,-176.5 6.7,-173.7 10,-169 C13.3,-164.3 20.2,-159.7 24,-150 C27.8,-140.3 31.1,-121.8 33,-111 C34.9,-100.2 35.2,-92.2 35.5,-85 C35.8,-77.8 37.6,-71.2 35,-68 C32.4,-64.8 25.8,-66.5 20,-66 C14.2,-65.5 6.7,-65 0,-65 C-6.7,-65 -14.2,-65.5 -20,-66 C-25.8,-66.5 -32.4,-64.8 -35,-68 Z" fill="#fff" filter="url(#b1)" /><path d="M-35,-68 C-37.6,-71.2 -35.8,-77.8 -35.5,-85 C-35.2,-92.2 -34.9,-100.2 -33,-111 C-31.1,-121.8 -27.8,-140.3 -24,-150 C-20.2,-159.7 -13.3,-164.3 -10,-169 C-6.7,-173.7 -6.3,-176.5 -4,-178 C-1.7,-179.5 1.7,-179.5 4,-178 C6.3,-176.5 6.7,-173.7 10,-169 C13.3,-164.3 20.2,-159.7 24,-150 C27.8,-140.3 31.1,-121.8 33,-111 C34.9,-100.2 35.2,-92.2 35.5,-85 C35.8,-77.8 37.6,-71.2 35,-68 C32.4,-64.8 25.8,-66.5 20,-66 C14.2,-65.5 6.7,-65 0,-65 C-6.7,-65 -14.2,-65.5 -20,-66 C-25.8,-66.5 -32.4,-64.8 -35,-68 Z" fill="#fcdada" filter="url(#b17)" /><path d="M-24,-80 C-31.7,-86.7 -23.7,-106.7 -22,-120 C-20.3,-133.3 -20,-153.3 -14,-160 C-8,-166.7 8,-166.7 14,-160 C20,-153.3 20.3,-133.3 22,-120 C23.7,-106.7 31.7,-86.7 24,-80 C16.3,-73.3 -16.3,-73.3 -24,-80 Z" fill="#fdecec" filter="url(#b2)" /><path d="M-34,-70 C-38.2,-72.2 -29,-75 -25,-80 C-21,-85 -14.2,-95.3 -10,-100 C-5.8,-104.7 -3.3,-108 0,-108 C3.3,-108 5.8,-104.7 10,-100 C14.2,-95.3 21,-85 25,-80 C29,-75 38.2,-72.2 34,-70 C29.8,-67.8 11.3,-67 0,-67 C-11.3,-67 -29.8,-67.8 -34,-70 Z" fill="#fbb6b6" filter="url(#b12)" /></g><path d="M-100,0 C-100,-7.3 -91.7,-14.5 -85,-22 C-78.3,-29.5 -68.2,-38.2 -60,-45 C-51.8,-51.8 -46,-59.8 -36,-63 C-26,-66.2 -12,-64 0,-64 C12,-64 26,-66.2 36,-63 C46,-59.8 51.8,-51.8 60,-45 C68.2,-38.2 78.3,-29.5 85,-22 C91.7,-14.5 100,-7.3 100,0 C100,7.3 91.7,14.5 85,22 C78.3,29.5 68.2,38.2 60,45 C51.8,51.8 46,59.8 36,63 C26,66.2 12,64 0,64 C-12,64 -26,66.2 -36,63 C-46,59.8 -51.8,51.8 -60,45 C-68.2,38.2 -78.3,29.5 -85,22 C-91.7,14.5 -100,7.3 -100,0 Z" fill="#fff" filter="url(#b9)" /><path d="M-100,0 C-100,-7.3 -91.7,-14.5 -85,-22 C-78.3,-29.5 -68.2,-38.2 -60,-45 C-51.8,-51.8 -46,-59.8 -36,-63 C-26,-66.2 -12,-64 0,-64 C12,-64 26,-66.2 36,-63 C46,-59.8 51.8,-51.8 60,-45 C68.2,-38.2 78.3,-29.5 85,-22 C91.7,-14.5 100,-7.3 100,0 C100,7.3 91.7,14.5 85,22 C78.3,29.5 68.2,38.2 60,45 C51.8,51.8 46,59.8 36,63 C26,66.2 12,64 0,64 C-12,64 -26,66.2 -36,63 C-46,59.8 -51.8,51.8 -60,45 C-68.2,38.2 -78.3,29.5 -85,22 C-91.7,14.5 -100,7.3 -100,0 Z" fill="#fcc2c2" filter="url(#b17)" /><g transform="scale(1,1)"><path d="M75,-28 C77,-30.3 86.5,-18.7 90,-14 C93.5,-9.3 96,-4.7 96,0 C96,4.7 93.5,9.3 90,14 C86.5,18.7 77,30.3 75,28 C73,25.7 78,9.3 78,0 C78,-9.3 73,-25.7 75,-28 Z" fill="#c3d1fa" filter="url(#b12)" /><rect x="52" y="-26" width="22" height="52" fill="#fde4e4" filter="url(#b3)"/></g><g transform="scale(-1,1)"><path d="M75,-28 C77,-30.3 86.5,-18.7 90,-14 C93.5,-9.3 96,-4.7 96,0 C96,4.7 93.5,9.3 90,14 C86.5,18.7 77,30.3 75,28 C73,25.7 78,9.3 78,0 C78,-9.3 73,-25.7 75,-28 Z" fill="#c3d1fa" filter="url(#b12)" /><rect x="52" y="-26" width="22" height="52" fill="#fde4e4" filter="url(#b3)"/></g><path d="M-100,0 C-100,-7.3 -91.7,-14.5 -85,-22 C-78.3,-29.5 -68.2,-38.2 -60,-45 C-51.8,-51.8 -46,-59.8 -36,-63 C-26,-66.2 -12,-64 0,-64 C12,-64 26,-66.2 36,-63 C46,-59.8 51.8,-51.8 60,-45 C68.2,-38.2 78.3,-29.5 85,-22 C91.7,-14.5 100,-7.3 100,0 C100,7.3 91.7,14.5 85,22 C78.3,29.5 68.2,38.2 60,45 C51.8,51.8 46,59.8 36,63 C26,66.2 12,64 0,64 C-12,64 -26,66.2 -36,63 C-46,59.8 -51.8,51.8 -60,45 C-68.2,38.2 -78.3,29.5 -85,22 C-91.7,14.5 -100,7.3 -100,0 Z" fill="none" stroke="#ff2a2a" stroke-width="1.8" filter="url(#b11)"/><rect x="-38" y="-62" width="76" height="124" rx="14" fill="#fa9d9d"  filter="url(#b12)" /><rect x="-35" y="59" width="70" height="6" fill="#fff" filter="url(#b13)"/><rect x="-35" y="-65" width="70" height="6" fill="#fff" filter="url(#b13)"/><ellipse cx="0" cy="0" rx="30" ry="40" fill="#f99"  filter="url(#b1)" /><circle cx="0" cy="-32" r="11" fill="#f76b6b"  filter="url(#b1)" /><circle cx="0" cy="32" r="11" fill="#f76b6b"  filter="url(#b1)" /><circle cx="-18" cy="0" r="11" fill="#f76b6b"  filter="url(#b1)" /><circle cx="18" cy="0" r="11" fill="#f76b6b"  filter="url(#b1)" /><circle cx="0" cy="0" r="8" fill="#f77"  filter="url(#b3)" /><g transform="rotate(0)"><path d="M112,0 C112,-2.3 111.9,-5.3 113.5,-7 C115.1,-8.7 117.7,-9.8 121.4,-10 C125,-10.2 130.5,-9.4 135.4,-8.5 C140.3,-7.6 146.2,-5.9 151,-4.5 C155.8,-3.1 164,-1.5 164,0 C164,1.5 155.8,3.1 151,4.5 C146.2,5.9 140.3,7.6 135.4,8.5 C130.5,9.4 125,10.2 121.4,10 C117.7,9.8 115.1,8.7 113.5,7 C111.9,5.3 112,2.3 112,0 Z" fill="#fff" filter="url(#b2)" /><path d="M112,0 C112,-2.3 111.9,-5.3 113.5,-7 C115.1,-8.7 117.7,-9.8 121.4,-10 C125,-10.2 130.5,-9.4 135.4,-8.5 C140.3,-7.6 146.2,-5.9 151,-4.5 C155.8,-3.1 164,-1.5 164,0 C164,1.5 155.8,3.1 151,4.5 C146.2,5.9 140.3,7.6 135.4,8.5 C130.5,9.4 125,10.2 121.4,10 C117.7,9.8 115.1,8.7 113.5,7 C111.9,5.3 112,2.3 112,0 Z" fill="#dde6fc" filter="url(#b14)" /><path d="M112,0 C112,-2.3 111.9,-5.3 113.5,-7 C115.1,-8.7 117.7,-9.8 121.4,-10 C125,-10.2 130.5,-9.4 135.4,-8.5 C140.3,-7.6 146.2,-5.9 151,-4.5 C155.8,-3.1 164,-1.5 164,0 C164,1.5 155.8,3.1 151,4.5 C146.2,5.9 140.3,7.6 135.4,8.5 C130.5,9.4 125,10.2 121.4,10 C117.7,9.8 115.1,8.7 113.5,7 C111.9,5.3 112,2.3 112,0 Z" fill="none" stroke="#ff2a2a" stroke-width="2.4" filter="url(#b11)"/></g><g transform="rotate(180)"><path d="M112,0 C112,-2.3 111.9,-5.3 113.5,-7 C115.1,-8.7 117.7,-9.8 121.4,-10 C125,-10.2 130.5,-9.4 135.4,-8.5 C140.3,-7.6 146.2,-5.9 151,-4.5 C155.8,-3.1 164,-1.5 164,0 C164,1.5 155.8,3.1 151,4.5 C146.2,5.9 140.3,7.6 135.4,8.5 C130.5,9.4 125,10.2 121.4,10 C117.7,9.8 115.1,8.7 113.5,7 C111.9,5.3 112,2.3 112,0 Z" fill="#fff" filter="url(#b2)" /><path d="M112,0 C112,-2.3 111.9,-5.3 113.5,-7 C115.1,-8.7 117.7,-9.8 121.4,-10 C125,-10.2 130.5,-9.4 135.4,-8.5 C140.3,-7.6 146.2,-5.9 151,-4.5 C155.8,-3.1 164,-1.5 164,0 C164,1.5 155.8,3.1 151,4.5 C146.2,5.9 140.3,7.6 135.4,8.5 C130.5,9.4 125,10.2 121.4,10 C117.7,9.8 115.1,8.7 113.5,7 C111.9,5.3 112,2.3 112,0 Z" fill="#dde6fc" filter="url(#b14)" /><path d="M112,0 C112,-2.3 111.9,-5.3 113.5,-7 C115.1,-8.7 117.7,-9.8 121.4,-10 C125,-10.2 130.5,-9.4 135.4,-8.5 C140.3,-7.6 146.2,-5.9 151,-4.5 C155.8,-3.1 164,-1.5 164,0 C164,1.5 155.8,3.1 151,4.5 C146.2,5.9 140.3,7.6 135.4,8.5 C130.5,9.4 125,10.2 121.4,10 C117.7,9.8 115.1,8.7 113.5,7 C111.9,5.3 112,2.3 112,0 Z" fill="none" stroke="#ff2a2a" stroke-width="2.4" filter="url(#b11)"/></g></g></g><g clip-path="url(#c17)"><rect x="1407" y="1271" width="340" height="338" fill="#456fff" /><g transform="translate(1576,1439.5)"><ellipse cx="0" cy="0" rx="215" ry="64" fill="#94adfd"  filter="url(#b20)" opacity="0.5"/><g transform="rotate(90)"><path d="M40,-34 L200,-23.8 L200,23.8 L40,34 Z" fill="#94adfd" filter="url(#b20)" opacity="0.5"/></g><g transform="rotate(270)"><path d="M40,-34 L200,-23.8 L200,23.8 L40,34 Z" fill="#94adfd" filter="url(#b20)" opacity="0.5"/></g><path d="M-11,-180 C-6.8,-193.3 6.8,-193.3 11,-180 C15.2,-166.7 13.5,-146.7 14,-100 C14.5,-53.3 14.5,53.3 14,100 C13.5,146.7 15.2,166.7 11,180 C6.8,193.3 -6.8,193.3 -11,180 C-15.2,166.7 -13.5,146.7 -14,100 C-14.5,53.3 -14.5,-53.3 -14,-100 C-13.5,-146.7 -15.2,-166.7 -11,-180 Z" fill="#fff" filter="url(#b5)" opacity="0.9"/><ellipse cx="0" cy="0" rx="198" ry="43" fill="#fff"  filter="url(#b4)" /><ellipse cx="0" cy="0" rx="195" ry="39.5" fill="#fff"  filter="url(#b17)" /><ellipse cx="0" cy="0" rx="150" ry="36" fill="#fde6e6"  filter="url(#b0)" /><path d="M-50,-40 C-59.7,-49.3 -16.3,-86.2 -8,-96 C0.3,-105.8 -2.7,-98.5 0,-98.5 C2.7,-98.5 -0.3,-105.8 8,-96 C16.3,-86.2 59.7,-49.3 50,-40 C40.3,-30.7 -40.3,-30.7 -50,-40 Z" fill="#fff" filter="url(#b9)" /><path d="M-52,-40 C-62,-48.8 -16.7,-83.8 -8,-93 C0.7,-102.2 -2.7,-95 0,-95 C2.7,-95 -0.7,-102.2 8,-93 C16.7,-83.8 62,-48.8 52,-40 C42,-31.2 -42,-31.2 -52,-40 Z" fill="#b9c9fa" filter="url(#b12)" /><path d="M-62,-36 C-53,-46 -18.3,-85.6 -8,-96 C2.3,-106.4 -2.7,-98.5 0,-98.5 C2.7,-98.5 -2.3,-106.4 8,-96 C18.3,-85.6 53,-46 62,-36" fill="none" stroke="#fff" stroke-width="6" stroke-linecap="round" stroke-linejoin="round" filter="url(#b12)" /><path d="M-62,-36 C-53,-46 -18.3,-85.6 -8,-96 C2.3,-106.4 -2.7,-98.5 0,-98.5 C2.7,-98.5 -2.3,-106.4 8,-96 C18.3,-85.6 53,-46 62,-36" fill="none" stroke="#ff2a2a" stroke-width="2.3" stroke-linecap="round" stroke-linejoin="round" filter="url(#b11)" /><path d="M-50,40 C-59.7,49.3 -16.3,86.2 -8,96 C0.3,105.8 -2.7,98.5 0,98.5 C2.7,98.5 -0.3,105.8 8,96 C16.3,86.2 59.7,49.3 50,40 C40.3,30.7 -40.3,30.7 -50,40 Z" fill="#fff" filter="url(#b9)" /><path d="M-52,40 C-62,48.8 -16.7,83.8 -8,93 C0.7,102.2 -2.7,95 0,95 C2.7,95 -0.7,102.2 8,93 C16.7,83.8 62,48.8 52,40 C42,31.2 -42,31.2 -52,40 Z" fill="#b9c9fa" filter="url(#b12)" /><path d="M-62,36 C-53,46 -18.3,85.6 -8,96 C2.3,106.4 -2.7,98.5 0,98.5 C2.7,98.5 -2.3,106.4 8,96 C18.3,85.6 53,46 62,36" fill="none" stroke="#fff" stroke-width="6" stroke-linecap="round" stroke-linejoin="round" filter="url(#b12)" /><path d="M-62,36 C-53,46 -18.3,85.6 -8,96 C2.3,106.4 -2.7,98.5 0,98.5 C2.7,98.5 -2.3,106.4 8,96 C18.3,85.6 53,46 62,36" fill="none" stroke="#ff2a2a" stroke-width="2.3" stroke-linecap="round" stroke-linejoin="round" filter="url(#b11)" /><path d="M-111,0 L-57,-40 L57,-40 L111,0 L57,40 L-57,40 Z" fill="#fcc6c6" filter="url(#b12)" /><ellipse cx="0" cy="-48" rx="46" ry="22" fill="#fcd2d2"  filter="url(#b12)" /><ellipse cx="0" cy="48" rx="46" ry="22" fill="#fcd2d2"  filter="url(#b12)" /><circle cx="0" cy="0" r="51" fill="#fa9f9f"  filter="url(#b12)" /><ellipse cx="0" cy="0" rx="30" ry="46" fill="#f99393"  filter="url(#b2)" /><g transform="scale(1,1)"><path d="M-1.5,-172 C-2.8,-168.2 -5.5,-156.7 -6.5,-149 C-7.5,-141.3 -7.8,-131.5 -7.5,-126 C-7.2,-120.5 -5.8,-118 -4.5,-116 C-3.2,-114 -1.5,-114 0,-114 C1.5,-114 3.2,-114 4.5,-116 C5.8,-118 7.2,-120.5 7.5,-126 C7.8,-131.5 7.5,-141.3 6.5,-149 C5.5,-156.7 2.8,-168.2 1.5,-172 C0.2,-175.8 -0.2,-175.8 -1.5,-172 Z" fill="#fff" filter="url(#b2)" /><path d="M-1.5,-172 C-2.8,-168.2 -5.5,-156.7 -6.5,-149 C-7.5,-141.3 -7.8,-131.5 -7.5,-126 C-7.2,-120.5 -5.8,-118 -4.5,-116 C-3.2,-114 -1.5,-114 0,-114 C1.5,-114 3.2,-114 4.5,-116 C5.8,-118 7.2,-120.5 7.5,-126 C7.8,-131.5 7.5,-141.3 6.5,-149 C5.5,-156.7 2.8,-168.2 1.5,-172 C0.2,-175.8 -0.2,-175.8 -1.5,-172 Z" fill="#e9eefd" filter="url(#b17)" /><path d="M-1.5,-172 C-2.3,-168.2 -5.5,-156.7 -6.5,-149 C-7.5,-141.3 -7.8,-131.5 -7.5,-126 C-7.2,-120.5 -5.8,-118 -4.5,-116 C-3.2,-114 -1.5,-114 0,-114 C1.5,-114 3.2,-114 4.5,-116 C5.8,-118 7.2,-120.5 7.5,-126 C7.8,-131.5 7.5,-141.3 6.5,-149 C5.5,-156.7 2.3,-168.2 1.5,-172" fill="none" stroke="#ff2a2a" stroke-width="2.2" stroke-linecap="round" stroke-linejoin="round" filter="url(#b11)" /></g><g transform="scale(1,-1)"><path d="M-1.5,-172 C-2.8,-168.2 -5.5,-156.7 -6.5,-149 C-7.5,-141.3 -7.8,-131.5 -7.5,-126 C-7.2,-120.5 -5.8,-118 -4.5,-116 C-3.2,-114 -1.5,-114 0,-114 C1.5,-114 3.2,-114 4.5,-116 C5.8,-118 7.2,-120.5 7.5,-126 C7.8,-131.5 7.5,-141.3 6.5,-149 C5.5,-156.7 2.8,-168.2 1.5,-172 C0.2,-175.8 -0.2,-175.8 -1.5,-172 Z" fill="#fff" filter="url(#b2)" /><path d="M-1.5,-172 C-2.8,-168.2 -5.5,-156.7 -6.5,-149 C-7.5,-141.3 -7.8,-131.5 -7.5,-126 C-7.2,-120.5 -5.8,-118 -4.5,-116 C-3.2,-114 -1.5,-114 0,-114 C1.5,-114 3.2,-114 4.5,-116 C5.8,-118 7.2,-120.5 7.5,-126 C7.8,-131.5 7.5,-141.3 6.5,-149 C5.5,-156.7 2.8,-168.2 1.5,-172 C0.2,-175.8 -0.2,-175.8 -1.5,-172 Z" fill="#e9eefd" filter="url(#b17)" /><path d="M-1.5,-172 C-2.3,-168.2 -5.5,-156.7 -6.5,-149 C-7.5,-141.3 -7.8,-131.5 -7.5,-126 C-7.2,-120.5 -5.8,-118 -4.5,-116 C-3.2,-114 -1.5,-114 0,-114 C1.5,-114 3.2,-114 4.5,-116 C5.8,-118 7.2,-120.5 7.5,-126 C7.8,-131.5 7.5,-141.3 6.5,-149 C5.5,-156.7 2.3,-168.2 1.5,-172" fill="none" stroke="#ff2a2a" stroke-width="2.2" stroke-linecap="round" stroke-linejoin="round" filter="url(#b11)" /></g></g></g><g clip-path="url(#c18)"><rect x="528.7" y="1678" width="339.8" height="339" fill="#456fff" /><g transform="translate(698.1,1848)"><path d="M120,0 C120,-15 108.3,-33.3 100,-45 C91.7,-56.7 79.2,-60.8 70,-70 C60.8,-79.2 56.7,-91.7 45,-100 C33.3,-108.3 15,-120 0,-120 C-15,-120 -33.3,-108.3 -45,-100 C-56.7,-91.7 -60.8,-79.2 -70,-70 C-79.2,-60.8 -91.7,-56.7 -100,-45 C-108.3,-33.3 -120,-15 -120,-0 C-120,15 -108.3,33.3 -100,45 C-91.7,56.7 -79.2,60.8 -70,70 C-60.8,79.2 -56.7,91.7 -45,100 C-33.3,108.3 -15,120 -0,120 C15,120 33.3,108.3 45,100 C56.7,91.7 60.8,79.2 70,70 C79.2,60.8 91.7,56.7 100,45 C108.3,33.3 120,15 120,0 Z" fill="#94adfd" filter="url(#b19)" opacity="0.55"/><g transform="rotate(0)"><ellipse cx="0" cy="0" rx="205" ry="36" fill="#c5d3fb"  filter="url(#b3)" /><ellipse cx="0" cy="0" rx="175" ry="19.8" fill="#e6ecfd"  filter="url(#b7)" /></g><g transform="rotate(90)"><ellipse cx="0" cy="0" rx="205" ry="36" fill="#c5d3fb"  filter="url(#b3)" /><ellipse cx="0" cy="0" rx="175" ry="19.8" fill="#e6ecfd"  filter="url(#b7)" /></g><path d="M102,0 C102,-8 99.3,-18 95,-24 C90.7,-30 82.8,-31 76,-36 C69.2,-41 60.7,-47.3 54,-54 C47.3,-60.7 41,-69.2 36,-76 C31,-82.8 30,-90.7 24,-95 C18,-99.3 8,-102 0,-102 C-8,-102 -18,-99.3 -24,-95 C-30,-90.7 -31,-82.8 -36,-76 C-41,-69.2 -47.3,-60.7 -54,-54 C-60.7,-47.3 -69.2,-41 -76,-36 C-82.8,-31 -90.7,-30 -95,-24 C-99.3,-18 -102,-8 -102,-0 C-102,8 -99.3,18 -95,24 C-90.7,30 -82.8,31 -76,36 C-69.2,41 -60.7,47.3 -54,54 C-47.3,60.7 -41,69.2 -36,76 C-31,82.8 -30,90.7 -24,95 C-18,99.3 -8,102 -0,102 C8,102 18,99.3 24,95 C30,90.7 31,82.8 36,76 C41,69.2 47.3,60.7 54,54 C60.7,47.3 69.2,41 76,36 C82.8,31 90.7,30 95,24 C99.3,18 102,8 102,0 Z" fill="#fff" filter="url(#b2)" /><g transform="rotate(0)"><path d="M72,-35 C75.7,-39 83.5,-29.8 88,-24 C92.5,-18.2 99,-8 99,0 C99,8 92.5,18.2 88,24 C83.5,29.8 75.7,39 72,35 C68.3,31 66,11.7 66,0 C66,-11.7 68.3,-31 72,-35 Z" fill="#fdecec" filter="url(#b13)" /><path d="M74,-26 C75.3,-28.7 83,-20.3 86,-16 C89,-11.7 92,-5.3 92,0 C92,5.3 89,11.7 86,16 C83,20.3 75.3,28.7 74,26 C72.7,23.3 78,8.7 78,0 C78,-8.7 72.7,-23.3 74,-26 Z" fill="#fff" filter="url(#b3)" /><path d="M72,-36 C74.7,-34 83.4,-30 88,-24 C92.6,-18 99.5,-8 99.5,0 C99.5,8 92.6,18 88,24 C83.4,30 74.7,34 72,36" fill="none" stroke="#ff2a2a" stroke-width="2.2" stroke-linecap="round" stroke-linejoin="round" filter="url(#b11)" /><path d="M100,-3 C102,-2.5 112,-1 112,0 C112,1 102,2.5 100,3" fill="none" stroke="#fbb" stroke-width="8" stroke-linecap="round" stroke-linejoin="round" filter="url(#b1)" /></g><g transform="rotate(90)"><path d="M72,-35 C75.7,-39 83.5,-29.8 88,-24 C92.5,-18.2 99,-8 99,0 C99,8 92.5,18.2 88,24 C83.5,29.8 75.7,39 72,35 C68.3,31 66,11.7 66,0 C66,-11.7 68.3,-31 72,-35 Z" fill="#fdecec" filter="url(#b13)" /><path d="M74,-26 C75.3,-28.7 83,-20.3 86,-16 C89,-11.7 92,-5.3 92,0 C92,5.3 89,11.7 86,16 C83,20.3 75.3,28.7 74,26 C72.7,23.3 78,8.7 78,0 C78,-8.7 72.7,-23.3 74,-26 Z" fill="#fff" filter="url(#b3)" /><path d="M72,-36 C74.7,-34 83.4,-30 88,-24 C92.6,-18 99.5,-8 99.5,0 C99.5,8 92.6,18 88,24 C83.4,30 74.7,34 72,36" fill="none" stroke="#ff2a2a" stroke-width="2.2" stroke-linecap="round" stroke-linejoin="round" filter="url(#b11)" /><path d="M100,-3 C102,-2.5 112,-1 112,0 C112,1 102,2.5 100,3" fill="none" stroke="#fbb" stroke-width="8" stroke-linecap="round" stroke-linejoin="round" filter="url(#b1)" /></g><g transform="rotate(180)"><path d="M72,-35 C75.7,-39 83.5,-29.8 88,-24 C92.5,-18.2 99,-8 99,0 C99,8 92.5,18.2 88,24 C83.5,29.8 75.7,39 72,35 C68.3,31 66,11.7 66,0 C66,-11.7 68.3,-31 72,-35 Z" fill="#fdecec" filter="url(#b13)" /><path d="M74,-26 C75.3,-28.7 83,-20.3 86,-16 C89,-11.7 92,-5.3 92,0 C92,5.3 89,11.7 86,16 C83,20.3 75.3,28.7 74,26 C72.7,23.3 78,8.7 78,0 C78,-8.7 72.7,-23.3 74,-26 Z" fill="#fff" filter="url(#b3)" /><path d="M72,-36 C74.7,-34 83.4,-30 88,-24 C92.6,-18 99.5,-8 99.5,0 C99.5,8 92.6,18 88,24 C83.4,30 74.7,34 72,36" fill="none" stroke="#ff2a2a" stroke-width="2.2" stroke-linecap="round" stroke-linejoin="round" filter="url(#b11)" /><path d="M100,-3 C102,-2.5 112,-1 112,0 C112,1 102,2.5 100,3" fill="none" stroke="#fbb" stroke-width="8" stroke-linecap="round" stroke-linejoin="round" filter="url(#b1)" /></g><g transform="rotate(270)"><path d="M72,-35 C75.7,-39 83.5,-29.8 88,-24 C92.5,-18.2 99,-8 99,0 C99,8 92.5,18.2 88,24 C83.5,29.8 75.7,39 72,35 C68.3,31 66,11.7 66,0 C66,-11.7 68.3,-31 72,-35 Z" fill="#fdecec" filter="url(#b13)" /><path d="M74,-26 C75.3,-28.7 83,-20.3 86,-16 C89,-11.7 92,-5.3 92,0 C92,5.3 89,11.7 86,16 C83,20.3 75.3,28.7 74,26 C72.7,23.3 78,8.7 78,0 C78,-8.7 72.7,-23.3 74,-26 Z" fill="#fff" filter="url(#b3)" /><path d="M72,-36 C74.7,-34 83.4,-30 88,-24 C92.6,-18 99.5,-8 99.5,0 C99.5,8 92.6,18 88,24 C83.4,30 74.7,34 72,36" fill="none" stroke="#ff2a2a" stroke-width="2.2" stroke-linecap="round" stroke-linejoin="round" filter="url(#b11)" /><path d="M100,-3 C102,-2.5 112,-1 112,0 C112,1 102,2.5 100,3" fill="none" stroke="#fbb" stroke-width="8" stroke-linecap="round" stroke-linejoin="round" filter="url(#b1)" /></g><path d="M73,0 C73,-11.3 78.8,-25.7 75,-34 C71.2,-42.3 56.8,-43.2 50,-50 C43.2,-56.8 42.3,-71.2 34,-75 C25.7,-78.8 11.3,-73 0,-73 C-11.3,-73 -25.7,-78.8 -34,-75 C-42.3,-71.2 -43.2,-56.8 -50,-50 C-56.8,-43.2 -71.2,-42.3 -75,-34 C-78.8,-25.7 -73,-11.3 -73,-0 C-73,11.3 -78.8,25.7 -75,34 C-71.2,42.3 -56.8,43.2 -50,50 C-43.2,56.8 -42.3,71.2 -34,75 C-25.7,78.8 -11.3,73 -0,73 C11.3,73 25.7,78.8 34,75 C42.3,71.2 43.2,56.8 50,50 C56.8,43.2 71.2,42.3 75,34 C78.8,25.7 73,11.3 73,0 Z" fill="#fb9a9a" filter="url(#b13)" /><circle cx="0" cy="0" r="62" fill="#fa7b7b"  filter="url(#b9)" /><circle cx="0" cy="0" r="45" fill="#fa6464"  filter="url(#b9)" /><circle cx="0" cy="-22" r="14" fill="#f95858"  filter="url(#b4)" /><circle cx="0" cy="22" r="14" fill="#f95858"  filter="url(#b4)" /><circle cx="-22" cy="0" r="14" fill="#f95858"  filter="url(#b4)" /><circle cx="22" cy="0" r="14" fill="#f95858"  filter="url(#b4)" /><g transform="rotate(0)"><path d="M112,0 C112,-2.3 112,-5.3 113.5,-7 C115,-8.7 117.6,-9.8 121.2,-10 C124.8,-10.2 130.1,-9.4 134.9,-8.5 C139.8,-7.6 145.6,-5.9 150.2,-4.5 C154.9,-3.1 163,-1.5 163,0 C163,1.5 154.9,3.1 150.2,4.5 C145.6,5.9 139.8,7.6 134.9,8.5 C130.1,9.4 124.8,10.2 121.2,10 C117.6,9.8 115,8.7 113.5,7 C112,5.3 112,2.3 112,0 Z" fill="#fff" filter="url(#b2)" /><path d="M112,0 C112,-2.3 112,-5.3 113.5,-7 C115,-8.7 117.6,-9.8 121.2,-10 C124.8,-10.2 130.1,-9.4 134.9,-8.5 C139.8,-7.6 145.6,-5.9 150.2,-4.5 C154.9,-3.1 163,-1.5 163,0 C163,1.5 154.9,3.1 150.2,4.5 C145.6,5.9 139.8,7.6 134.9,8.5 C130.1,9.4 124.8,10.2 121.2,10 C117.6,9.8 115,8.7 113.5,7 C112,5.3 112,2.3 112,0 Z" fill="#f4f6fe" filter="url(#b14)" /><path d="M112,0 C112,-2.3 112,-5.3 113.5,-7 C115,-8.7 117.6,-9.8 121.2,-10 C124.8,-10.2 130.1,-9.4 134.9,-8.5 C139.8,-7.6 145.6,-5.9 150.2,-4.5 C154.9,-3.1 163,-1.5 163,0 C163,1.5 154.9,3.1 150.2,4.5 C145.6,5.9 139.8,7.6 134.9,8.5 C130.1,9.4 124.8,10.2 121.2,10 C117.6,9.8 115,8.7 113.5,7 C112,5.3 112,2.3 112,0 Z" fill="none" stroke="#ff2a2a" stroke-width="2.4" filter="url(#b11)"/></g><g transform="rotate(90)"><path d="M112,0 C112,-2.3 112,-5.3 113.5,-7 C115,-8.7 117.6,-9.8 121.2,-10 C124.8,-10.2 130.1,-9.4 134.9,-8.5 C139.8,-7.6 145.6,-5.9 150.2,-4.5 C154.9,-3.1 163,-1.5 163,0 C163,1.5 154.9,3.1 150.2,4.5 C145.6,5.9 139.8,7.6 134.9,8.5 C130.1,9.4 124.8,10.2 121.2,10 C117.6,9.8 115,8.7 113.5,7 C112,5.3 112,2.3 112,0 Z" fill="#fff" filter="url(#b2)" /><path d="M112,0 C112,-2.3 112,-5.3 113.5,-7 C115,-8.7 117.6,-9.8 121.2,-10 C124.8,-10.2 130.1,-9.4 134.9,-8.5 C139.8,-7.6 145.6,-5.9 150.2,-4.5 C154.9,-3.1 163,-1.5 163,0 C163,1.5 154.9,3.1 150.2,4.5 C145.6,5.9 139.8,7.6 134.9,8.5 C130.1,9.4 124.8,10.2 121.2,10 C117.6,9.8 115,8.7 113.5,7 C112,5.3 112,2.3 112,0 Z" fill="#f4f6fe" filter="url(#b14)" /><path d="M112,0 C112,-2.3 112,-5.3 113.5,-7 C115,-8.7 117.6,-9.8 121.2,-10 C124.8,-10.2 130.1,-9.4 134.9,-8.5 C139.8,-7.6 145.6,-5.9 150.2,-4.5 C154.9,-3.1 163,-1.5 163,0 C163,1.5 154.9,3.1 150.2,4.5 C145.6,5.9 139.8,7.6 134.9,8.5 C130.1,9.4 124.8,10.2 121.2,10 C117.6,9.8 115,8.7 113.5,7 C112,5.3 112,2.3 112,0 Z" fill="none" stroke="#ff2a2a" stroke-width="2.4" filter="url(#b11)"/></g><g transform="rotate(180)"><path d="M112,0 C112,-2.3 112,-5.3 113.5,-7 C115,-8.7 117.6,-9.8 121.2,-10 C124.8,-10.2 130.1,-9.4 134.9,-8.5 C139.8,-7.6 145.6,-5.9 150.2,-4.5 C154.9,-3.1 163,-1.5 163,0 C163,1.5 154.9,3.1 150.2,4.5 C145.6,5.9 139.8,7.6 134.9,8.5 C130.1,9.4 124.8,10.2 121.2,10 C117.6,9.8 115,8.7 113.5,7 C112,5.3 112,2.3 112,0 Z" fill="#fff" filter="url(#b2)" /><path d="M112,0 C112,-2.3 112,-5.3 113.5,-7 C115,-8.7 117.6,-9.8 121.2,-10 C124.8,-10.2 130.1,-9.4 134.9,-8.5 C139.8,-7.6 145.6,-5.9 150.2,-4.5 C154.9,-3.1 163,-1.5 163,0 C163,1.5 154.9,3.1 150.2,4.5 C145.6,5.9 139.8,7.6 134.9,8.5 C130.1,9.4 124.8,10.2 121.2,10 C117.6,9.8 115,8.7 113.5,7 C112,5.3 112,2.3 112,0 Z" fill="#f4f6fe" filter="url(#b14)" /><path d="M112,0 C112,-2.3 112,-5.3 113.5,-7 C115,-8.7 117.6,-9.8 121.2,-10 C124.8,-10.2 130.1,-9.4 134.9,-8.5 C139.8,-7.6 145.6,-5.9 150.2,-4.5 C154.9,-3.1 163,-1.5 163,0 C163,1.5 154.9,3.1 150.2,4.5 C145.6,5.9 139.8,7.6 134.9,8.5 C130.1,9.4 124.8,10.2 121.2,10 C117.6,9.8 115,8.7 113.5,7 C112,5.3 112,2.3 112,0 Z" fill="none" stroke="#ff2a2a" stroke-width="2.4" filter="url(#b11)"/></g><g transform="rotate(270)"><path d="M112,0 C112,-2.3 112,-5.3 113.5,-7 C115,-8.7 117.6,-9.8 121.2,-10 C124.8,-10.2 130.1,-9.4 134.9,-8.5 C139.8,-7.6 145.6,-5.9 150.2,-4.5 C154.9,-3.1 163,-1.5 163,0 C163,1.5 154.9,3.1 150.2,4.5 C145.6,5.9 139.8,7.6 134.9,8.5 C130.1,9.4 124.8,10.2 121.2,10 C117.6,9.8 115,8.7 113.5,7 C112,5.3 112,2.3 112,0 Z" fill="#fff" filter="url(#b2)" /><path d="M112,0 C112,-2.3 112,-5.3 113.5,-7 C115,-8.7 117.6,-9.8 121.2,-10 C124.8,-10.2 130.1,-9.4 134.9,-8.5 C139.8,-7.6 145.6,-5.9 150.2,-4.5 C154.9,-3.1 163,-1.5 163,0 C163,1.5 154.9,3.1 150.2,4.5 C145.6,5.9 139.8,7.6 134.9,8.5 C130.1,9.4 124.8,10.2 121.2,10 C117.6,9.8 115,8.7 113.5,7 C112,5.3 112,2.3 112,0 Z" fill="#f4f6fe" filter="url(#b14)" /><path d="M112,0 C112,-2.3 112,-5.3 113.5,-7 C115,-8.7 117.6,-9.8 121.2,-10 C124.8,-10.2 130.1,-9.4 134.9,-8.5 C139.8,-7.6 145.6,-5.9 150.2,-4.5 C154.9,-3.1 163,-1.5 163,0 C163,1.5 154.9,3.1 150.2,4.5 C145.6,5.9 139.8,7.6 134.9,8.5 C130.1,9.4 124.8,10.2 121.2,10 C117.6,9.8 115,8.7 113.5,7 C112,5.3 112,2.3 112,0 Z" fill="none" stroke="#ff2a2a" stroke-width="2.4" filter="url(#b11)"/></g></g></g><g clip-path="url(#c19)"><rect x="1408" y="1679" width="340" height="339" fill="#456fff" /><g transform="translate(1578,1848.7)"><path d="M130,0 C130,-15 114.7,-33 105,-45 C95.3,-57 82,-62 72,-72 C62,-82 57,-95.3 45,-105 C33,-114.7 15,-130 0,-130 C-15,-130 -33,-114.7 -45,-105 C-57,-95.3 -62,-82 -72,-72 C-82,-62 -95.3,-57 -105,-45 C-114.7,-33 -130,-15 -130,-0 C-130,15 -114.7,33 -105,45 C-95.3,57 -82,62 -72,72 C-62,82 -57,95.3 -45,105 C-33,114.7 -15,130 -0,130 C15,130 33,114.7 45,105 C57,95.3 62,82 72,72 C82,62 95.3,57 105,45 C114.7,33 130,15 130,0 Z" fill="#94adfd" filter="url(#b19)" opacity="0.55"/><g transform="rotate(0)"><ellipse cx="0" cy="0" rx="205" ry="38" fill="#c5d3fb"  filter="url(#b3)" /><ellipse cx="0" cy="0" rx="175" ry="20.9" fill="#e6ecfd"  filter="url(#b7)" /></g><g transform="rotate(90)"><ellipse cx="0" cy="0" rx="205" ry="38" fill="#c5d3fb"  filter="url(#b3)" /><ellipse cx="0" cy="0" rx="175" ry="20.9" fill="#e6ecfd"  filter="url(#b7)" /></g><path d="M114,0 C114,-5.3 98.8,-10.3 92,-16 C85.2,-21.7 79.7,-28 73,-34 C66.3,-40 58.5,-45.5 52,-52 C45.5,-58.5 40,-66.3 34,-73 C28,-79.7 21.7,-85.2 16,-92 C10.3,-98.8 5.3,-114 0,-114 C-5.3,-114 -10.3,-98.8 -16,-92 C-21.7,-85.2 -28,-79.7 -34,-73 C-40,-66.3 -45.5,-58.5 -52,-52 C-58.5,-45.5 -66.3,-40 -73,-34 C-79.7,-28 -85.2,-21.7 -92,-16 C-98.8,-10.3 -114,-5.3 -114,-0 C-114,5.3 -98.8,10.3 -92,16 C-85.2,21.7 -79.7,28 -73,34 C-66.3,40 -58.5,45.5 -52,52 C-45.5,58.5 -40,66.3 -34,73 C-28,79.7 -21.7,85.2 -16,92 C-10.3,98.8 -5.3,114 -0,114 C5.3,114 10.3,98.8 16,92 C21.7,85.2 28,79.7 34,73 C40,66.3 45.5,58.5 52,52 C58.5,45.5 66.3,40 73,34 C79.7,28 85.2,21.7 92,16 C98.8,10.3 114,5.3 114,0 Z" fill="#fff" filter="url(#b2)" /><path d="M114,0 C114,-5.3 98.8,-10.3 92,-16 C85.2,-21.7 79.7,-28 73,-34 C66.3,-40 58.5,-45.5 52,-52 C45.5,-58.5 40,-66.3 34,-73 C28,-79.7 21.7,-85.2 16,-92 C10.3,-98.8 5.3,-114 0,-114 C-5.3,-114 -10.3,-98.8 -16,-92 C-21.7,-85.2 -28,-79.7 -34,-73 C-40,-66.3 -45.5,-58.5 -52,-52 C-58.5,-45.5 -66.3,-40 -73,-34 C-79.7,-28 -85.2,-21.7 -92,-16 C-98.8,-10.3 -114,-5.3 -114,-0 C-114,5.3 -98.8,10.3 -92,16 C-85.2,21.7 -79.7,28 -73,34 C-66.3,40 -58.5,45.5 -52,52 C-45.5,58.5 -40,66.3 -34,73 C-28,79.7 -21.7,85.2 -16,92 C-10.3,98.8 -5.3,114 -0,114 C5.3,114 10.3,98.8 16,92 C21.7,85.2 28,79.7 34,73 C40,66.3 45.5,58.5 52,52 C58.5,45.5 66.3,40 73,34 C79.7,28 85.2,21.7 92,16 C98.8,10.3 114,5.3 114,0 Z" fill="#fcbcbc" filter="url(#b17)" /><path d="M99,0 C99,-4.7 89.5,-9 84,-14 C78.5,-19 72,-24.3 66,-30 C60,-35.7 54,-42 48,-48 C42,-54 35.7,-60 30,-66 C24.3,-72 19,-78.5 14,-84 C9,-89.5 4.7,-99 0,-99 C-4.7,-99 -9,-89.5 -14,-84 C-19,-78.5 -24.3,-72 -30,-66 C-35.7,-60 -42,-54 -48,-48 C-54,-42 -60,-35.7 -66,-30 C-72,-24.3 -78.5,-19 -84,-14 C-89.5,-9 -99,-4.7 -99,-0 C-99,4.7 -89.5,9 -84,14 C-78.5,19 -72,24.3 -66,30 C-60,35.7 -54,42 -48,48 C-42,54 -35.7,60 -30,66 C-24.3,72 -19,78.5 -14,84 C-9,89.5 -4.7,99 -0,99 C4.7,99 9,89.5 14,84 C19,78.5 24.3,72 30,66 C35.7,60 42,54 48,48 C54,42 60,35.7 66,30 C72,24.3 78.5,19 84,14 C89.5,9 99,4.7 99,0 Z" fill="#fccaca" filter="url(#b17)" /><path d="M99,0 C99,-4.7 89.5,-9 84,-14 C78.5,-19 72,-24.3 66,-30 C60,-35.7 54,-42 48,-48 C42,-54 35.7,-60 30,-66 C24.3,-72 19,-78.5 14,-84 C9,-89.5 4.7,-99 0,-99 C-4.7,-99 -9,-89.5 -14,-84 C-19,-78.5 -24.3,-72 -30,-66 C-35.7,-60 -42,-54 -48,-48 C-54,-42 -60,-35.7 -66,-30 C-72,-24.3 -78.5,-19 -84,-14 C-89.5,-9 -99,-4.7 -99,-0 C-99,4.7 -89.5,9 -84,14 C-78.5,19 -72,24.3 -66,30 C-60,35.7 -54,42 -48,48 C-42,54 -35.7,60 -30,66 C-24.3,72 -19,78.5 -14,84 C-9,89.5 -4.7,99 -0,99 C4.7,99 9,89.5 14,84 C19,78.5 24.3,72 30,66 C35.7,60 42,54 48,48 C54,42 60,35.7 66,30 C72,24.3 78.5,19 84,14 C89.5,9 99,4.7 99,0 Z" fill="none" stroke="#f33" stroke-width="2" filter="url(#b10)"/><circle cx="0" cy="0" r="72" fill="#fa9090"  filter="url(#b1)" /><circle cx="0" cy="0" r="50" fill="#fe4848"  filter="url(#b12)" /><circle cx="0" cy="0" r="40" fill="#ff3a3a"  filter="url(#b7)" /><g transform="rotate(0)"><path d="M115,0 C115,-1.8 115,-4 116.5,-5.2 C118,-6.5 120.6,-7.3 124.2,-7.5 C127.8,-7.7 133.1,-7.1 137.9,-6.4 C142.8,-5.7 148.6,-4.4 153.2,-3.4 C157.9,-2.3 166,-1.1 166,0 C166,1.1 157.9,2.3 153.2,3.4 C148.6,4.4 142.8,5.7 137.9,6.4 C133.1,7.1 127.8,7.7 124.2,7.5 C120.6,7.3 118,6.5 116.5,5.2 C115,4 115,1.8 115,0 Z" fill="#fff" filter="url(#b2)" /><path d="M115,0 C115,-1.8 115,-4 116.5,-5.2 C118,-6.5 120.6,-7.3 124.2,-7.5 C127.8,-7.7 133.1,-7.1 137.9,-6.4 C142.8,-5.7 148.6,-4.4 153.2,-3.4 C157.9,-2.3 166,-1.1 166,0 C166,1.1 157.9,2.3 153.2,3.4 C148.6,4.4 142.8,5.7 137.9,6.4 C133.1,7.1 127.8,7.7 124.2,7.5 C120.6,7.3 118,6.5 116.5,5.2 C115,4 115,1.8 115,0 Z" fill="#fdf5f5" filter="url(#b14)" /><path d="M115,0 C115,-1.8 115,-4 116.5,-5.2 C118,-6.5 120.6,-7.3 124.2,-7.5 C127.8,-7.7 133.1,-7.1 137.9,-6.4 C142.8,-5.7 148.6,-4.4 153.2,-3.4 C157.9,-2.3 166,-1.1 166,0 C166,1.1 157.9,2.3 153.2,3.4 C148.6,4.4 142.8,5.7 137.9,6.4 C133.1,7.1 127.8,7.7 124.2,7.5 C120.6,7.3 118,6.5 116.5,5.2 C115,4 115,1.8 115,0 Z" fill="none" stroke="#ff2a2a" stroke-width="1.4" filter="url(#b11)"/></g><g transform="rotate(90)"><path d="M115,0 C115,-1.8 115,-4 116.5,-5.2 C118,-6.5 120.6,-7.3 124.2,-7.5 C127.8,-7.7 133.1,-7.1 137.9,-6.4 C142.8,-5.7 148.6,-4.4 153.2,-3.4 C157.9,-2.3 166,-1.1 166,0 C166,1.1 157.9,2.3 153.2,3.4 C148.6,4.4 142.8,5.7 137.9,6.4 C133.1,7.1 127.8,7.7 124.2,7.5 C120.6,7.3 118,6.5 116.5,5.2 C115,4 115,1.8 115,0 Z" fill="#fff" filter="url(#b2)" /><path d="M115,0 C115,-1.8 115,-4 116.5,-5.2 C118,-6.5 120.6,-7.3 124.2,-7.5 C127.8,-7.7 133.1,-7.1 137.9,-6.4 C142.8,-5.7 148.6,-4.4 153.2,-3.4 C157.9,-2.3 166,-1.1 166,0 C166,1.1 157.9,2.3 153.2,3.4 C148.6,4.4 142.8,5.7 137.9,6.4 C133.1,7.1 127.8,7.7 124.2,7.5 C120.6,7.3 118,6.5 116.5,5.2 C115,4 115,1.8 115,0 Z" fill="#fdf5f5" filter="url(#b14)" /><path d="M115,0 C115,-1.8 115,-4 116.5,-5.2 C118,-6.5 120.6,-7.3 124.2,-7.5 C127.8,-7.7 133.1,-7.1 137.9,-6.4 C142.8,-5.7 148.6,-4.4 153.2,-3.4 C157.9,-2.3 166,-1.1 166,0 C166,1.1 157.9,2.3 153.2,3.4 C148.6,4.4 142.8,5.7 137.9,6.4 C133.1,7.1 127.8,7.7 124.2,7.5 C120.6,7.3 118,6.5 116.5,5.2 C115,4 115,1.8 115,0 Z" fill="none" stroke="#ff2a2a" stroke-width="1.4" filter="url(#b11)"/></g><g transform="rotate(180)"><path d="M115,0 C115,-1.8 115,-4 116.5,-5.2 C118,-6.5 120.6,-7.3 124.2,-7.5 C127.8,-7.7 133.1,-7.1 137.9,-6.4 C142.8,-5.7 148.6,-4.4 153.2,-3.4 C157.9,-2.3 166,-1.1 166,0 C166,1.1 157.9,2.3 153.2,3.4 C148.6,4.4 142.8,5.7 137.9,6.4 C133.1,7.1 127.8,7.7 124.2,7.5 C120.6,7.3 118,6.5 116.5,5.2 C115,4 115,1.8 115,0 Z" fill="#fff" filter="url(#b2)" /><path d="M115,0 C115,-1.8 115,-4 116.5,-5.2 C118,-6.5 120.6,-7.3 124.2,-7.5 C127.8,-7.7 133.1,-7.1 137.9,-6.4 C142.8,-5.7 148.6,-4.4 153.2,-3.4 C157.9,-2.3 166,-1.1 166,0 C166,1.1 157.9,2.3 153.2,3.4 C148.6,4.4 142.8,5.7 137.9,6.4 C133.1,7.1 127.8,7.7 124.2,7.5 C120.6,7.3 118,6.5 116.5,5.2 C115,4 115,1.8 115,0 Z" fill="#fdf5f5" filter="url(#b14)" /><path d="M115,0 C115,-1.8 115,-4 116.5,-5.2 C118,-6.5 120.6,-7.3 124.2,-7.5 C127.8,-7.7 133.1,-7.1 137.9,-6.4 C142.8,-5.7 148.6,-4.4 153.2,-3.4 C157.9,-2.3 166,-1.1 166,0 C166,1.1 157.9,2.3 153.2,3.4 C148.6,4.4 142.8,5.7 137.9,6.4 C133.1,7.1 127.8,7.7 124.2,7.5 C120.6,7.3 118,6.5 116.5,5.2 C115,4 115,1.8 115,0 Z" fill="none" stroke="#ff2a2a" stroke-width="1.4" filter="url(#b11)"/></g><g transform="rotate(270)"><path d="M115,0 C115,-1.8 115,-4 116.5,-5.2 C118,-6.5 120.6,-7.3 124.2,-7.5 C127.8,-7.7 133.1,-7.1 137.9,-6.4 C142.8,-5.7 148.6,-4.4 153.2,-3.4 C157.9,-2.3 166,-1.1 166,0 C166,1.1 157.9,2.3 153.2,3.4 C148.6,4.4 142.8,5.7 137.9,6.4 C133.1,7.1 127.8,7.7 124.2,7.5 C120.6,7.3 118,6.5 116.5,5.2 C115,4 115,1.8 115,0 Z" fill="#fff" filter="url(#b2)" /><path d="M115,0 C115,-1.8 115,-4 116.5,-5.2 C118,-6.5 120.6,-7.3 124.2,-7.5 C127.8,-7.7 133.1,-7.1 137.9,-6.4 C142.8,-5.7 148.6,-4.4 153.2,-3.4 C157.9,-2.3 166,-1.1 166,0 C166,1.1 157.9,2.3 153.2,3.4 C148.6,4.4 142.8,5.7 137.9,6.4 C133.1,7.1 127.8,7.7 124.2,7.5 C120.6,7.3 118,6.5 116.5,5.2 C115,4 115,1.8 115,0 Z" fill="#fdf5f5" filter="url(#b14)" /><path d="M115,0 C115,-1.8 115,-4 116.5,-5.2 C118,-6.5 120.6,-7.3 124.2,-7.5 C127.8,-7.7 133.1,-7.1 137.9,-6.4 C142.8,-5.7 148.6,-4.4 153.2,-3.4 C157.9,-2.3 166,-1.1 166,0 C166,1.1 157.9,2.3 153.2,3.4 C148.6,4.4 142.8,5.7 137.9,6.4 C133.1,7.1 127.8,7.7 124.2,7.5 C120.6,7.3 118,6.5 116.5,5.2 C115,4 115,1.8 115,0 Z" fill="none" stroke="#ff2a2a" stroke-width="1.4" filter="url(#b11)"/></g></g></g><rect x="171" y="35.5" width="680" height="372" fill="none" stroke="#333333" stroke-width="1.4"/><line x1="218.8" y1="35.5" x2="218.8" y2="39.5" stroke="#000" stroke-width="1.2" /><line x1="218.8" y1="403.5" x2="218.8" y2="407.5" stroke="#000" stroke-width="1.2" /><line x1="268.4" y1="35.5" x2="268.4" y2="39.5" stroke="#000" stroke-width="1.2" /><line x1="268.4" y1="403.5" x2="268.4" y2="407.5" stroke="#000" stroke-width="1.2" /><line x1="318" y1="35.5" x2="318" y2="39.5" stroke="#000" stroke-width="1.2" /><line x1="318" y1="403.5" x2="318" y2="407.5" stroke="#000" stroke-width="1.2" /><line x1="367.6" y1="35.5" x2="367.6" y2="39.5" stroke="#000" stroke-width="1.2" /><line x1="367.6" y1="403.5" x2="367.6" y2="407.5" stroke="#000" stroke-width="1.2" /><line x1="417.2" y1="35.5" x2="417.2" y2="39.5" stroke="#000" stroke-width="1.2" /><line x1="417.2" y1="403.5" x2="417.2" y2="407.5" stroke="#000" stroke-width="1.2" /><line x1="466.8" y1="35.5" x2="466.8" y2="39.5" stroke="#000" stroke-width="1.2" /><line x1="466.8" y1="403.5" x2="466.8" y2="407.5" stroke="#000" stroke-width="1.2" /><line x1="516.4" y1="35.5" x2="516.4" y2="39.5" stroke="#000" stroke-width="1.2" /><line x1="516.4" y1="403.5" x2="516.4" y2="407.5" stroke="#000" stroke-width="1.2" /><line x1="566" y1="35.5" x2="566" y2="39.5" stroke="#000" stroke-width="1.2" /><line x1="566" y1="403.5" x2="566" y2="407.5" stroke="#000" stroke-width="1.2" /><line x1="615.6" y1="35.5" x2="615.6" y2="39.5" stroke="#000" stroke-width="1.2" /><line x1="615.6" y1="403.5" x2="615.6" y2="407.5" stroke="#000" stroke-width="1.2" /><line x1="665.2" y1="35.5" x2="665.2" y2="39.5" stroke="#000" stroke-width="1.2" /><line x1="665.2" y1="403.5" x2="665.2" y2="407.5" stroke="#000" stroke-width="1.2" /><line x1="714.8" y1="35.5" x2="714.8" y2="39.5" stroke="#000" stroke-width="1.2" /><line x1="714.8" y1="403.5" x2="714.8" y2="407.5" stroke="#000" stroke-width="1.2" /><line x1="764.4" y1="35.5" x2="764.4" y2="39.5" stroke="#000" stroke-width="1.2" /><line x1="764.4" y1="403.5" x2="764.4" y2="407.5" stroke="#000" stroke-width="1.2" /><line x1="814" y1="35.5" x2="814" y2="39.5" stroke="#000" stroke-width="1.2" /><line x1="814" y1="403.5" x2="814" y2="407.5" stroke="#000" stroke-width="1.2" /><line x1="171" y1="35.5" x2="175" y2="35.5" stroke="#000" stroke-width="1.2" /><line x1="847" y1="35.5" x2="851" y2="35.5" stroke="#000" stroke-width="1.2" /><line x1="171" y1="103.1" x2="175" y2="103.1" stroke="#000" stroke-width="1.2" /><line x1="847" y1="103.1" x2="851" y2="103.1" stroke="#000" stroke-width="1.2" /><line x1="171" y1="170.8" x2="175" y2="170.8" stroke="#000" stroke-width="1.2" /><line x1="847" y1="170.8" x2="851" y2="170.8" stroke="#000" stroke-width="1.2" /><line x1="171" y1="238.4" x2="175" y2="238.4" stroke="#000" stroke-width="1.2" /><line x1="847" y1="238.4" x2="851" y2="238.4" stroke="#000" stroke-width="1.2" /><line x1="171" y1="306.1" x2="175" y2="306.1" stroke="#000" stroke-width="1.2" /><line x1="847" y1="306.1" x2="851" y2="306.1" stroke="#000" stroke-width="1.2" /><line x1="171" y1="373.7" x2="175" y2="373.7" stroke="#000" stroke-width="1.2" /><line x1="847" y1="373.7" x2="851" y2="373.7" stroke="#000" stroke-width="1.2" /><text x="166.5" y="44.4" font-family="DejaVu Sans, sans-serif" font-size="24.5" text-anchor="end" font-weight="normal" font-style="normal" fill="#000" >0.1</text><text x="166.5" y="112.1" font-family="DejaVu Sans, sans-serif" font-size="24.5" text-anchor="end" font-weight="normal" font-style="normal" fill="#000" >0.0</text><text x="166.5" y="179.7" font-family="DejaVu Sans, sans-serif" font-size="24.5" text-anchor="end" font-weight="normal" font-style="normal" fill="#000" >-0.1</text><text x="166.5" y="247.4" font-family="DejaVu Sans, sans-serif" font-size="24.5" text-anchor="end" font-weight="normal" font-style="normal" fill="#000" >-0.2</text><text x="166.5" y="315" font-family="DejaVu Sans, sans-serif" font-size="24.5" text-anchor="end" font-weight="normal" font-style="normal" fill="#000" >-0.3</text><text x="166.5" y="382.6" font-family="DejaVu Sans, sans-serif" font-size="24.5" text-anchor="end" font-weight="normal" font-style="normal" fill="#000" >-0.4</text><text x="268.4" y="434" font-family="DejaVu Sans, sans-serif" font-size="25" text-anchor="middle" font-weight="normal" font-style="normal" fill="#000" >0.0</text><text x="367.6" y="434" font-family="DejaVu Sans, sans-serif" font-size="25" text-anchor="middle" font-weight="normal" font-style="normal" fill="#000" >0.2</text><text x="466.8" y="434" font-family="DejaVu Sans, sans-serif" font-size="25" text-anchor="middle" font-weight="normal" font-style="normal" fill="#000" >0.4</text><text x="566" y="434" font-family="DejaVu Sans, sans-serif" font-size="25" text-anchor="middle" font-weight="normal" font-style="normal" fill="#000" >0.6</text><text x="665.2" y="434" font-family="DejaVu Sans, sans-serif" font-size="25" text-anchor="middle" font-weight="normal" font-style="normal" fill="#000" >0.8</text><text x="764.4" y="434" font-family="DejaVu Sans, sans-serif" font-size="25" text-anchor="middle" font-weight="normal" font-style="normal" fill="#000" >1.0</text><text x="512.9" y="466.5" font-family="DejaVu Sans, sans-serif" font-size="26" text-anchor="middle" font-weight="normal" font-style="normal" fill="#000" >k<tspan font-size="18.5" dy="5.5">x</tspan><tspan dy="-5.5"> (1/Å)</tspan></text><text transform="translate(93.5,221.5) rotate(-90)" x="0" y="0" font-family="DejaVu Sans, sans-serif" font-size="26" text-anchor="middle" dominant-baseline="central">E-E<tspan font-size="18.5" dy="5.5">F</tspan><tspan dy="-5.5"> (eV)</tspan></text><text x="71.4" y="24" font-family="Liberation Sans, sans-serif" font-size="34.5" text-anchor="start" font-weight="normal" font-style="normal" fill="#000" >(a)</text><text x="268.4" y="30.2" font-family="Liberation Serif, sans-serif" font-size="30" text-anchor="middle" font-weight="normal" font-style="italic" fill="#000" >Γ</text><line x1="264.5" y1="6.2" x2="277.1" y2="6.2" stroke="#000" stroke-width="2.1" /><text x="511.4" y="30.2" font-family="Liberation Serif, sans-serif" font-size="30" text-anchor="middle" font-weight="normal" font-style="italic" fill="#000" >X</text><line x1="507.5" y1="6.2" x2="520.1" y2="6.2" stroke="#000" stroke-width="2.1" /><text x="759.5" y="30.2" font-family="Liberation Serif, sans-serif" font-size="30" text-anchor="middle" font-weight="normal" font-style="italic" fill="#000" >M′</text><line x1="743.4" y1="4" x2="776.4" y2="4" stroke="#000" stroke-width="2" /><line x1="268.4" y1="35.5" x2="268.4" y2="407.5" stroke="#000" stroke-width="1.2" /><rect x="976.5" y="35.5" width="680" height="372" fill="none" stroke="#333333" stroke-width="1.4"/><line x1="1024.3" y1="35.5" x2="1024.3" y2="39.5" stroke="#000" stroke-width="1.2" /><line x1="1024.3" y1="403.5" x2="1024.3" y2="407.5" stroke="#000" stroke-width="1.2" /><line x1="1073.9" y1="35.5" x2="1073.9" y2="39.5" stroke="#000" stroke-width="1.2" /><line x1="1073.9" y1="403.5" x2="1073.9" y2="407.5" stroke="#000" stroke-width="1.2" /><line x1="1123.5" y1="35.5" x2="1123.5" y2="39.5" stroke="#000" stroke-width="1.2" /><line x1="1123.5" y1="403.5" x2="1123.5" y2="407.5" stroke="#000" stroke-width="1.2" /><line x1="1173.1" y1="35.5" x2="1173.1" y2="39.5" stroke="#000" stroke-width="1.2" /><line x1="1173.1" y1="403.5" x2="1173.1" y2="407.5" stroke="#000" stroke-width="1.2" /><line x1="1222.7" y1="35.5" x2="1222.7" y2="39.5" stroke="#000" stroke-width="1.2" /><line x1="1222.7" y1="403.5" x2="1222.7" y2="407.5" stroke="#000" stroke-width="1.2" /><line x1="1272.3" y1="35.5" x2="1272.3" y2="39.5" stroke="#000" stroke-width="1.2" /><line x1="1272.3" y1="403.5" x2="1272.3" y2="407.5" stroke="#000" stroke-width="1.2" /><line x1="1321.9" y1="35.5" x2="1321.9" y2="39.5" stroke="#000" stroke-width="1.2" /><line x1="1321.9" y1="403.5" x2="1321.9" y2="407.5" stroke="#000" stroke-width="1.2" /><line x1="1371.5" y1="35.5" x2="1371.5" y2="39.5" stroke="#000" stroke-width="1.2" /><line x1="1371.5" y1="403.5" x2="1371.5" y2="407.5" stroke="#000" stroke-width="1.2" /><line x1="1421.1" y1="35.5" x2="1421.1" y2="39.5" stroke="#000" stroke-width="1.2" /><line x1="1421.1" y1="403.5" x2="1421.1" y2="407.5" stroke="#000" stroke-width="1.2" /><line x1="1470.7" y1="35.5" x2="1470.7" y2="39.5" stroke="#000" stroke-width="1.2" /><line x1="1470.7" y1="403.5" x2="1470.7" y2="407.5" stroke="#000" stroke-width="1.2" /><line x1="1520.3" y1="35.5" x2="1520.3" y2="39.5" stroke="#000" stroke-width="1.2" /><line x1="1520.3" y1="403.5" x2="1520.3" y2="407.5" stroke="#000" stroke-width="1.2" /><line x1="1569.9" y1="35.5" x2="1569.9" y2="39.5" stroke="#000" stroke-width="1.2" /><line x1="1569.9" y1="403.5" x2="1569.9" y2="407.5" stroke="#000" stroke-width="1.2" /><line x1="1619.5" y1="35.5" x2="1619.5" y2="39.5" stroke="#000" stroke-width="1.2" /><line x1="1619.5" y1="403.5" x2="1619.5" y2="407.5" stroke="#000" stroke-width="1.2" /><line x1="976.5" y1="35.5" x2="980.5" y2="35.5" stroke="#000" stroke-width="1.2" /><line x1="1652.5" y1="35.5" x2="1656.5" y2="35.5" stroke="#000" stroke-width="1.2" /><line x1="976.5" y1="103.1" x2="980.5" y2="103.1" stroke="#000" stroke-width="1.2" /><line x1="1652.5" y1="103.1" x2="1656.5" y2="103.1" stroke="#000" stroke-width="1.2" /><line x1="976.5" y1="170.8" x2="980.5" y2="170.8" stroke="#000" stroke-width="1.2" /><line x1="1652.5" y1="170.8" x2="1656.5" y2="170.8" stroke="#000" stroke-width="1.2" /><line x1="976.5" y1="238.4" x2="980.5" y2="238.4" stroke="#000" stroke-width="1.2" /><line x1="1652.5" y1="238.4" x2="1656.5" y2="238.4" stroke="#000" stroke-width="1.2" /><line x1="976.5" y1="306.1" x2="980.5" y2="306.1" stroke="#000" stroke-width="1.2" /><line x1="1652.5" y1="306.1" x2="1656.5" y2="306.1" stroke="#000" stroke-width="1.2" /><line x1="976.5" y1="373.7" x2="980.5" y2="373.7" stroke="#000" stroke-width="1.2" /><line x1="1652.5" y1="373.7" x2="1656.5" y2="373.7" stroke="#000" stroke-width="1.2" /><text x="972" y="44.4" font-family="DejaVu Sans, sans-serif" font-size="24.5" text-anchor="end" font-weight="normal" font-style="normal" fill="#000" >0.1</text><text x="972" y="112.1" font-family="DejaVu Sans, sans-serif" font-size="24.5" text-anchor="end" font-weight="normal" font-style="normal" fill="#000" >0.0</text><text x="972" y="179.7" font-family="DejaVu Sans, sans-serif" font-size="24.5" text-anchor="end" font-weight="normal" font-style="normal" fill="#000" >-0.1</text><text x="972" y="247.4" font-family="DejaVu Sans, sans-serif" font-size="24.5" text-anchor="end" font-weight="normal" font-style="normal" fill="#000" >-0.2</text><text x="972" y="315" font-family="DejaVu Sans, sans-serif" font-size="24.5" text-anchor="end" font-weight="normal" font-style="normal" fill="#000" >-0.3</text><text x="972" y="382.6" font-family="DejaVu Sans, sans-serif" font-size="24.5" text-anchor="end" font-weight="normal" font-style="normal" fill="#000" >-0.4</text><text x="1073.9" y="434" font-family="DejaVu Sans, sans-serif" font-size="25" text-anchor="middle" font-weight="normal" font-style="normal" fill="#000" >0.0</text><text x="1173.1" y="434" font-family="DejaVu Sans, sans-serif" font-size="25" text-anchor="middle" font-weight="normal" font-style="normal" fill="#000" >0.2</text><text x="1272.3" y="434" font-family="DejaVu Sans, sans-serif" font-size="25" text-anchor="middle" font-weight="normal" font-style="normal" fill="#000" >0.4</text><text x="1371.5" y="434" font-family="DejaVu Sans, sans-serif" font-size="25" text-anchor="middle" font-weight="normal" font-style="normal" fill="#000" >0.6</text><text x="1470.7" y="434" font-family="DejaVu Sans, sans-serif" font-size="25" text-anchor="middle" font-weight="normal" font-style="normal" fill="#000" >0.8</text><text x="1569.9" y="434" font-family="DejaVu Sans, sans-serif" font-size="25" text-anchor="middle" font-weight="normal" font-style="normal" fill="#000" >1.0</text><text x="1318.4" y="466.5" font-family="DejaVu Sans, sans-serif" font-size="26" text-anchor="middle" font-weight="normal" font-style="normal" fill="#000" >k<tspan font-size="18.5" dy="5.5">x</tspan><tspan dy="-5.5"> (1/Å)</tspan></text><text transform="translate(899,221.5) rotate(-90)" x="0" y="0" font-family="DejaVu Sans, sans-serif" font-size="26" text-anchor="middle" dominant-baseline="central">E-E<tspan font-size="18.5" dy="5.5">F</tspan><tspan dy="-5.5"> (eV)</tspan></text><text x="877.7" y="24" font-family="Liberation Sans, sans-serif" font-size="34.5" text-anchor="start" font-weight="normal" font-style="normal" fill="#000" >(b)</text><text x="1073.9" y="30.2" font-family="Liberation Serif, sans-serif" font-size="30" text-anchor="middle" font-weight="normal" font-style="italic" fill="#000" >Γ</text><line x1="1070" y1="6.2" x2="1082.6" y2="6.2" stroke="#000" stroke-width="2.1" /><text x="1316.9" y="30.2" font-family="Liberation Serif, sans-serif" font-size="30" text-anchor="middle" font-weight="normal" font-style="italic" fill="#000" >X</text><line x1="1313" y1="6.2" x2="1325.6" y2="6.2" stroke="#000" stroke-width="2.1" /><text x="1560" y="30.2" font-family="Liberation Serif, sans-serif" font-size="30" text-anchor="middle" font-weight="normal" font-style="italic" fill="#000" >Γ</text><line x1="1556.1" y1="6.2" x2="1568.7" y2="6.2" stroke="#000" stroke-width="2.1" /><line x1="1073.9" y1="35.5" x2="1073.9" y2="407.5" stroke="#000" stroke-width="1.2" /><rect x="87.6" y="514.9" width="341.6" height="355.9" fill="none" stroke="#333333" stroke-width="1.5"/><line x1="87.6" y1="514.9" x2="92.6" y2="514.9" stroke="#000" stroke-width="1.2" /><line x1="424.2" y1="514.9" x2="429.2" y2="514.9" stroke="#000" stroke-width="1.2" /><line x1="87.6" y1="574.2" x2="92.6" y2="574.2" stroke="#000" stroke-width="1.2" /><line x1="424.2" y1="574.2" x2="429.2" y2="574.2" stroke="#000" stroke-width="1.2" /><line x1="87.6" y1="633.5" x2="92.6" y2="633.5" stroke="#000" stroke-width="1.2" /><line x1="424.2" y1="633.5" x2="429.2" y2="633.5" stroke="#000" stroke-width="1.2" /><line x1="87.6" y1="692.9" x2="92.6" y2="692.9" stroke="#000" stroke-width="1.2" /><line x1="424.2" y1="692.9" x2="429.2" y2="692.9" stroke="#000" stroke-width="1.2" /><line x1="87.6" y1="752.2" x2="92.6" y2="752.2" stroke="#000" stroke-width="1.2" /><line x1="424.2" y1="752.2" x2="429.2" y2="752.2" stroke="#000" stroke-width="1.2" /><line x1="87.6" y1="811.5" x2="92.6" y2="811.5" stroke="#000" stroke-width="1.2" /><line x1="424.2" y1="811.5" x2="429.2" y2="811.5" stroke="#000" stroke-width="1.2" /><line x1="87.6" y1="870.8" x2="92.6" y2="870.8" stroke="#000" stroke-width="1.2" /><line x1="424.2" y1="870.8" x2="429.2" y2="870.8" stroke="#000" stroke-width="1.2" /><text x="80.6" y="524" font-family="DejaVu Sans, sans-serif" font-size="25" text-anchor="end" font-weight="normal" font-style="normal" fill="#000" >0.2</text><text x="80.6" y="583.3" font-family="DejaVu Sans, sans-serif" font-size="25" text-anchor="end" font-weight="normal" font-style="normal" fill="#000" >0.1</text><text x="80.6" y="642.7" font-family="DejaVu Sans, sans-serif" font-size="25" text-anchor="end" font-weight="normal" font-style="normal" fill="#000" >0.0</text><text x="80.6" y="702" font-family="DejaVu Sans, sans-serif" font-size="25" text-anchor="end" font-weight="normal" font-style="normal" fill="#000" >-0.1</text><text x="80.6" y="761.3" font-family="DejaVu Sans, sans-serif" font-size="25" text-anchor="end" font-weight="normal" font-style="normal" fill="#000" >-0.2</text><text x="80.6" y="820.6" font-family="DejaVu Sans, sans-serif" font-size="25" text-anchor="end" font-weight="normal" font-style="normal" fill="#000" >-0.3</text><text x="80.6" y="879.9" font-family="DejaVu Sans, sans-serif" font-size="25" text-anchor="end" font-weight="normal" font-style="normal" fill="#000" >-0.4</text><text transform="translate(10.8,692.9) rotate(-90)" x="0" y="0" font-family="DejaVu Sans, sans-serif" font-size="25" text-anchor="middle" dominant-baseline="central">E-E<tspan font-size="17.8" dy="5.5">F</tspan><tspan dy="-5.5"> (eV)</tspan></text><text x="-2.5" y="526.7" font-family="Liberation Sans, sans-serif" font-size="34.5" text-anchor="start" font-weight="normal" font-style="normal" fill="#000" >(c)</text><text x="251.5" y="501" font-family="Liberation Sans, sans-serif" font-size="33" text-anchor="middle" font-weight="bold" font-style="normal" fill="#000" >3q (001)</text><line x1="186.5" y1="514.9" x2="186.5" y2="870.8" stroke="#000" stroke-width="1.2" /><line x1="360.2" y1="514.9" x2="360.2" y2="870.8" stroke="#000" stroke-width="1.2" /><text x="89" y="901.1" font-family="Liberation Serif, sans-serif" font-size="27" text-anchor="middle" font-weight="normal" font-style="italic" fill="#000" >M</text><line x1="85.5" y1="879.5" x2="96.8" y2="879.5" stroke="#000" stroke-width="1.8900000000000001" /><text x="131" y="900.3" font-family="DejaVu Sans, sans-serif" font-size="26" text-anchor="middle" font-weight="normal" font-style="normal" fill="#000" >←</text><text x="176" y="901.1" font-family="Liberation Serif, sans-serif" font-size="27" text-anchor="middle" font-weight="normal" font-style="italic" fill="#000" >Γ</text><line x1="172.5" y1="879.5" x2="183.8" y2="879.5" stroke="#000" stroke-width="1.8900000000000001" /><text x="348" y="901.1" font-family="Liberation Serif, sans-serif" font-size="27" text-anchor="middle" font-weight="normal" font-style="italic" fill="#000" >X</text><line x1="344.5" y1="879.5" x2="355.8" y2="879.5" stroke="#000" stroke-width="1.8900000000000001" /><text x="382" y="900.3" font-family="DejaVu Sans, sans-serif" font-size="26" text-anchor="middle" font-weight="normal" font-style="normal" fill="#000" >→</text><text x="413" y="901.1" font-family="Liberation Serif, sans-serif" font-size="27" text-anchor="middle" font-weight="normal" font-style="italic" fill="#000" >M</text><line x1="409.5" y1="879.5" x2="420.8" y2="879.5" stroke="#000" stroke-width="1.8900000000000001" /><rect x="528.5" y="516.3" width="341.9" height="355.9" fill="none" stroke="#333333" stroke-width="1.5"/><line x1="528.5" y1="516.3" x2="533.5" y2="516.3" stroke="#000" stroke-width="1.2" /><line x1="865.4" y1="516.3" x2="870.4" y2="516.3" stroke="#000" stroke-width="1.2" /><line x1="528.5" y1="575.6" x2="533.5" y2="575.6" stroke="#000" stroke-width="1.2" /><line x1="865.4" y1="575.6" x2="870.4" y2="575.6" stroke="#000" stroke-width="1.2" /><line x1="528.5" y1="634.9" x2="533.5" y2="634.9" stroke="#000" stroke-width="1.2" /><line x1="865.4" y1="634.9" x2="870.4" y2="634.9" stroke="#000" stroke-width="1.2" /><line x1="528.5" y1="694.2" x2="533.5" y2="694.2" stroke="#000" stroke-width="1.2" /><line x1="865.4" y1="694.2" x2="870.4" y2="694.2" stroke="#000" stroke-width="1.2" /><line x1="528.5" y1="753.6" x2="533.5" y2="753.6" stroke="#000" stroke-width="1.2" /><line x1="865.4" y1="753.6" x2="870.4" y2="753.6" stroke="#000" stroke-width="1.2" /><line x1="528.5" y1="812.9" x2="533.5" y2="812.9" stroke="#000" stroke-width="1.2" /><line x1="865.4" y1="812.9" x2="870.4" y2="812.9" stroke="#000" stroke-width="1.2" /><line x1="528.5" y1="872.2" x2="533.5" y2="872.2" stroke="#000" stroke-width="1.2" /><line x1="865.4" y1="872.2" x2="870.4" y2="872.2" stroke="#000" stroke-width="1.2" /><text x="521.5" y="525.4" font-family="DejaVu Sans, sans-serif" font-size="25" text-anchor="end" font-weight="normal" font-style="normal" fill="#000" >0.2</text><text x="521.5" y="584.7" font-family="DejaVu Sans, sans-serif" font-size="25" text-anchor="end" font-weight="normal" font-style="normal" fill="#000" >0.1</text><text x="521.5" y="644.1" font-family="DejaVu Sans, sans-serif" font-size="25" text-anchor="end" font-weight="normal" font-style="normal" fill="#000" >0.0</text><text x="521.5" y="703.4" font-family="DejaVu Sans, sans-serif" font-size="25" text-anchor="end" font-weight="normal" font-style="normal" fill="#000" >-0.1</text><text x="521.5" y="762.7" font-family="DejaVu Sans, sans-serif" font-size="25" text-anchor="end" font-weight="normal" font-style="normal" fill="#000" >-0.2</text><text x="521.5" y="822" font-family="DejaVu Sans, sans-serif" font-size="25" text-anchor="end" font-weight="normal" font-style="normal" fill="#000" >-0.3</text><text x="521.5" y="881.3" font-family="DejaVu Sans, sans-serif" font-size="25" text-anchor="end" font-weight="normal" font-style="normal" fill="#000" >-0.4</text><text transform="translate(451.7,694.3) rotate(-90)" x="0" y="0" font-family="DejaVu Sans, sans-serif" font-size="25" text-anchor="middle" dominant-baseline="central">E-E<tspan font-size="17.8" dy="5.5">F</tspan><tspan dy="-5.5"> (eV)</tspan></text><text x="433.6" y="527" font-family="Liberation Sans, sans-serif" font-size="34.5" text-anchor="start" font-weight="normal" font-style="normal" fill="#000" >(d)</text><text x="695" y="501" font-family="Liberation Sans, sans-serif" font-size="33" text-anchor="middle" font-weight="bold" font-style="normal" fill="#000" >2q (001)</text><line x1="627.3" y1="516.3" x2="627.3" y2="872.2" stroke="#000" stroke-width="1.2" /><line x1="800.7" y1="516.3" x2="800.7" y2="872.2" stroke="#000" stroke-width="1.2" /><text x="529.5" y="902.5" font-family="Liberation Serif, sans-serif" font-size="27" text-anchor="middle" font-weight="normal" font-style="italic" fill="#000" >M</text><line x1="526" y1="880.9" x2="537.3" y2="880.9" stroke="#000" stroke-width="1.8900000000000001" /><text x="571.5" y="901.7" font-family="DejaVu Sans, sans-serif" font-size="26" text-anchor="middle" font-weight="normal" font-style="normal" fill="#000" >←</text><text x="617" y="902.5" font-family="Liberation Serif, sans-serif" font-size="27" text-anchor="middle" font-weight="normal" font-style="italic" fill="#000" >Γ</text><line x1="613.5" y1="880.9" x2="624.8" y2="880.9" stroke="#000" stroke-width="1.8900000000000001" /><text x="789" y="902.5" font-family="Liberation Serif, sans-serif" font-size="27" text-anchor="middle" font-weight="normal" font-style="italic" fill="#000" >X</text><line x1="785.5" y1="880.9" x2="796.8" y2="880.9" stroke="#000" stroke-width="1.8900000000000001" /><text x="823" y="901.7" font-family="DejaVu Sans, sans-serif" font-size="26" text-anchor="middle" font-weight="normal" font-style="normal" fill="#000" >→</text><text x="854" y="902.5" font-family="Liberation Serif, sans-serif" font-size="27" text-anchor="middle" font-weight="normal" font-style="italic" fill="#000" >M</text><line x1="850.5" y1="880.9" x2="861.8" y2="880.9" stroke="#000" stroke-width="1.8900000000000001" /><rect x="967.4" y="514.2" width="341.6" height="355.9" fill="none" stroke="#333333" stroke-width="1.5"/><line x1="967.4" y1="514.2" x2="972.4" y2="514.2" stroke="#000" stroke-width="1.2" /><line x1="1304" y1="514.2" x2="1309" y2="514.2" stroke="#000" stroke-width="1.2" /><line x1="967.4" y1="573.5" x2="972.4" y2="573.5" stroke="#000" stroke-width="1.2" /><line x1="1304" y1="573.5" x2="1309" y2="573.5" stroke="#000" stroke-width="1.2" /><line x1="967.4" y1="632.8" x2="972.4" y2="632.8" stroke="#000" stroke-width="1.2" /><line x1="1304" y1="632.8" x2="1309" y2="632.8" stroke="#000" stroke-width="1.2" /><line x1="967.4" y1="692.2" x2="972.4" y2="692.2" stroke="#000" stroke-width="1.2" /><line x1="1304" y1="692.2" x2="1309" y2="692.2" stroke="#000" stroke-width="1.2" /><line x1="967.4" y1="751.5" x2="972.4" y2="751.5" stroke="#000" stroke-width="1.2" /><line x1="1304" y1="751.5" x2="1309" y2="751.5" stroke="#000" stroke-width="1.2" /><line x1="967.4" y1="810.8" x2="972.4" y2="810.8" stroke="#000" stroke-width="1.2" /><line x1="1304" y1="810.8" x2="1309" y2="810.8" stroke="#000" stroke-width="1.2" /><line x1="967.4" y1="870.1" x2="972.4" y2="870.1" stroke="#000" stroke-width="1.2" /><line x1="1304" y1="870.1" x2="1309" y2="870.1" stroke="#000" stroke-width="1.2" /><text x="960.4" y="523.3" font-family="DejaVu Sans, sans-serif" font-size="25" text-anchor="end" font-weight="normal" font-style="normal" fill="#000" >0.2</text><text x="960.4" y="582.6" font-family="DejaVu Sans, sans-serif" font-size="25" text-anchor="end" font-weight="normal" font-style="normal" fill="#000" >0.1</text><text x="960.4" y="642" font-family="DejaVu Sans, sans-serif" font-size="25" text-anchor="end" font-weight="normal" font-style="normal" fill="#000" >0.0</text><text x="960.4" y="701.3" font-family="DejaVu Sans, sans-serif" font-size="25" text-anchor="end" font-weight="normal" font-style="normal" fill="#000" >-0.1</text><text x="960.4" y="760.6" font-family="DejaVu Sans, sans-serif" font-size="25" text-anchor="end" font-weight="normal" font-style="normal" fill="#000" >-0.2</text><text x="960.4" y="819.9" font-family="DejaVu Sans, sans-serif" font-size="25" text-anchor="end" font-weight="normal" font-style="normal" fill="#000" >-0.3</text><text x="960.4" y="879.2" font-family="DejaVu Sans, sans-serif" font-size="25" text-anchor="end" font-weight="normal" font-style="normal" fill="#000" >-0.4</text><text transform="translate(890.6,692.2) rotate(-90)" x="0" y="0" font-family="DejaVu Sans, sans-serif" font-size="25" text-anchor="middle" dominant-baseline="central">E-E<tspan font-size="17.8" dy="5.5">F</tspan><tspan dy="-5.5"> (eV)</tspan></text><text x="875.3" y="527" font-family="Liberation Sans, sans-serif" font-size="34.5" text-anchor="start" font-weight="normal" font-style="normal" fill="#000" >(e)</text><text x="1135" y="501" font-family="Liberation Sans, sans-serif" font-size="33" text-anchor="middle" font-weight="bold" font-style="normal" fill="#000" >2q (010)</text><line x1="1110.5" y1="514.2" x2="1110.5" y2="870.1" stroke="#000" stroke-width="1.2" /><line x1="1252.5" y1="514.2" x2="1252.5" y2="870.1" stroke="#000" stroke-width="1.2" /><text x="970" y="900.4" font-family="Liberation Serif, sans-serif" font-size="27" text-anchor="middle" font-weight="normal" font-style="italic" fill="#000" >Z</text><line x1="966.5" y1="878.8" x2="977.8" y2="878.8" stroke="#000" stroke-width="1.8900000000000001" /><text x="1109" y="900.4" font-family="Liberation Serif, sans-serif" font-size="27" text-anchor="middle" font-weight="normal" font-style="italic" fill="#000" >Γ</text><line x1="1105.5" y1="878.8" x2="1116.8" y2="878.8" stroke="#000" stroke-width="1.8900000000000001" /><text x="1247" y="900.4" font-family="Liberation Serif, sans-serif" font-size="27" text-anchor="middle" font-weight="normal" font-style="italic" fill="#000" >X</text><line x1="1243.5" y1="878.8" x2="1254.8" y2="878.8" stroke="#000" stroke-width="1.8900000000000001" /><text x="1273" y="899.6" font-family="DejaVu Sans, sans-serif" font-size="26" text-anchor="middle" font-weight="normal" font-style="normal" fill="#000" >→</text><text x="1302" y="900.4" font-family="Liberation Serif, sans-serif" font-size="27" text-anchor="middle" font-weight="normal" font-style="italic" fill="#000" >R</text><line x1="1298.5" y1="878.8" x2="1309.8" y2="878.8" stroke="#000" stroke-width="1.8900000000000001" /><rect x="1404.2" y="512.9" width="341.4" height="355.8" fill="none" stroke="#333333" stroke-width="1.5"/><line x1="1404.2" y1="512.9" x2="1409.2" y2="512.9" stroke="#000" stroke-width="1.2" /><line x1="1740.6" y1="512.9" x2="1745.6" y2="512.9" stroke="#000" stroke-width="1.2" /><line x1="1404.2" y1="572.2" x2="1409.2" y2="572.2" stroke="#000" stroke-width="1.2" /><line x1="1740.6" y1="572.2" x2="1745.6" y2="572.2" stroke="#000" stroke-width="1.2" /><line x1="1404.2" y1="631.5" x2="1409.2" y2="631.5" stroke="#000" stroke-width="1.2" /><line x1="1740.6" y1="631.5" x2="1745.6" y2="631.5" stroke="#000" stroke-width="1.2" /><line x1="1404.2" y1="690.8" x2="1409.2" y2="690.8" stroke="#000" stroke-width="1.2" /><line x1="1740.6" y1="690.8" x2="1745.6" y2="690.8" stroke="#000" stroke-width="1.2" /><line x1="1404.2" y1="750.1" x2="1409.2" y2="750.1" stroke="#000" stroke-width="1.2" /><line x1="1740.6" y1="750.1" x2="1745.6" y2="750.1" stroke="#000" stroke-width="1.2" /><line x1="1404.2" y1="809.4" x2="1409.2" y2="809.4" stroke="#000" stroke-width="1.2" /><line x1="1740.6" y1="809.4" x2="1745.6" y2="809.4" stroke="#000" stroke-width="1.2" /><line x1="1404.2" y1="868.7" x2="1409.2" y2="868.7" stroke="#000" stroke-width="1.2" /><line x1="1740.6" y1="868.7" x2="1745.6" y2="868.7" stroke="#000" stroke-width="1.2" /><text x="1397.2" y="522" font-family="DejaVu Sans, sans-serif" font-size="25" text-anchor="end" font-weight="normal" font-style="normal" fill="#000" >0.2</text><text x="1397.2" y="581.3" font-family="DejaVu Sans, sans-serif" font-size="25" text-anchor="end" font-weight="normal" font-style="normal" fill="#000" >0.1</text><text x="1397.2" y="640.6" font-family="DejaVu Sans, sans-serif" font-size="25" text-anchor="end" font-weight="normal" font-style="normal" fill="#000" >0.0</text><text x="1397.2" y="699.9" font-family="DejaVu Sans, sans-serif" font-size="25" text-anchor="end" font-weight="normal" font-style="normal" fill="#000" >-0.1</text><text x="1397.2" y="759.2" font-family="DejaVu Sans, sans-serif" font-size="25" text-anchor="end" font-weight="normal" font-style="normal" fill="#000" >-0.2</text><text x="1397.2" y="818.5" font-family="DejaVu Sans, sans-serif" font-size="25" text-anchor="end" font-weight="normal" font-style="normal" fill="#000" >-0.3</text><text x="1397.2" y="877.8" font-family="DejaVu Sans, sans-serif" font-size="25" text-anchor="end" font-weight="normal" font-style="normal" fill="#000" >-0.4</text><text transform="translate(1327.4,690.9) rotate(-90)" x="0" y="0" font-family="DejaVu Sans, sans-serif" font-size="25" text-anchor="middle" dominant-baseline="central">E-E<tspan font-size="17.8" dy="5.5">F</tspan><tspan dy="-5.5"> (eV)</tspan></text><text x="1316" y="527" font-family="Liberation Sans, sans-serif" font-size="34.5" text-anchor="start" font-weight="normal" font-style="normal" fill="#000" >(f)</text><text x="1575.5" y="501" font-family="Liberation Sans, sans-serif" font-size="33" text-anchor="middle" font-weight="bold" font-style="normal" fill="#000" >1q (110)</text><line x1="1547.5" y1="512.9" x2="1547.5" y2="868.7" stroke="#000" stroke-width="1.2" /><line x1="1689" y1="512.9" x2="1689" y2="868.7" stroke="#000" stroke-width="1.2" /><text x="1405" y="899" font-family="Liberation Serif, sans-serif" font-size="27" text-anchor="middle" font-weight="normal" font-style="italic" fill="#000" >X</text><line x1="1401.5" y1="877.4" x2="1412.8" y2="877.4" stroke="#000" stroke-width="1.8900000000000001" /><text x="1546" y="899" font-family="Liberation Serif, sans-serif" font-size="27" text-anchor="middle" font-weight="normal" font-style="italic" fill="#000" >Γ</text><line x1="1542.5" y1="877.4" x2="1553.8" y2="877.4" stroke="#000" stroke-width="1.8900000000000001" /><text x="1682" y="899" font-family="Liberation Serif, sans-serif" font-size="27" text-anchor="middle" font-weight="normal" font-style="italic" fill="#000" >Z</text><line x1="1678.5" y1="877.4" x2="1689.8" y2="877.4" stroke="#000" stroke-width="1.8900000000000001" /><text x="1709" y="898.2" font-family="DejaVu Sans, sans-serif" font-size="26" text-anchor="middle" font-weight="normal" font-style="normal" fill="#000" >→</text><text x="1737" y="899" font-family="Liberation Serif, sans-serif" font-size="27" text-anchor="middle" font-weight="normal" font-style="italic" fill="#000" >R</text><line x1="1733.5" y1="877.4" x2="1744.8" y2="877.4" stroke="#000" stroke-width="1.8900000000000001" /><rect x="90" y="924" width="340" height="339" fill="none" stroke="#000" stroke-width="2.0"/><line x1="121.6" y1="924" x2="121.6" y2="931" stroke="#000" stroke-width="1.6" /><line x1="121.6" y1="1256" x2="121.6" y2="1263" stroke="#000" stroke-width="1.6" /><line x1="191" y1="924" x2="191" y2="931" stroke="#000" stroke-width="1.6" /><line x1="191" y1="1256" x2="191" y2="1263" stroke="#000" stroke-width="1.6" /><line x1="260.4" y1="924" x2="260.4" y2="931" stroke="#000" stroke-width="1.6" /><line x1="260.4" y1="1256" x2="260.4" y2="1263" stroke="#000" stroke-width="1.6" /><line x1="329.8" y1="924" x2="329.8" y2="931" stroke="#000" stroke-width="1.6" /><line x1="329.8" y1="1256" x2="329.8" y2="1263" stroke="#000" stroke-width="1.6" /><line x1="399.2" y1="924" x2="399.2" y2="931" stroke="#000" stroke-width="1.6" /><line x1="399.2" y1="1256" x2="399.2" y2="1263" stroke="#000" stroke-width="1.6" /><line x1="90" y1="1232.3" x2="97" y2="1232.3" stroke="#000" stroke-width="1.6" /><line x1="423" y1="1232.3" x2="430" y2="1232.3" stroke="#000" stroke-width="1.6" /><line x1="90" y1="1162.9" x2="97" y2="1162.9" stroke="#000" stroke-width="1.6" /><line x1="423" y1="1162.9" x2="430" y2="1162.9" stroke="#000" stroke-width="1.6" /><line x1="90" y1="1093.5" x2="97" y2="1093.5" stroke="#000" stroke-width="1.6" /><line x1="423" y1="1093.5" x2="430" y2="1093.5" stroke="#000" stroke-width="1.6" /><line x1="90" y1="1024.1" x2="97" y2="1024.1" stroke="#000" stroke-width="1.6" /><line x1="423" y1="1024.1" x2="430" y2="1024.1" stroke="#000" stroke-width="1.6" /><line x1="90" y1="954.7" x2="97" y2="954.7" stroke="#000" stroke-width="1.6" /><line x1="423" y1="954.7" x2="430" y2="954.7" stroke="#000" stroke-width="1.6" /><text x="86.4" y="963.5" font-family="DejaVu Sans, sans-serif" font-size="24" text-anchor="end" font-weight="normal" font-style="normal" fill="#000" letter-spacing="-0.6">0.4</text><text x="86.4" y="1032.9" font-family="DejaVu Sans, sans-serif" font-size="24" text-anchor="end" font-weight="normal" font-style="normal" fill="#000" letter-spacing="-0.6">0.2</text><text x="86.4" y="1102.3" font-family="DejaVu Sans, sans-serif" font-size="24" text-anchor="end" font-weight="normal" font-style="normal" fill="#000" letter-spacing="-0.6">0.0</text><text x="86.4" y="1171.7" font-family="DejaVu Sans, sans-serif" font-size="24" text-anchor="end" font-weight="normal" font-style="normal" fill="#000" letter-spacing="-0.6">-0.2</text><text x="86.4" y="1241.1" font-family="DejaVu Sans, sans-serif" font-size="24" text-anchor="end" font-weight="normal" font-style="normal" fill="#000" letter-spacing="-0.6">-0.4</text><text transform="translate(20,1093.5) rotate(-90)" x="0" y="0" font-family="DejaVu Sans, sans-serif" font-size="24" text-anchor="middle" dominant-baseline="central">k<tspan font-size="17" dy="5">y</tspan><tspan dy="-5"> (1/Å)</tspan></text><text x="1.6" y="940" font-family="Liberation Sans, sans-serif" font-size="34.5" text-anchor="start" font-weight="normal" font-style="normal" fill="#000" >(g)</text><text x="159.5" y="963.3" font-family="Liberation Sans, sans-serif" font-size="33" text-anchor="middle" font-weight="normal" font-style="normal" fill="#ffbf00" >0.000</text><text x="242.4" y="1120.5" font-family="Liberation Serif, sans-serif" font-size="27" text-anchor="middle" font-weight="normal" font-style="italic" fill="#000" >Γ</text><line x1="238.9" y1="1098.9" x2="250.2" y2="1098.9" stroke="#000" stroke-width="1.8900000000000001" /><text x="418" y="1120.5" font-family="Liberation Serif, sans-serif" font-size="27" text-anchor="middle" font-weight="normal" font-style="italic" fill="#000" >X</text><line x1="414.5" y1="1098.9" x2="425.8" y2="1098.9" stroke="#000" stroke-width="1.8900000000000001" /><text x="416" y="950" font-family="Liberation Serif, sans-serif" font-size="27" text-anchor="middle" font-weight="normal" font-style="italic" fill="#000" >M</text><line x1="412.5" y1="928.4" x2="423.8" y2="928.4" stroke="#000" stroke-width="1.8900000000000001" /><rect x="529.4" y="923" width="340" height="339" fill="none" stroke="#000" stroke-width="2.0"/><line x1="560.2" y1="923" x2="560.2" y2="930" stroke="#000" stroke-width="1.6" /><line x1="560.2" y1="1255" x2="560.2" y2="1262" stroke="#000" stroke-width="1.6" /><line x1="629.6" y1="923" x2="629.6" y2="930" stroke="#000" stroke-width="1.6" /><line x1="629.6" y1="1255" x2="629.6" y2="1262" stroke="#000" stroke-width="1.6" /><line x1="699" y1="923" x2="699" y2="930" stroke="#000" stroke-width="1.6" /><line x1="699" y1="1255" x2="699" y2="1262" stroke="#000" stroke-width="1.6" /><line x1="768.4" y1="923" x2="768.4" y2="930" stroke="#000" stroke-width="1.6" /><line x1="768.4" y1="1255" x2="768.4" y2="1262" stroke="#000" stroke-width="1.6" /><line x1="837.8" y1="923" x2="837.8" y2="930" stroke="#000" stroke-width="1.6" /><line x1="837.8" y1="1255" x2="837.8" y2="1262" stroke="#000" stroke-width="1.6" /><line x1="529.4" y1="1231.1" x2="536.4" y2="1231.1" stroke="#000" stroke-width="1.6" /><line x1="862.4" y1="1231.1" x2="869.4" y2="1231.1" stroke="#000" stroke-width="1.6" /><line x1="529.4" y1="1161.7" x2="536.4" y2="1161.7" stroke="#000" stroke-width="1.6" /><line x1="862.4" y1="1161.7" x2="869.4" y2="1161.7" stroke="#000" stroke-width="1.6" /><line x1="529.4" y1="1092.3" x2="536.4" y2="1092.3" stroke="#000" stroke-width="1.6" /><line x1="862.4" y1="1092.3" x2="869.4" y2="1092.3" stroke="#000" stroke-width="1.6" /><line x1="529.4" y1="1022.9" x2="536.4" y2="1022.9" stroke="#000" stroke-width="1.6" /><line x1="862.4" y1="1022.9" x2="869.4" y2="1022.9" stroke="#000" stroke-width="1.6" /><line x1="529.4" y1="953.5" x2="536.4" y2="953.5" stroke="#000" stroke-width="1.6" /><line x1="862.4" y1="953.5" x2="869.4" y2="953.5" stroke="#000" stroke-width="1.6" /><text x="525.8" y="962.3" font-family="DejaVu Sans, sans-serif" font-size="24" text-anchor="end" font-weight="normal" font-style="normal" fill="#000" letter-spacing="-0.6">0.4</text><text x="525.8" y="1031.7" font-family="DejaVu Sans, sans-serif" font-size="24" text-anchor="end" font-weight="normal" font-style="normal" fill="#000" letter-spacing="-0.6">0.2</text><text x="525.8" y="1101.1" font-family="DejaVu Sans, sans-serif" font-size="24" text-anchor="end" font-weight="normal" font-style="normal" fill="#000" letter-spacing="-0.6">0.0</text><text x="525.8" y="1170.5" font-family="DejaVu Sans, sans-serif" font-size="24" text-anchor="end" font-weight="normal" font-style="normal" fill="#000" letter-spacing="-0.6">-0.2</text><text x="525.8" y="1239.9" font-family="DejaVu Sans, sans-serif" font-size="24" text-anchor="end" font-weight="normal" font-style="normal" fill="#000" letter-spacing="-0.6">-0.4</text><text transform="translate(459.4,1092.3) rotate(-90)" x="0" y="0" font-family="DejaVu Sans, sans-serif" font-size="24" text-anchor="middle" dominant-baseline="central">k<tspan font-size="17" dy="5">y</tspan><tspan dy="-5"> (1/Å)</tspan></text><text x="442.4" y="945" font-family="Liberation Sans, sans-serif" font-size="34.5" text-anchor="start" font-weight="normal" font-style="normal" fill="#000" >(h)</text><text x="598.5" y="963.5" font-family="Liberation Sans, sans-serif" font-size="33" text-anchor="middle" font-weight="normal" font-style="normal" fill="#ffbf00" >0.000</text><text x="681" y="1119.3" font-family="Liberation Serif, sans-serif" font-size="27" text-anchor="middle" font-weight="normal" font-style="italic" fill="#000" >Γ</text><line x1="677.5" y1="1097.7" x2="688.8" y2="1097.7" stroke="#000" stroke-width="1.8900000000000001" /><text x="857.4" y="1119.3" font-family="Liberation Serif, sans-serif" font-size="27" text-anchor="middle" font-weight="normal" font-style="italic" fill="#000" >X</text><line x1="853.9" y1="1097.7" x2="865.2" y2="1097.7" stroke="#000" stroke-width="1.8900000000000001" /><text x="855.4" y="949" font-family="Liberation Serif, sans-serif" font-size="27" text-anchor="middle" font-weight="normal" font-style="italic" fill="#000" >M</text><line x1="851.9" y1="927.4" x2="863.2" y2="927.4" stroke="#000" stroke-width="1.8900000000000001" /><rect x="967" y="922" width="340" height="339" fill="none" stroke="#000" stroke-width="2.0"/><line x1="998.2" y1="922" x2="998.2" y2="929" stroke="#000" stroke-width="1.6" /><line x1="998.2" y1="1254" x2="998.2" y2="1261" stroke="#000" stroke-width="1.6" /><line x1="1067.6" y1="922" x2="1067.6" y2="929" stroke="#000" stroke-width="1.6" /><line x1="1067.6" y1="1254" x2="1067.6" y2="1261" stroke="#000" stroke-width="1.6" /><line x1="1137" y1="922" x2="1137" y2="929" stroke="#000" stroke-width="1.6" /><line x1="1137" y1="1254" x2="1137" y2="1261" stroke="#000" stroke-width="1.6" /><line x1="1206.4" y1="922" x2="1206.4" y2="929" stroke="#000" stroke-width="1.6" /><line x1="1206.4" y1="1254" x2="1206.4" y2="1261" stroke="#000" stroke-width="1.6" /><line x1="1275.8" y1="922" x2="1275.8" y2="929" stroke="#000" stroke-width="1.6" /><line x1="1275.8" y1="1254" x2="1275.8" y2="1261" stroke="#000" stroke-width="1.6" /><line x1="967" y1="1229.8" x2="974" y2="1229.8" stroke="#000" stroke-width="1.6" /><line x1="1300" y1="1229.8" x2="1307" y2="1229.8" stroke="#000" stroke-width="1.6" /><line x1="967" y1="1160.4" x2="974" y2="1160.4" stroke="#000" stroke-width="1.6" /><line x1="1300" y1="1160.4" x2="1307" y2="1160.4" stroke="#000" stroke-width="1.6" /><line x1="967" y1="1091" x2="974" y2="1091" stroke="#000" stroke-width="1.6" /><line x1="1300" y1="1091" x2="1307" y2="1091" stroke="#000" stroke-width="1.6" /><line x1="967" y1="1021.6" x2="974" y2="1021.6" stroke="#000" stroke-width="1.6" /><line x1="1300" y1="1021.6" x2="1307" y2="1021.6" stroke="#000" stroke-width="1.6" /><line x1="967" y1="952.2" x2="974" y2="952.2" stroke="#000" stroke-width="1.6" /><line x1="1300" y1="952.2" x2="1307" y2="952.2" stroke="#000" stroke-width="1.6" /><text x="963.4" y="961" font-family="DejaVu Sans, sans-serif" font-size="24" text-anchor="end" font-weight="normal" font-style="normal" fill="#000" letter-spacing="-0.6">0.4</text><text x="963.4" y="1030.4" font-family="DejaVu Sans, sans-serif" font-size="24" text-anchor="end" font-weight="normal" font-style="normal" fill="#000" letter-spacing="-0.6">0.2</text><text x="963.4" y="1099.8" font-family="DejaVu Sans, sans-serif" font-size="24" text-anchor="end" font-weight="normal" font-style="normal" fill="#000" letter-spacing="-0.6">0.0</text><text x="963.4" y="1169.2" font-family="DejaVu Sans, sans-serif" font-size="24" text-anchor="end" font-weight="normal" font-style="normal" fill="#000" letter-spacing="-0.6">-0.2</text><text x="963.4" y="1238.6" font-family="DejaVu Sans, sans-serif" font-size="24" text-anchor="end" font-weight="normal" font-style="normal" fill="#000" letter-spacing="-0.6">-0.4</text><text transform="translate(897,1091) rotate(-90)" x="0" y="0" font-family="DejaVu Sans, sans-serif" font-size="24" text-anchor="middle" dominant-baseline="central">k<tspan font-size="17" dy="5">z</tspan><tspan dy="-5"> (1/Å)</tspan></text><text x="882.7" y="941.6" font-family="Liberation Sans, sans-serif" font-size="34.5" text-anchor="start" font-weight="normal" font-style="normal" fill="#000" >(i)</text><text x="1035.6" y="962.8" font-family="Liberation Sans, sans-serif" font-size="33" text-anchor="middle" font-weight="normal" font-style="normal" fill="#ffbf00" >0.000</text><text x="1119" y="1118" font-family="Liberation Serif, sans-serif" font-size="27" text-anchor="middle" font-weight="normal" font-style="italic" fill="#000" >Γ</text><line x1="1115.5" y1="1096.4" x2="1126.8" y2="1096.4" stroke="#000" stroke-width="1.8900000000000001" /><text x="1295" y="1118" font-family="Liberation Serif, sans-serif" font-size="27" text-anchor="middle" font-weight="normal" font-style="italic" fill="#000" >X</text><line x1="1291.5" y1="1096.4" x2="1302.8" y2="1096.4" stroke="#000" stroke-width="1.8900000000000001" /><text x="1293" y="948" font-family="Liberation Serif, sans-serif" font-size="27" text-anchor="middle" font-weight="normal" font-style="italic" fill="#000" >R</text><line x1="1289.5" y1="926.4" x2="1300.8" y2="926.4" stroke="#000" stroke-width="1.8900000000000001" /><text x="1122" y="949" font-family="Liberation Serif, sans-serif" font-size="27" text-anchor="middle" font-weight="normal" font-style="italic" fill="#000" >Z</text><line x1="1118.5" y1="927.4" x2="1129.8" y2="927.4" stroke="#000" stroke-width="1.8900000000000001" /><rect x="1406" y="922" width="340" height="339" fill="none" stroke="#000" stroke-width="2.0"/><line x1="1437.2" y1="922" x2="1437.2" y2="929" stroke="#000" stroke-width="1.6" /><line x1="1437.2" y1="1254" x2="1437.2" y2="1261" stroke="#000" stroke-width="1.6" /><line x1="1506.6" y1="922" x2="1506.6" y2="929" stroke="#000" stroke-width="1.6" /><line x1="1506.6" y1="1254" x2="1506.6" y2="1261" stroke="#000" stroke-width="1.6" /><line x1="1576" y1="922" x2="1576" y2="929" stroke="#000" stroke-width="1.6" /><line x1="1576" y1="1254" x2="1576" y2="1261" stroke="#000" stroke-width="1.6" /><line x1="1645.4" y1="922" x2="1645.4" y2="929" stroke="#000" stroke-width="1.6" /><line x1="1645.4" y1="1254" x2="1645.4" y2="1261" stroke="#000" stroke-width="1.6" /><line x1="1714.8" y1="922" x2="1714.8" y2="929" stroke="#000" stroke-width="1.6" /><line x1="1714.8" y1="1254" x2="1714.8" y2="1261" stroke="#000" stroke-width="1.6" /><line x1="1406" y1="1229.8" x2="1413" y2="1229.8" stroke="#000" stroke-width="1.6" /><line x1="1739" y1="1229.8" x2="1746" y2="1229.8" stroke="#000" stroke-width="1.6" /><line x1="1406" y1="1160.4" x2="1413" y2="1160.4" stroke="#000" stroke-width="1.6" /><line x1="1739" y1="1160.4" x2="1746" y2="1160.4" stroke="#000" stroke-width="1.6" /><line x1="1406" y1="1091" x2="1413" y2="1091" stroke="#000" stroke-width="1.6" /><line x1="1739" y1="1091" x2="1746" y2="1091" stroke="#000" stroke-width="1.6" /><line x1="1406" y1="1021.6" x2="1413" y2="1021.6" stroke="#000" stroke-width="1.6" /><line x1="1739" y1="1021.6" x2="1746" y2="1021.6" stroke="#000" stroke-width="1.6" /><line x1="1406" y1="952.2" x2="1413" y2="952.2" stroke="#000" stroke-width="1.6" /><line x1="1739" y1="952.2" x2="1746" y2="952.2" stroke="#000" stroke-width="1.6" /><text x="1402.4" y="961" font-family="DejaVu Sans, sans-serif" font-size="24" text-anchor="end" font-weight="normal" font-style="normal" fill="#000" letter-spacing="-0.6">0.4</text><text x="1402.4" y="1030.4" font-family="DejaVu Sans, sans-serif" font-size="24" text-anchor="end" font-weight="normal" font-style="normal" fill="#000" letter-spacing="-0.6">0.2</text><text x="1402.4" y="1099.8" font-family="DejaVu Sans, sans-serif" font-size="24" text-anchor="end" font-weight="normal" font-style="normal" fill="#000" letter-spacing="-0.6">0.0</text><text x="1402.4" y="1169.2" font-family="DejaVu Sans, sans-serif" font-size="24" text-anchor="end" font-weight="normal" font-style="normal" fill="#000" letter-spacing="-0.6">-0.2</text><text x="1402.4" y="1238.6" font-family="DejaVu Sans, sans-serif" font-size="24" text-anchor="end" font-weight="normal" font-style="normal" fill="#000" letter-spacing="-0.6">-0.4</text><text transform="translate(1336,1091) rotate(-90)" x="0" y="0" font-family="DejaVu Sans, sans-serif" font-size="24" text-anchor="middle" dominant-baseline="central">k<tspan font-size="17" dy="5">z</tspan><tspan dy="-5"> (1/Å)</tspan></text><text x="1322.5" y="941.6" font-family="Liberation Sans, sans-serif" font-size="34.5" text-anchor="start" font-weight="normal" font-style="normal" fill="#000" >(j)</text><text x="1474" y="962.8" font-family="Liberation Sans, sans-serif" font-size="33" text-anchor="middle" font-weight="normal" font-style="normal" fill="#ffbf00" >0.000</text><text x="1558" y="1118" font-family="Liberation Serif, sans-serif" font-size="27" text-anchor="middle" font-weight="normal" font-style="italic" fill="#000" >Γ</text><line x1="1554.5" y1="1096.4" x2="1565.8" y2="1096.4" stroke="#000" stroke-width="1.8900000000000001" /><text x="1734" y="1118" font-family="Liberation Serif, sans-serif" font-size="27" text-anchor="middle" font-weight="normal" font-style="italic" fill="#000" >X</text><line x1="1730.5" y1="1096.4" x2="1741.8" y2="1096.4" stroke="#000" stroke-width="1.8900000000000001" /><text x="1732" y="948" font-family="Liberation Serif, sans-serif" font-size="27" text-anchor="middle" font-weight="normal" font-style="italic" fill="#000" >R</text><line x1="1728.5" y1="926.4" x2="1739.8" y2="926.4" stroke="#000" stroke-width="1.8900000000000001" /><text x="1561" y="949" font-family="Liberation Serif, sans-serif" font-size="27" text-anchor="middle" font-weight="normal" font-style="italic" fill="#000" >Z</text><line x1="1557.5" y1="927.4" x2="1568.8" y2="927.4" stroke="#000" stroke-width="1.8900000000000001" /><rect x="90" y="1273" width="340" height="339" fill="none" stroke="#000" stroke-width="2.0"/><line x1="120.8" y1="1273" x2="120.8" y2="1280" stroke="#000" stroke-width="1.6" /><line x1="120.8" y1="1605" x2="120.8" y2="1612" stroke="#000" stroke-width="1.6" /><line x1="190.2" y1="1273" x2="190.2" y2="1280" stroke="#000" stroke-width="1.6" /><line x1="190.2" y1="1605" x2="190.2" y2="1612" stroke="#000" stroke-width="1.6" /><line x1="259.6" y1="1273" x2="259.6" y2="1280" stroke="#000" stroke-width="1.6" /><line x1="259.6" y1="1605" x2="259.6" y2="1612" stroke="#000" stroke-width="1.6" /><line x1="329" y1="1273" x2="329" y2="1280" stroke="#000" stroke-width="1.6" /><line x1="329" y1="1605" x2="329" y2="1612" stroke="#000" stroke-width="1.6" /><line x1="398.4" y1="1273" x2="398.4" y2="1280" stroke="#000" stroke-width="1.6" /><line x1="398.4" y1="1605" x2="398.4" y2="1612" stroke="#000" stroke-width="1.6" /><line x1="90" y1="1581.4" x2="97" y2="1581.4" stroke="#000" stroke-width="1.6" /><line x1="423" y1="1581.4" x2="430" y2="1581.4" stroke="#000" stroke-width="1.6" /><line x1="90" y1="1512" x2="97" y2="1512" stroke="#000" stroke-width="1.6" /><line x1="423" y1="1512" x2="430" y2="1512" stroke="#000" stroke-width="1.6" /><line x1="90" y1="1442.6" x2="97" y2="1442.6" stroke="#000" stroke-width="1.6" /><line x1="423" y1="1442.6" x2="430" y2="1442.6" stroke="#000" stroke-width="1.6" /><line x1="90" y1="1373.2" x2="97" y2="1373.2" stroke="#000" stroke-width="1.6" /><line x1="423" y1="1373.2" x2="430" y2="1373.2" stroke="#000" stroke-width="1.6" /><line x1="90" y1="1303.8" x2="97" y2="1303.8" stroke="#000" stroke-width="1.6" /><line x1="423" y1="1303.8" x2="430" y2="1303.8" stroke="#000" stroke-width="1.6" /><text x="86.4" y="1312.6" font-family="DejaVu Sans, sans-serif" font-size="24" text-anchor="end" font-weight="normal" font-style="normal" fill="#000" letter-spacing="-0.6">0.4</text><text x="86.4" y="1382" font-family="DejaVu Sans, sans-serif" font-size="24" text-anchor="end" font-weight="normal" font-style="normal" fill="#000" letter-spacing="-0.6">0.2</text><text x="86.4" y="1451.4" font-family="DejaVu Sans, sans-serif" font-size="24" text-anchor="end" font-weight="normal" font-style="normal" fill="#000" letter-spacing="-0.6">0.0</text><text x="86.4" y="1520.8" font-family="DejaVu Sans, sans-serif" font-size="24" text-anchor="end" font-weight="normal" font-style="normal" fill="#000" letter-spacing="-0.6">-0.2</text><text x="86.4" y="1590.2" font-family="DejaVu Sans, sans-serif" font-size="24" text-anchor="end" font-weight="normal" font-style="normal" fill="#000" letter-spacing="-0.6">-0.4</text><text transform="translate(20,1442.6) rotate(-90)" x="0" y="0" font-family="DejaVu Sans, sans-serif" font-size="24" text-anchor="middle" dominant-baseline="central">k<tspan font-size="17" dy="5">y</tspan><tspan dy="-5"> (1/Å)</tspan></text><text x="1.7" y="1299" font-family="Liberation Sans, sans-serif" font-size="34.5" text-anchor="start" font-weight="normal" font-style="normal" fill="#000" >(k)</text><text x="159.6" y="1314" font-family="Liberation Sans, sans-serif" font-size="33" text-anchor="middle" font-weight="normal" font-style="normal" fill="#ffbf00" >−0.100</text><text x="120.8" y="1637" font-family="DejaVu Sans, sans-serif" font-size="24" text-anchor="middle" font-weight="normal" font-style="normal" fill="#000" >-0.4</text><text x="190.2" y="1637" font-family="DejaVu Sans, sans-serif" font-size="24" text-anchor="middle" font-weight="normal" font-style="normal" fill="#000" >-0.2</text><text x="259.6" y="1637" font-family="DejaVu Sans, sans-serif" font-size="24" text-anchor="middle" font-weight="normal" font-style="normal" fill="#000" >0.0</text><text x="329" y="1637" font-family="DejaVu Sans, sans-serif" font-size="24" text-anchor="middle" font-weight="normal" font-style="normal" fill="#000" >0.2</text><text x="398.4" y="1637" font-family="DejaVu Sans, sans-serif" font-size="24" text-anchor="middle" font-weight="normal" font-style="normal" fill="#000" >0.4</text><text x="259.6" y="1666" font-family="DejaVu Sans, sans-serif" font-size="24" text-anchor="middle" font-weight="normal" font-style="normal" fill="#000" >k<tspan font-size="17" dy="5">x</tspan><tspan dy="-5"> (1/Å)</tspan></text><text x="241.6" y="1469.6" font-family="Liberation Serif, sans-serif" font-size="27" text-anchor="middle" font-weight="normal" font-style="italic" fill="#000" >Γ</text><line x1="238.1" y1="1448" x2="249.4" y2="1448" stroke="#000" stroke-width="1.8900000000000001" /><text x="418" y="1469.6" font-family="Liberation Serif, sans-serif" font-size="27" text-anchor="middle" font-weight="normal" font-style="italic" fill="#000" >X</text><line x1="414.5" y1="1448" x2="425.8" y2="1448" stroke="#000" stroke-width="1.8900000000000001" /><text x="416" y="1299" font-family="Liberation Serif, sans-serif" font-size="27" text-anchor="middle" font-weight="normal" font-style="italic" fill="#000" >M</text><line x1="412.5" y1="1277.4" x2="423.8" y2="1277.4" stroke="#000" stroke-width="1.8900000000000001" /><rect x="528.5" y="1273" width="340.5" height="339" fill="none" stroke="#000" stroke-width="2.0"/><line x1="559.8" y1="1273" x2="559.8" y2="1280" stroke="#000" stroke-width="1.6" /><line x1="559.8" y1="1605" x2="559.8" y2="1612" stroke="#000" stroke-width="1.6" /><line x1="629.2" y1="1273" x2="629.2" y2="1280" stroke="#000" stroke-width="1.6" /><line x1="629.2" y1="1605" x2="629.2" y2="1612" stroke="#000" stroke-width="1.6" /><line x1="698.6" y1="1273" x2="698.6" y2="1280" stroke="#000" stroke-width="1.6" /><line x1="698.6" y1="1605" x2="698.6" y2="1612" stroke="#000" stroke-width="1.6" /><line x1="768" y1="1273" x2="768" y2="1280" stroke="#000" stroke-width="1.6" /><line x1="768" y1="1605" x2="768" y2="1612" stroke="#000" stroke-width="1.6" /><line x1="837.4" y1="1273" x2="837.4" y2="1280" stroke="#000" stroke-width="1.6" /><line x1="837.4" y1="1605" x2="837.4" y2="1612" stroke="#000" stroke-width="1.6" /><line x1="528.5" y1="1581.3" x2="535.5" y2="1581.3" stroke="#000" stroke-width="1.6" /><line x1="862" y1="1581.3" x2="869" y2="1581.3" stroke="#000" stroke-width="1.6" /><line x1="528.5" y1="1511.9" x2="535.5" y2="1511.9" stroke="#000" stroke-width="1.6" /><line x1="862" y1="1511.9" x2="869" y2="1511.9" stroke="#000" stroke-width="1.6" /><line x1="528.5" y1="1442.5" x2="535.5" y2="1442.5" stroke="#000" stroke-width="1.6" /><line x1="862" y1="1442.5" x2="869" y2="1442.5" stroke="#000" stroke-width="1.6" /><line x1="528.5" y1="1373.1" x2="535.5" y2="1373.1" stroke="#000" stroke-width="1.6" /><line x1="862" y1="1373.1" x2="869" y2="1373.1" stroke="#000" stroke-width="1.6" /><line x1="528.5" y1="1303.7" x2="535.5" y2="1303.7" stroke="#000" stroke-width="1.6" /><line x1="862" y1="1303.7" x2="869" y2="1303.7" stroke="#000" stroke-width="1.6" /><text x="524.9" y="1312.5" font-family="DejaVu Sans, sans-serif" font-size="24" text-anchor="end" font-weight="normal" font-style="normal" fill="#000" letter-spacing="-0.6">0.4</text><text x="524.9" y="1381.9" font-family="DejaVu Sans, sans-serif" font-size="24" text-anchor="end" font-weight="normal" font-style="normal" fill="#000" letter-spacing="-0.6">0.2</text><text x="524.9" y="1451.3" font-family="DejaVu Sans, sans-serif" font-size="24" text-anchor="end" font-weight="normal" font-style="normal" fill="#000" letter-spacing="-0.6">0.0</text><text x="524.9" y="1520.7" font-family="DejaVu Sans, sans-serif" font-size="24" text-anchor="end" font-weight="normal" font-style="normal" fill="#000" letter-spacing="-0.6">-0.2</text><text x="524.9" y="1590.1" font-family="DejaVu Sans, sans-serif" font-size="24" text-anchor="end" font-weight="normal" font-style="normal" fill="#000" letter-spacing="-0.6">-0.4</text><text transform="translate(458.5,1442.5) rotate(-90)" x="0" y="0" font-family="DejaVu Sans, sans-serif" font-size="24" text-anchor="middle" dominant-baseline="central">k<tspan font-size="17" dy="5">y</tspan><tspan dy="-5"> (1/Å)</tspan></text><text x="443" y="1299" font-family="Liberation Sans, sans-serif" font-size="34.5" text-anchor="start" font-weight="normal" font-style="normal" fill="#000" >(l)</text><text x="596.8" y="1314" font-family="Liberation Sans, sans-serif" font-size="33" text-anchor="middle" font-weight="normal" font-style="normal" fill="#ffbf00" >−0.050</text><text x="559.8" y="1637" font-family="DejaVu Sans, sans-serif" font-size="24" text-anchor="middle" font-weight="normal" font-style="normal" fill="#000" >-0.4</text><text x="629.2" y="1637" font-family="DejaVu Sans, sans-serif" font-size="24" text-anchor="middle" font-weight="normal" font-style="normal" fill="#000" >-0.2</text><text x="698.6" y="1637" font-family="DejaVu Sans, sans-serif" font-size="24" text-anchor="middle" font-weight="normal" font-style="normal" fill="#000" >0.0</text><text x="768" y="1637" font-family="DejaVu Sans, sans-serif" font-size="24" text-anchor="middle" font-weight="normal" font-style="normal" fill="#000" >0.2</text><text x="837.4" y="1637" font-family="DejaVu Sans, sans-serif" font-size="24" text-anchor="middle" font-weight="normal" font-style="normal" fill="#000" >0.4</text><text x="698.6" y="1666" font-family="DejaVu Sans, sans-serif" font-size="24" text-anchor="middle" font-weight="normal" font-style="normal" fill="#000" >k<tspan font-size="17" dy="5">x</tspan><tspan dy="-5"> (1/Å)</tspan></text><text x="680.6" y="1469.5" font-family="Liberation Serif, sans-serif" font-size="27" text-anchor="middle" font-weight="normal" font-style="italic" fill="#000" >Γ</text><line x1="677.1" y1="1447.9" x2="688.4" y2="1447.9" stroke="#000" stroke-width="1.8900000000000001" /><text x="857" y="1469.5" font-family="Liberation Serif, sans-serif" font-size="27" text-anchor="middle" font-weight="normal" font-style="italic" fill="#000" >X</text><line x1="853.5" y1="1447.9" x2="864.8" y2="1447.9" stroke="#000" stroke-width="1.8900000000000001" /><text x="855" y="1299" font-family="Liberation Serif, sans-serif" font-size="27" text-anchor="middle" font-weight="normal" font-style="italic" fill="#000" >M</text><line x1="851.5" y1="1277.4" x2="862.8" y2="1277.4" stroke="#000" stroke-width="1.8900000000000001" /><rect x="968" y="1273" width="339" height="338" fill="none" stroke="#000" stroke-width="2.0"/><line x1="999.2" y1="1273" x2="999.2" y2="1280" stroke="#000" stroke-width="1.6" /><line x1="999.2" y1="1604" x2="999.2" y2="1611" stroke="#000" stroke-width="1.6" /><line x1="1068.6" y1="1273" x2="1068.6" y2="1280" stroke="#000" stroke-width="1.6" /><line x1="1068.6" y1="1604" x2="1068.6" y2="1611" stroke="#000" stroke-width="1.6" /><line x1="1138" y1="1273" x2="1138" y2="1280" stroke="#000" stroke-width="1.6" /><line x1="1138" y1="1604" x2="1138" y2="1611" stroke="#000" stroke-width="1.6" /><line x1="1207.4" y1="1273" x2="1207.4" y2="1280" stroke="#000" stroke-width="1.6" /><line x1="1207.4" y1="1604" x2="1207.4" y2="1611" stroke="#000" stroke-width="1.6" /><line x1="1276.8" y1="1273" x2="1276.8" y2="1280" stroke="#000" stroke-width="1.6" /><line x1="1276.8" y1="1604" x2="1276.8" y2="1611" stroke="#000" stroke-width="1.6" /><line x1="968" y1="1580.8" x2="975" y2="1580.8" stroke="#000" stroke-width="1.6" /><line x1="1300" y1="1580.8" x2="1307" y2="1580.8" stroke="#000" stroke-width="1.6" /><line x1="968" y1="1511.4" x2="975" y2="1511.4" stroke="#000" stroke-width="1.6" /><line x1="1300" y1="1511.4" x2="1307" y2="1511.4" stroke="#000" stroke-width="1.6" /><line x1="968" y1="1442" x2="975" y2="1442" stroke="#000" stroke-width="1.6" /><line x1="1300" y1="1442" x2="1307" y2="1442" stroke="#000" stroke-width="1.6" /><line x1="968" y1="1372.6" x2="975" y2="1372.6" stroke="#000" stroke-width="1.6" /><line x1="1300" y1="1372.6" x2="1307" y2="1372.6" stroke="#000" stroke-width="1.6" /><line x1="968" y1="1303.2" x2="975" y2="1303.2" stroke="#000" stroke-width="1.6" /><line x1="1300" y1="1303.2" x2="1307" y2="1303.2" stroke="#000" stroke-width="1.6" /><text x="964.4" y="1312" font-family="DejaVu Sans, sans-serif" font-size="24" text-anchor="end" font-weight="normal" font-style="normal" fill="#000" letter-spacing="-0.6">0.4</text><text x="964.4" y="1381.4" font-family="DejaVu Sans, sans-serif" font-size="24" text-anchor="end" font-weight="normal" font-style="normal" fill="#000" letter-spacing="-0.6">0.2</text><text x="964.4" y="1450.8" font-family="DejaVu Sans, sans-serif" font-size="24" text-anchor="end" font-weight="normal" font-style="normal" fill="#000" letter-spacing="-0.6">0.0</text><text x="964.4" y="1520.2" font-family="DejaVu Sans, sans-serif" font-size="24" text-anchor="end" font-weight="normal" font-style="normal" fill="#000" letter-spacing="-0.6">-0.2</text><text x="964.4" y="1589.6" font-family="DejaVu Sans, sans-serif" font-size="24" text-anchor="end" font-weight="normal" font-style="normal" fill="#000" letter-spacing="-0.6">-0.4</text><text transform="translate(898,1442) rotate(-90)" x="0" y="0" font-family="DejaVu Sans, sans-serif" font-size="24" text-anchor="middle" dominant-baseline="central">k<tspan font-size="17" dy="5">z</tspan><tspan dy="-5"> (1/Å)</tspan></text><text x="877.7" y="1299" font-family="Liberation Sans, sans-serif" font-size="34.5" text-anchor="start" font-weight="normal" font-style="normal" fill="#000" >(m)</text><text x="1035.8" y="1314" font-family="Liberation Sans, sans-serif" font-size="33" text-anchor="middle" font-weight="normal" font-style="normal" fill="#ffbf00" >−0.050</text><text x="999.2" y="1636" font-family="DejaVu Sans, sans-serif" font-size="24" text-anchor="middle" font-weight="normal" font-style="normal" fill="#000" >-0.4</text><text x="1068.6" y="1636" font-family="DejaVu Sans, sans-serif" font-size="24" text-anchor="middle" font-weight="normal" font-style="normal" fill="#000" >-0.2</text><text x="1138" y="1636" font-family="DejaVu Sans, sans-serif" font-size="24" text-anchor="middle" font-weight="normal" font-style="normal" fill="#000" >0.0</text><text x="1207.4" y="1636" font-family="DejaVu Sans, sans-serif" font-size="24" text-anchor="middle" font-weight="normal" font-style="normal" fill="#000" >0.2</text><text x="1276.8" y="1636" font-family="DejaVu Sans, sans-serif" font-size="24" text-anchor="middle" font-weight="normal" font-style="normal" fill="#000" >0.4</text><text x="1138" y="1665" font-family="DejaVu Sans, sans-serif" font-size="24" text-anchor="middle" font-weight="normal" font-style="normal" fill="#000" >k<tspan font-size="17" dy="5">x</tspan><tspan dy="-5"> (1/Å)</tspan></text><text x="1120" y="1469" font-family="Liberation Serif, sans-serif" font-size="27" text-anchor="middle" font-weight="normal" font-style="italic" fill="#000" >Γ</text><line x1="1116.5" y1="1447.4" x2="1127.8" y2="1447.4" stroke="#000" stroke-width="1.8900000000000001" /><text x="1295" y="1469" font-family="Liberation Serif, sans-serif" font-size="27" text-anchor="middle" font-weight="normal" font-style="italic" fill="#000" >X</text><line x1="1291.5" y1="1447.4" x2="1302.8" y2="1447.4" stroke="#000" stroke-width="1.8900000000000001" /><text x="1293" y="1299" font-family="Liberation Serif, sans-serif" font-size="27" text-anchor="middle" font-weight="normal" font-style="italic" fill="#000" >R</text><line x1="1289.5" y1="1277.4" x2="1300.8" y2="1277.4" stroke="#000" stroke-width="1.8900000000000001" /><text x="1123" y="1300" font-family="Liberation Serif, sans-serif" font-size="27" text-anchor="middle" font-weight="normal" font-style="italic" fill="#000" >Z</text><line x1="1119.5" y1="1278.4" x2="1130.8" y2="1278.4" stroke="#000" stroke-width="1.8900000000000001" /><rect x="1407" y="1271" width="340" height="338" fill="none" stroke="#000" stroke-width="2.0"/><line x1="1437.2" y1="1271" x2="1437.2" y2="1278" stroke="#000" stroke-width="1.6" /><line x1="1437.2" y1="1602" x2="1437.2" y2="1609" stroke="#000" stroke-width="1.6" /><line x1="1506.6" y1="1271" x2="1506.6" y2="1278" stroke="#000" stroke-width="1.6" /><line x1="1506.6" y1="1602" x2="1506.6" y2="1609" stroke="#000" stroke-width="1.6" /><line x1="1576" y1="1271" x2="1576" y2="1278" stroke="#000" stroke-width="1.6" /><line x1="1576" y1="1602" x2="1576" y2="1609" stroke="#000" stroke-width="1.6" /><line x1="1645.4" y1="1271" x2="1645.4" y2="1278" stroke="#000" stroke-width="1.6" /><line x1="1645.4" y1="1602" x2="1645.4" y2="1609" stroke="#000" stroke-width="1.6" /><line x1="1714.8" y1="1271" x2="1714.8" y2="1278" stroke="#000" stroke-width="1.6" /><line x1="1714.8" y1="1602" x2="1714.8" y2="1609" stroke="#000" stroke-width="1.6" /><line x1="1407" y1="1578.3" x2="1414" y2="1578.3" stroke="#000" stroke-width="1.6" /><line x1="1740" y1="1578.3" x2="1747" y2="1578.3" stroke="#000" stroke-width="1.6" /><line x1="1407" y1="1508.9" x2="1414" y2="1508.9" stroke="#000" stroke-width="1.6" /><line x1="1740" y1="1508.9" x2="1747" y2="1508.9" stroke="#000" stroke-width="1.6" /><line x1="1407" y1="1439.5" x2="1414" y2="1439.5" stroke="#000" stroke-width="1.6" /><line x1="1740" y1="1439.5" x2="1747" y2="1439.5" stroke="#000" stroke-width="1.6" /><line x1="1407" y1="1370.1" x2="1414" y2="1370.1" stroke="#000" stroke-width="1.6" /><line x1="1740" y1="1370.1" x2="1747" y2="1370.1" stroke="#000" stroke-width="1.6" /><line x1="1407" y1="1300.7" x2="1414" y2="1300.7" stroke="#000" stroke-width="1.6" /><line x1="1740" y1="1300.7" x2="1747" y2="1300.7" stroke="#000" stroke-width="1.6" /><text x="1403.4" y="1309.5" font-family="DejaVu Sans, sans-serif" font-size="24" text-anchor="end" font-weight="normal" font-style="normal" fill="#000" letter-spacing="-0.6">0.4</text><text x="1403.4" y="1378.9" font-family="DejaVu Sans, sans-serif" font-size="24" text-anchor="end" font-weight="normal" font-style="normal" fill="#000" letter-spacing="-0.6">0.2</text><text x="1403.4" y="1448.3" font-family="DejaVu Sans, sans-serif" font-size="24" text-anchor="end" font-weight="normal" font-style="normal" fill="#000" letter-spacing="-0.6">0.0</text><text x="1403.4" y="1517.7" font-family="DejaVu Sans, sans-serif" font-size="24" text-anchor="end" font-weight="normal" font-style="normal" fill="#000" letter-spacing="-0.6">-0.2</text><text x="1403.4" y="1587.1" font-family="DejaVu Sans, sans-serif" font-size="24" text-anchor="end" font-weight="normal" font-style="normal" fill="#000" letter-spacing="-0.6">-0.4</text><text transform="translate(1337,1439.5) rotate(-90)" x="0" y="0" font-family="DejaVu Sans, sans-serif" font-size="24" text-anchor="middle" dominant-baseline="central">k<tspan font-size="17" dy="5">z</tspan><tspan dy="-5"> (1/Å)</tspan></text><text x="1322.5" y="1299" font-family="Liberation Sans, sans-serif" font-size="34.5" text-anchor="start" font-weight="normal" font-style="normal" fill="#000" >(n)</text><text x="1471.8" y="1313.7" font-family="Liberation Sans, sans-serif" font-size="33" text-anchor="middle" font-weight="normal" font-style="normal" fill="#ffbf00" >−0.010</text><text x="1437.2" y="1634" font-family="DejaVu Sans, sans-serif" font-size="24" text-anchor="middle" font-weight="normal" font-style="normal" fill="#000" >-0.4</text><text x="1506.6" y="1634" font-family="DejaVu Sans, sans-serif" font-size="24" text-anchor="middle" font-weight="normal" font-style="normal" fill="#000" >-0.2</text><text x="1576" y="1634" font-family="DejaVu Sans, sans-serif" font-size="24" text-anchor="middle" font-weight="normal" font-style="normal" fill="#000" >0.0</text><text x="1645.4" y="1634" font-family="DejaVu Sans, sans-serif" font-size="24" text-anchor="middle" font-weight="normal" font-style="normal" fill="#000" >0.2</text><text x="1714.8" y="1634" font-family="DejaVu Sans, sans-serif" font-size="24" text-anchor="middle" font-weight="normal" font-style="normal" fill="#000" >0.4</text><text x="1576" y="1663" font-family="DejaVu Sans, sans-serif" font-size="24" text-anchor="middle" font-weight="normal" font-style="normal" fill="#000" >k<tspan font-size="17" dy="5">[1-10]</tspan><tspan dy="-5"> (1/Å)</tspan></text><text x="1558" y="1466.5" font-family="Liberation Serif, sans-serif" font-size="27" text-anchor="middle" font-weight="normal" font-style="italic" fill="#000" >Γ</text><line x1="1554.5" y1="1444.9" x2="1565.8" y2="1444.9" stroke="#000" stroke-width="1.8900000000000001" /><text x="1735" y="1466.5" font-family="Liberation Serif, sans-serif" font-size="27" text-anchor="middle" font-weight="normal" font-style="italic" fill="#000" >X</text><line x1="1731.5" y1="1444.9" x2="1742.8" y2="1444.9" stroke="#000" stroke-width="1.8900000000000001" /><text x="1733" y="1297" font-family="Liberation Serif, sans-serif" font-size="27" text-anchor="middle" font-weight="normal" font-style="italic" fill="#000" >R</text><line x1="1729.5" y1="1275.4" x2="1740.8" y2="1275.4" stroke="#000" stroke-width="1.8900000000000001" /><text x="1561" y="1298" font-family="Liberation Serif, sans-serif" font-size="27" text-anchor="middle" font-weight="normal" font-style="italic" fill="#000" >Z</text><line x1="1557.5" y1="1276.4" x2="1568.8" y2="1276.4" stroke="#000" stroke-width="1.8900000000000001" /><rect x="528.7" y="1678" width="339.8" height="339" fill="none" stroke="#000" stroke-width="2.0"/><line x1="559.3" y1="1678" x2="559.3" y2="1685" stroke="#000" stroke-width="1.6" /><line x1="559.3" y1="2010" x2="559.3" y2="2017" stroke="#000" stroke-width="1.6" /><line x1="628.7" y1="1678" x2="628.7" y2="1685" stroke="#000" stroke-width="1.6" /><line x1="628.7" y1="2010" x2="628.7" y2="2017" stroke="#000" stroke-width="1.6" /><line x1="698.1" y1="1678" x2="698.1" y2="1685" stroke="#000" stroke-width="1.6" /><line x1="698.1" y1="2010" x2="698.1" y2="2017" stroke="#000" stroke-width="1.6" /><line x1="767.5" y1="1678" x2="767.5" y2="1685" stroke="#000" stroke-width="1.6" /><line x1="767.5" y1="2010" x2="767.5" y2="2017" stroke="#000" stroke-width="1.6" /><line x1="836.9" y1="1678" x2="836.9" y2="1685" stroke="#000" stroke-width="1.6" /><line x1="836.9" y1="2010" x2="836.9" y2="2017" stroke="#000" stroke-width="1.6" /><line x1="528.7" y1="1986.8" x2="535.7" y2="1986.8" stroke="#000" stroke-width="1.6" /><line x1="861.5" y1="1986.8" x2="868.5" y2="1986.8" stroke="#000" stroke-width="1.6" /><line x1="528.7" y1="1917.4" x2="535.7" y2="1917.4" stroke="#000" stroke-width="1.6" /><line x1="861.5" y1="1917.4" x2="868.5" y2="1917.4" stroke="#000" stroke-width="1.6" /><line x1="528.7" y1="1848" x2="535.7" y2="1848" stroke="#000" stroke-width="1.6" /><line x1="861.5" y1="1848" x2="868.5" y2="1848" stroke="#000" stroke-width="1.6" /><line x1="528.7" y1="1778.6" x2="535.7" y2="1778.6" stroke="#000" stroke-width="1.6" /><line x1="861.5" y1="1778.6" x2="868.5" y2="1778.6" stroke="#000" stroke-width="1.6" /><line x1="528.7" y1="1709.2" x2="535.7" y2="1709.2" stroke="#000" stroke-width="1.6" /><line x1="861.5" y1="1709.2" x2="868.5" y2="1709.2" stroke="#000" stroke-width="1.6" /><text x="525.1" y="1718" font-family="DejaVu Sans, sans-serif" font-size="24" text-anchor="end" font-weight="normal" font-style="normal" fill="#000" letter-spacing="-0.6">0.4</text><text x="525.1" y="1787.4" font-family="DejaVu Sans, sans-serif" font-size="24" text-anchor="end" font-weight="normal" font-style="normal" fill="#000" letter-spacing="-0.6">0.2</text><text x="525.1" y="1856.8" font-family="DejaVu Sans, sans-serif" font-size="24" text-anchor="end" font-weight="normal" font-style="normal" fill="#000" letter-spacing="-0.6">0.0</text><text x="525.1" y="1926.2" font-family="DejaVu Sans, sans-serif" font-size="24" text-anchor="end" font-weight="normal" font-style="normal" fill="#000" letter-spacing="-0.6">-0.2</text><text x="525.1" y="1995.6" font-family="DejaVu Sans, sans-serif" font-size="24" text-anchor="end" font-weight="normal" font-style="normal" fill="#000" letter-spacing="-0.6">-0.4</text><text transform="translate(458.7,1848) rotate(-90)" x="0" y="0" font-family="DejaVu Sans, sans-serif" font-size="24" text-anchor="middle" dominant-baseline="central">k<tspan font-size="17" dy="5">y</tspan><tspan dy="-5"> (1/Å)</tspan></text><text x="444.6" y="1699" font-family="Liberation Sans, sans-serif" font-size="34.5" text-anchor="start" font-weight="normal" font-style="normal" fill="#000" >(o)</text><text x="594.5" y="1720" font-family="Liberation Sans, sans-serif" font-size="33" text-anchor="middle" font-weight="normal" font-style="normal" fill="#ffbf00" >−0.050</text><text x="559.3" y="2042" font-family="DejaVu Sans, sans-serif" font-size="24" text-anchor="middle" font-weight="normal" font-style="normal" fill="#000" >-0.4</text><text x="628.7" y="2042" font-family="DejaVu Sans, sans-serif" font-size="24" text-anchor="middle" font-weight="normal" font-style="normal" fill="#000" >-0.2</text><text x="698.1" y="2042" font-family="DejaVu Sans, sans-serif" font-size="24" text-anchor="middle" font-weight="normal" font-style="normal" fill="#000" >0.0</text><text x="767.5" y="2042" font-family="DejaVu Sans, sans-serif" font-size="24" text-anchor="middle" font-weight="normal" font-style="normal" fill="#000" >0.2</text><text x="836.9" y="2042" font-family="DejaVu Sans, sans-serif" font-size="24" text-anchor="middle" font-weight="normal" font-style="normal" fill="#000" >0.4</text><text x="698.1" y="2071" font-family="DejaVu Sans, sans-serif" font-size="24" text-anchor="middle" font-weight="normal" font-style="normal" fill="#000" >k<tspan font-size="17" dy="5">x</tspan><tspan dy="-5"> (1/Å)</tspan></text><text x="680.1" y="1875" font-family="Liberation Serif, sans-serif" font-size="27" text-anchor="middle" font-weight="normal" font-style="italic" fill="#000" >Γ</text><line x1="676.6" y1="1853.4" x2="687.9" y2="1853.4" stroke="#000" stroke-width="1.8900000000000001" /><rect x="1408" y="1679" width="340" height="339" fill="none" stroke="#000" stroke-width="2.0"/><line x1="1439.2" y1="1679" x2="1439.2" y2="1686" stroke="#000" stroke-width="1.6" /><line x1="1439.2" y1="2011" x2="1439.2" y2="2018" stroke="#000" stroke-width="1.6" /><line x1="1508.6" y1="1679" x2="1508.6" y2="1686" stroke="#000" stroke-width="1.6" /><line x1="1508.6" y1="2011" x2="1508.6" y2="2018" stroke="#000" stroke-width="1.6" /><line x1="1578" y1="1679" x2="1578" y2="1686" stroke="#000" stroke-width="1.6" /><line x1="1578" y1="2011" x2="1578" y2="2018" stroke="#000" stroke-width="1.6" /><line x1="1647.4" y1="1679" x2="1647.4" y2="1686" stroke="#000" stroke-width="1.6" /><line x1="1647.4" y1="2011" x2="1647.4" y2="2018" stroke="#000" stroke-width="1.6" /><line x1="1716.8" y1="1679" x2="1716.8" y2="1686" stroke="#000" stroke-width="1.6" /><line x1="1716.8" y1="2011" x2="1716.8" y2="2018" stroke="#000" stroke-width="1.6" /><line x1="1408" y1="1987.5" x2="1415" y2="1987.5" stroke="#000" stroke-width="1.6" /><line x1="1741" y1="1987.5" x2="1748" y2="1987.5" stroke="#000" stroke-width="1.6" /><line x1="1408" y1="1918.1" x2="1415" y2="1918.1" stroke="#000" stroke-width="1.6" /><line x1="1741" y1="1918.1" x2="1748" y2="1918.1" stroke="#000" stroke-width="1.6" /><line x1="1408" y1="1848.7" x2="1415" y2="1848.7" stroke="#000" stroke-width="1.6" /><line x1="1741" y1="1848.7" x2="1748" y2="1848.7" stroke="#000" stroke-width="1.6" /><line x1="1408" y1="1779.3" x2="1415" y2="1779.3" stroke="#000" stroke-width="1.6" /><line x1="1741" y1="1779.3" x2="1748" y2="1779.3" stroke="#000" stroke-width="1.6" /><line x1="1408" y1="1709.9" x2="1415" y2="1709.9" stroke="#000" stroke-width="1.6" /><line x1="1741" y1="1709.9" x2="1748" y2="1709.9" stroke="#000" stroke-width="1.6" /><text x="1404.4" y="1718.7" font-family="DejaVu Sans, sans-serif" font-size="24" text-anchor="end" font-weight="normal" font-style="normal" fill="#000" letter-spacing="-0.6">0.4</text><text x="1404.4" y="1788.1" font-family="DejaVu Sans, sans-serif" font-size="24" text-anchor="end" font-weight="normal" font-style="normal" fill="#000" letter-spacing="-0.6">0.2</text><text x="1404.4" y="1857.5" font-family="DejaVu Sans, sans-serif" font-size="24" text-anchor="end" font-weight="normal" font-style="normal" fill="#000" letter-spacing="-0.6">0.0</text><text x="1404.4" y="1926.9" font-family="DejaVu Sans, sans-serif" font-size="24" text-anchor="end" font-weight="normal" font-style="normal" fill="#000" letter-spacing="-0.6">-0.2</text><text x="1404.4" y="1996.3" font-family="DejaVu Sans, sans-serif" font-size="24" text-anchor="end" font-weight="normal" font-style="normal" fill="#000" letter-spacing="-0.6">-0.4</text><text transform="translate(1338,1848.7) rotate(-90)" x="0" y="0" font-family="DejaVu Sans, sans-serif" font-size="24" text-anchor="middle" dominant-baseline="central">k<tspan font-size="17" dy="5">y</tspan><tspan dy="-5"> (1/Å)</tspan></text><text x="1320.6" y="1702" font-family="Liberation Sans, sans-serif" font-size="34.5" text-anchor="start" font-weight="normal" font-style="normal" fill="#000" >(p)</text><text x="1472.2" y="1720.8" font-family="Liberation Sans, sans-serif" font-size="33" text-anchor="middle" font-weight="normal" font-style="normal" fill="#ffbf00" >−0.010</text><text x="1439.2" y="2043" font-family="DejaVu Sans, sans-serif" font-size="24" text-anchor="middle" font-weight="normal" font-style="normal" fill="#000" >-0.4</text><text x="1508.6" y="2043" font-family="DejaVu Sans, sans-serif" font-size="24" text-anchor="middle" font-weight="normal" font-style="normal" fill="#000" >-0.2</text><text x="1578" y="2043" font-family="DejaVu Sans, sans-serif" font-size="24" text-anchor="middle" font-weight="normal" font-style="normal" fill="#000" >0.0</text><text x="1647.4" y="2043" font-family="DejaVu Sans, sans-serif" font-size="24" text-anchor="middle" font-weight="normal" font-style="normal" fill="#000" >0.2</text><text x="1716.8" y="2043" font-family="DejaVu Sans, sans-serif" font-size="24" text-anchor="middle" font-weight="normal" font-style="normal" fill="#000" >0.4</text><text x="1578" y="2072" font-family="DejaVu Sans, sans-serif" font-size="24" text-anchor="middle" font-weight="normal" font-style="normal" fill="#000" >k<tspan font-size="17" dy="5">x</tspan><tspan dy="-5"> (1/Å)</tspan></text><text x="1560" y="1875.7" font-family="Liberation Serif, sans-serif" font-size="27" text-anchor="middle" font-weight="normal" font-style="italic" fill="#000" >Γ</text><line x1="1556.5" y1="1854.1" x2="1567.8" y2="1854.1" stroke="#000" stroke-width="1.8900000000000001" /><text x="471" y="2070" font-family="Liberation Sans, sans-serif" font-size="33" text-anchor="middle" font-weight="bold" font-style="normal" fill="#000" >2q {001}</text><text x="1352" y="2067" font-family="Liberation Sans, sans-serif" font-size="33" text-anchor="middle" font-weight="bold" font-style="normal" fill="#000" >1q {001}</text></svg>
</body></html>
